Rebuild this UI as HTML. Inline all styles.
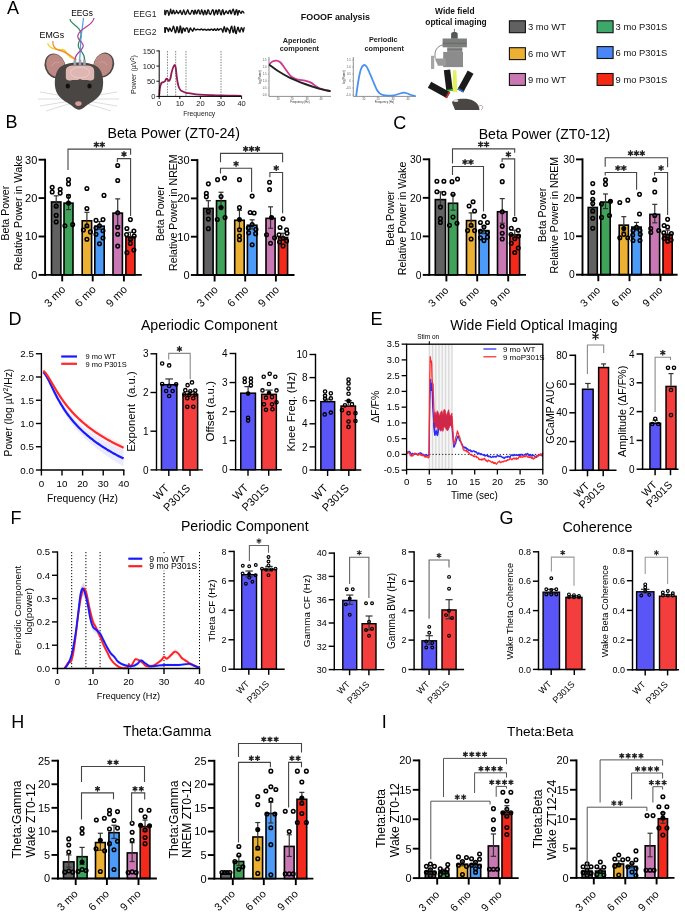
<!DOCTYPE html>
<html><head><meta charset="utf-8"><style>html,body{margin:0;padding:0;background:#fff;}svg{display:block;font-family:"Liberation Sans",sans-serif;will-change:transform;}</style></head><body>
<svg width="685" height="912" viewBox="0 0 685 912" font-family="Liberation Sans, sans-serif">
<rect x="0" y="0" width="685" height="912" fill="#fff"/>
<text x="7" y="13.9" font-size="18">A</text>
<text x="5.6" y="127.8" font-size="18">B</text>
<text x="393.3" y="129" font-size="18">C</text>
<text x="8.6" y="325" font-size="18">D</text>
<text x="370.5" y="325" font-size="18">E</text>
<text x="10.5" y="524" font-size="18">F</text>
<text x="499.5" y="524" font-size="18">G</text>
<text x="11.2" y="727.6" font-size="18">H</text>
<text x="381.7" y="727.6" font-size="18">I</text>
<text x="107.5" y="137.7" font-size="14.2">Beta Power (ZT0-24)</text>
<text x="610.3" y="138.6" font-size="14.1" text-anchor="end">Beta Power (ZT0-12)</text>
<text x="140.9" y="329.5" font-size="14.2">Aperiodic Component</text>
<text x="617.6" y="329.5" font-size="14" text-anchor="end">Wide Field Optical Imaging</text>
<text x="308.6" y="531" font-size="14.1" text-anchor="end">Periodic Component</text>
<text x="562.5" y="532" font-size="14.3">Coherence</text>
<text x="123" y="736.3" font-size="13.8">Theta:Gamma</text>
<text x="507.1" y="736.3" font-size="13.6">Theta:Beta</text>
<rect x="51.5" y="201.97" width="9.4" height="72.93" fill="#616161" stroke="#000" stroke-width="1.6"/>
<rect x="64" y="203.12" width="9" height="71.78" fill="#3fa45a" stroke="#000" stroke-width="1.6"/>
<rect x="82.2" y="220.79" width="9.4" height="54.11" fill="#ecb032" stroke="#000" stroke-width="1.6"/>
<rect x="94.8" y="226.16" width="9.4" height="48.74" fill="#4c9bf8" stroke="#000" stroke-width="1.6"/>
<rect x="113" y="213.11" width="9.4" height="61.79" fill="#c978b4" stroke="#000" stroke-width="1.6"/>
<rect x="125.9" y="236.92" width="9" height="37.98" fill="#f4281b" stroke="#000" stroke-width="1.6"/>
<line x1="56.2" y1="195.8" x2="56.2" y2="206.55" stroke="#333" stroke-width="1.2"/>
<line x1="53.7" y1="206.55" x2="58.7" y2="206.55" stroke="#333" stroke-width="1.2"/>
<line x1="53.7" y1="195.8" x2="58.7" y2="195.8" stroke="#333" stroke-width="1.2"/>
<line x1="68.5" y1="195.03" x2="68.5" y2="209.62" stroke="#333" stroke-width="1.2"/>
<line x1="66" y1="209.62" x2="71" y2="209.62" stroke="#333" stroke-width="1.2"/>
<line x1="66" y1="195.03" x2="71" y2="195.03" stroke="#333" stroke-width="1.2"/>
<line x1="86.9" y1="212.31" x2="86.9" y2="227.67" stroke="#333" stroke-width="1.2"/>
<line x1="84.4" y1="227.67" x2="89.4" y2="227.67" stroke="#333" stroke-width="1.2"/>
<line x1="84.4" y1="212.31" x2="89.4" y2="212.31" stroke="#333" stroke-width="1.2"/>
<line x1="99.5" y1="221.52" x2="99.5" y2="229.2" stroke="#333" stroke-width="1.2"/>
<line x1="97" y1="229.2" x2="102" y2="229.2" stroke="#333" stroke-width="1.2"/>
<line x1="97" y1="221.52" x2="102" y2="221.52" stroke="#333" stroke-width="1.2"/>
<line x1="117.7" y1="198.87" x2="117.7" y2="225.75" stroke="#333" stroke-width="1.2"/>
<line x1="115.2" y1="225.75" x2="120.2" y2="225.75" stroke="#333" stroke-width="1.2"/>
<line x1="115.2" y1="198.87" x2="120.2" y2="198.87" stroke="#333" stroke-width="1.2"/>
<line x1="130.4" y1="232.28" x2="130.4" y2="239.96" stroke="#333" stroke-width="1.2"/>
<line x1="127.9" y1="239.96" x2="132.9" y2="239.96" stroke="#333" stroke-width="1.2"/>
<line x1="127.9" y1="232.28" x2="132.9" y2="232.28" stroke="#333" stroke-width="1.2"/>
<circle cx="52.2" cy="187.35" r="1.8" fill="none" stroke="#000" stroke-width="1.5"/>
<circle cx="52.2" cy="191.96" r="1.8" fill="none" stroke="#000" stroke-width="1.5"/>
<circle cx="60.2" cy="189.27" r="1.8" fill="none" stroke="#000" stroke-width="1.5"/>
<circle cx="60.2" cy="193.11" r="1.8" fill="none" stroke="#000" stroke-width="1.5"/>
<circle cx="56.2" cy="206.16" r="1.8" fill="none" stroke="#000" stroke-width="1.5"/>
<circle cx="56.2" cy="215.38" r="1.8" fill="none" stroke="#000" stroke-width="1.5"/>
<circle cx="56.2" cy="221.91" r="1.8" fill="none" stroke="#000" stroke-width="1.5"/>
<circle cx="68.5" cy="179.67" r="1.8" fill="none" stroke="#000" stroke-width="1.5"/>
<circle cx="68.5" cy="183.89" r="1.8" fill="none" stroke="#000" stroke-width="1.5"/>
<circle cx="68.5" cy="196.18" r="1.8" fill="none" stroke="#000" stroke-width="1.5"/>
<circle cx="68.5" cy="203.09" r="1.8" fill="#000" stroke="#000" stroke-width="1.5"/>
<circle cx="64.9" cy="225.75" r="1.8" fill="none" stroke="#000" stroke-width="1.5"/>
<circle cx="72.7" cy="224.6" r="1.8" fill="none" stroke="#000" stroke-width="1.5"/>
<circle cx="86.9" cy="188.5" r="1.8" fill="none" stroke="#000" stroke-width="1.5"/>
<circle cx="86.9" cy="208.47" r="1.8" fill="none" stroke="#000" stroke-width="1.5"/>
<circle cx="86.9" cy="225.75" r="1.8" fill="none" stroke="#000" stroke-width="1.5"/>
<circle cx="83.4" cy="229.97" r="1.8" fill="none" stroke="#000" stroke-width="1.5"/>
<circle cx="90.4" cy="231.89" r="1.8" fill="none" stroke="#000" stroke-width="1.5"/>
<circle cx="86.9" cy="239.19" r="1.8" fill="none" stroke="#000" stroke-width="1.5"/>
<circle cx="96" cy="220.37" r="1.8" fill="none" stroke="#000" stroke-width="1.5"/>
<circle cx="103" cy="219.6" r="1.8" fill="none" stroke="#000" stroke-width="1.5"/>
<circle cx="99.5" cy="225.75" r="1.8" fill="none" stroke="#000" stroke-width="1.5"/>
<circle cx="96" cy="228.05" r="1.8" fill="none" stroke="#000" stroke-width="1.5"/>
<circle cx="103" cy="230.74" r="1.8" fill="none" stroke="#000" stroke-width="1.5"/>
<circle cx="96" cy="234.2" r="1.8" fill="none" stroke="#000" stroke-width="1.5"/>
<circle cx="103" cy="238.04" r="1.8" fill="none" stroke="#000" stroke-width="1.5"/>
<circle cx="99.5" cy="243.8" r="1.8" fill="none" stroke="#000" stroke-width="1.5"/>
<circle cx="104" cy="195.41" r="1.8" fill="none" stroke="#000" stroke-width="1.5"/>
<circle cx="117.7" cy="165.46" r="1.8" fill="none" stroke="#000" stroke-width="1.5"/>
<circle cx="117.7" cy="180.44" r="1.8" fill="none" stroke="#000" stroke-width="1.5"/>
<circle cx="117.7" cy="212.69" r="1.8" fill="none" stroke="#000" stroke-width="1.5"/>
<circle cx="117.7" cy="227.28" r="1.8" fill="none" stroke="#000" stroke-width="1.5"/>
<circle cx="117.7" cy="234.2" r="1.8" fill="none" stroke="#000" stroke-width="1.5"/>
<circle cx="117.7" cy="246.1" r="1.8" fill="none" stroke="#000" stroke-width="1.5"/>
<circle cx="130.4" cy="219.6" r="1.8" fill="none" stroke="#000" stroke-width="1.5"/>
<circle cx="126.9" cy="228.44" r="1.8" fill="none" stroke="#000" stroke-width="1.5"/>
<circle cx="133.9" cy="231.12" r="1.8" fill="none" stroke="#000" stroke-width="1.5"/>
<circle cx="126.6" cy="234.58" r="1.8" fill="none" stroke="#000" stroke-width="1.5"/>
<circle cx="134.2" cy="236.12" r="1.8" fill="none" stroke="#000" stroke-width="1.5"/>
<circle cx="130.4" cy="243.41" r="1.8" fill="none" stroke="#000" stroke-width="1.5"/>
<circle cx="126.9" cy="252.63" r="1.8" fill="none" stroke="#000" stroke-width="1.5"/>
<circle cx="133.9" cy="249.94" r="1.8" fill="none" stroke="#000" stroke-width="1.5"/>
<circle cx="130.4" cy="239.19" r="1.8" fill="none" stroke="#000" stroke-width="1.5"/>
<line x1="45.1" y1="158.75" x2="45.1" y2="275.85" stroke="#000" stroke-width="1.9"/>
<line x1="44.15" y1="274.9" x2="141.8" y2="274.9" stroke="#000" stroke-width="1.9"/>
<line x1="38.6" y1="274.9" x2="45.1" y2="274.9" stroke="#000" stroke-width="1.9"/>
<text x="37.3" y="278.86" font-size="11" text-anchor="end">0</text>
<line x1="38.6" y1="236.5" x2="45.1" y2="236.5" stroke="#000" stroke-width="1.9"/>
<text x="37.3" y="240.46" font-size="11" text-anchor="end">10</text>
<line x1="38.6" y1="198.1" x2="45.1" y2="198.1" stroke="#000" stroke-width="1.9"/>
<text x="37.3" y="202.06" font-size="11" text-anchor="end">20</text>
<line x1="38.6" y1="159.7" x2="45.1" y2="159.7" stroke="#000" stroke-width="1.9"/>
<text x="37.3" y="163.66" font-size="11" text-anchor="end">30</text>
<line x1="62.2" y1="274.9" x2="62.2" y2="281.4" stroke="#000" stroke-width="1.9"/>
<line x1="92.7" y1="274.9" x2="92.7" y2="281.4" stroke="#000" stroke-width="1.9"/>
<line x1="123.9" y1="274.9" x2="123.9" y2="281.4" stroke="#000" stroke-width="1.9"/>
<text x="66.2" y="290.2" font-size="11.1" text-anchor="end" transform="rotate(-45 66.2 290.2)">3 mo</text>
<text x="96.7" y="290.2" font-size="11.1" text-anchor="end" transform="rotate(-45 96.7 290.2)">6 mo</text>
<text x="127.9" y="290.2" font-size="11.1" text-anchor="end" transform="rotate(-45 127.9 290.2)">9 mo</text>
<text x="9.1" y="213.2" font-size="10.6" text-anchor="middle" transform="rotate(-90 9.1 213.2)">Beta Power</text>
<text x="22.1" y="212.9" font-size="10.9" text-anchor="middle" transform="rotate(-90 22.1 212.9)">Relative Power in Wake</text>
<path d="M68 170 L68 149.1 L130.6 149.1 L130.6 154.7" stroke="#444" stroke-width="1.1" fill="none"/>
<path d="M96.35 142.2 L96.35 147 M94.27 143.4 L98.43 145.8 M98.43 143.4 L94.27 145.8" stroke="#222" stroke-width="1.4" fill="none" stroke-linecap="round"/>
<path d="M102.25 142.2 L102.25 147 M100.17 143.4 L104.33 145.8 M104.33 143.4 L100.17 145.8" stroke="#222" stroke-width="1.4" fill="none" stroke-linecap="round"/>
<path d="M117.4 162 L117.4 158.6 L130.6 158.6 L130.6 216" stroke="#444" stroke-width="1.1" fill="none"/>
<path d="M124 151.7 L124 156.5 M121.92 152.9 L126.08 155.3 M126.08 152.9 L121.92 155.3" stroke="#222" stroke-width="1.4" fill="none" stroke-linecap="round"/>
<rect x="203.6" y="208.39" width="9.5" height="66.61" fill="#616161" stroke="#000" stroke-width="1.6"/>
<rect x="216.5" y="200.73" width="9.1" height="74.27" fill="#3fa45a" stroke="#000" stroke-width="1.6"/>
<rect x="234.7" y="220.27" width="9.5" height="54.73" fill="#ecb032" stroke="#000" stroke-width="1.6"/>
<rect x="247.4" y="225.24" width="9.5" height="49.76" fill="#4c9bf8" stroke="#000" stroke-width="1.6"/>
<rect x="266" y="218.35" width="9.1" height="56.65" fill="#c978b4" stroke="#000" stroke-width="1.6"/>
<rect x="278.5" y="237.5" width="9.1" height="37.5" fill="#f4281b" stroke="#000" stroke-width="1.6"/>
<line x1="208.35" y1="200.7" x2="208.35" y2="214.49" stroke="#333" stroke-width="1.2"/>
<line x1="205.85" y1="214.49" x2="210.85" y2="214.49" stroke="#333" stroke-width="1.2"/>
<line x1="205.85" y1="200.7" x2="210.85" y2="200.7" stroke="#333" stroke-width="1.2"/>
<line x1="221.05" y1="192.27" x2="221.05" y2="207.59" stroke="#333" stroke-width="1.2"/>
<line x1="218.55" y1="207.59" x2="223.55" y2="207.59" stroke="#333" stroke-width="1.2"/>
<line x1="218.55" y1="192.27" x2="223.55" y2="192.27" stroke="#333" stroke-width="1.2"/>
<line x1="239.45" y1="210.27" x2="239.45" y2="228.66" stroke="#333" stroke-width="1.2"/>
<line x1="236.95" y1="228.66" x2="241.95" y2="228.66" stroke="#333" stroke-width="1.2"/>
<line x1="236.95" y1="210.27" x2="241.95" y2="210.27" stroke="#333" stroke-width="1.2"/>
<line x1="252.15" y1="219.85" x2="252.15" y2="229.04" stroke="#333" stroke-width="1.2"/>
<line x1="249.65" y1="229.04" x2="254.65" y2="229.04" stroke="#333" stroke-width="1.2"/>
<line x1="249.65" y1="219.85" x2="254.65" y2="219.85" stroke="#333" stroke-width="1.2"/>
<line x1="270.55" y1="206.83" x2="270.55" y2="228.27" stroke="#333" stroke-width="1.2"/>
<line x1="268.05" y1="228.27" x2="273.05" y2="228.27" stroke="#333" stroke-width="1.2"/>
<line x1="268.05" y1="206.83" x2="273.05" y2="206.83" stroke="#333" stroke-width="1.2"/>
<line x1="283.05" y1="233.25" x2="283.05" y2="240.15" stroke="#333" stroke-width="1.2"/>
<line x1="280.55" y1="240.15" x2="285.55" y2="240.15" stroke="#333" stroke-width="1.2"/>
<line x1="280.55" y1="233.25" x2="285.55" y2="233.25" stroke="#333" stroke-width="1.2"/>
<circle cx="208.35" cy="183.85" r="1.8" fill="none" stroke="#000" stroke-width="1.5"/>
<circle cx="206.35" cy="193.42" r="1.8" fill="none" stroke="#000" stroke-width="1.5"/>
<circle cx="206.35" cy="196.87" r="1.8" fill="none" stroke="#000" stroke-width="1.5"/>
<circle cx="208.35" cy="211.42" r="1.8" fill="none" stroke="#000" stroke-width="1.5"/>
<circle cx="208.35" cy="219.08" r="1.8" fill="none" stroke="#000" stroke-width="1.5"/>
<circle cx="208.35" cy="228.66" r="1.8" fill="none" stroke="#000" stroke-width="1.5"/>
<circle cx="217.55" cy="179.63" r="1.8" fill="none" stroke="#000" stroke-width="1.5"/>
<circle cx="224.55" cy="178.1" r="1.8" fill="none" stroke="#000" stroke-width="1.5"/>
<circle cx="221.05" cy="196.49" r="1.8" fill="none" stroke="#000" stroke-width="1.5"/>
<circle cx="217.25" cy="219.47" r="1.8" fill="none" stroke="#000" stroke-width="1.5"/>
<circle cx="225.05" cy="217.55" r="1.8" fill="none" stroke="#000" stroke-width="1.5"/>
<circle cx="221.05" cy="207.59" r="1.8" fill="#000" stroke="#000" stroke-width="1.5"/>
<circle cx="239.45" cy="179.63" r="1.8" fill="none" stroke="#000" stroke-width="1.5"/>
<circle cx="239.45" cy="207.59" r="1.8" fill="none" stroke="#000" stroke-width="1.5"/>
<circle cx="239.45" cy="219.47" r="1.8" fill="#000" stroke="#000" stroke-width="1.5"/>
<circle cx="239.45" cy="229.81" r="1.8" fill="none" stroke="#000" stroke-width="1.5"/>
<circle cx="239.45" cy="235.93" r="1.8" fill="none" stroke="#000" stroke-width="1.5"/>
<circle cx="239.45" cy="239.76" r="1.8" fill="none" stroke="#000" stroke-width="1.5"/>
<circle cx="252.15" cy="196.1" r="1.8" fill="none" stroke="#000" stroke-width="1.5"/>
<circle cx="250.15" cy="212.57" r="1.8" fill="none" stroke="#000" stroke-width="1.5"/>
<circle cx="254.15" cy="212.95" r="1.8" fill="none" stroke="#000" stroke-width="1.5"/>
<circle cx="252.15" cy="224.44" r="1.8" fill="none" stroke="#000" stroke-width="1.5"/>
<circle cx="248.35" cy="227.89" r="1.8" fill="none" stroke="#000" stroke-width="1.5"/>
<circle cx="255.95" cy="229.42" r="1.8" fill="none" stroke="#000" stroke-width="1.5"/>
<circle cx="248.65" cy="232.87" r="1.8" fill="none" stroke="#000" stroke-width="1.5"/>
<circle cx="255.65" cy="233.64" r="1.8" fill="none" stroke="#000" stroke-width="1.5"/>
<circle cx="252.15" cy="244.74" r="1.8" fill="none" stroke="#000" stroke-width="1.5"/>
<circle cx="269.55" cy="182.31" r="1.8" fill="none" stroke="#000" stroke-width="1.5"/>
<circle cx="269.55" cy="189.59" r="1.8" fill="none" stroke="#000" stroke-width="1.5"/>
<circle cx="266.55" cy="234.78" r="1.8" fill="none" stroke="#000" stroke-width="1.5"/>
<circle cx="274.55" cy="237.85" r="1.8" fill="none" stroke="#000" stroke-width="1.5"/>
<circle cx="270.55" cy="243.21" r="1.8" fill="none" stroke="#000" stroke-width="1.5"/>
<circle cx="271.55" cy="217.55" r="1.8" fill="#000" stroke="#000" stroke-width="1.5"/>
<circle cx="283.05" cy="218.7" r="1.8" fill="none" stroke="#000" stroke-width="1.5"/>
<circle cx="280.05" cy="227.51" r="1.8" fill="none" stroke="#000" stroke-width="1.5"/>
<circle cx="286.55" cy="229.81" r="1.8" fill="none" stroke="#000" stroke-width="1.5"/>
<circle cx="279.05" cy="234.78" r="1.8" fill="none" stroke="#000" stroke-width="1.5"/>
<circle cx="287.05" cy="233.25" r="1.8" fill="none" stroke="#000" stroke-width="1.5"/>
<circle cx="283.05" cy="238.23" r="1.8" fill="none" stroke="#000" stroke-width="1.5"/>
<circle cx="279.55" cy="242.06" r="1.8" fill="none" stroke="#000" stroke-width="1.5"/>
<circle cx="286.55" cy="240.91" r="1.8" fill="none" stroke="#000" stroke-width="1.5"/>
<circle cx="283.05" cy="245.89" r="1.8" fill="none" stroke="#000" stroke-width="1.5"/>
<line x1="197.4" y1="159.15" x2="197.4" y2="275.95" stroke="#000" stroke-width="1.9"/>
<line x1="196.45" y1="275" x2="294.5" y2="275" stroke="#000" stroke-width="1.9"/>
<line x1="190.9" y1="275" x2="197.4" y2="275" stroke="#000" stroke-width="1.9"/>
<text x="189.6" y="278.96" font-size="11" text-anchor="end">0</text>
<line x1="190.9" y1="236.7" x2="197.4" y2="236.7" stroke="#000" stroke-width="1.9"/>
<text x="189.6" y="240.66" font-size="11" text-anchor="end">10</text>
<line x1="190.9" y1="198.4" x2="197.4" y2="198.4" stroke="#000" stroke-width="1.9"/>
<text x="189.6" y="202.36" font-size="11" text-anchor="end">20</text>
<line x1="190.9" y1="160.1" x2="197.4" y2="160.1" stroke="#000" stroke-width="1.9"/>
<text x="189.6" y="164.06" font-size="11" text-anchor="end">30</text>
<line x1="214.6" y1="275" x2="214.6" y2="281.5" stroke="#000" stroke-width="1.9"/>
<line x1="245.2" y1="275" x2="245.2" y2="281.5" stroke="#000" stroke-width="1.9"/>
<line x1="275.9" y1="275" x2="275.9" y2="281.5" stroke="#000" stroke-width="1.9"/>
<text x="218.6" y="290.3" font-size="11.1" text-anchor="end" transform="rotate(-45 218.6 290.3)">3 mo</text>
<text x="249.2" y="290.3" font-size="11.1" text-anchor="end" transform="rotate(-45 249.2 290.3)">6 mo</text>
<text x="279.9" y="290.3" font-size="11.1" text-anchor="end" transform="rotate(-45 279.9 290.3)">9 mo</text>
<text x="164.2" y="213.7" font-size="10.6" text-anchor="middle" transform="rotate(-90 164.2 213.7)">Beta Power</text>
<text x="176.8" y="212.6" font-size="10.6" text-anchor="middle" transform="rotate(-90 176.8 212.6)">Relative Power in NREM</text>
<path d="M220.5 162.3 L220.5 153.4 L282.6 153.4 L282.6 162.3" stroke="#444" stroke-width="1.1" fill="none"/>
<path d="M245.65 146.5 L245.65 151.3 M243.57 147.7 L247.73 150.1 M247.73 147.7 L243.57 150.1" stroke="#222" stroke-width="1.4" fill="none" stroke-linecap="round"/>
<path d="M251.55 146.5 L251.55 151.3 M249.47 147.7 L253.63 150.1 M253.63 147.7 L249.47 150.1" stroke="#222" stroke-width="1.4" fill="none" stroke-linecap="round"/>
<path d="M257.45 146.5 L257.45 151.3 M255.37 147.7 L259.53 150.1 M259.53 147.7 L255.37 150.1" stroke="#222" stroke-width="1.4" fill="none" stroke-linecap="round"/>
<path d="M220.5 173.5 L220.5 168.3 L251.6 168.3 L251.6 192.1" stroke="#444" stroke-width="1.1" fill="none"/>
<path d="M236.05 161.4 L236.05 166.2 M233.97 162.6 L238.13 165 M238.13 162.6 L233.97 165" stroke="#222" stroke-width="1.4" fill="none" stroke-linecap="round"/>
<path d="M269.9 177.2 L269.9 172.5 L282.6 172.5 L282.6 213.2" stroke="#444" stroke-width="1.1" fill="none"/>
<path d="M276.25 165.6 L276.25 170.4 M274.17 166.8 L278.33 169.2 M278.33 166.8 L274.17 169.2" stroke="#222" stroke-width="1.4" fill="none" stroke-linecap="round"/>
<rect x="435.3" y="199.6" width="10.2" height="75.3" fill="#616161" stroke="#000" stroke-width="1.6"/>
<rect x="448.4" y="203.26" width="9.2" height="71.64" fill="#3fa45a" stroke="#000" stroke-width="1.6"/>
<rect x="466.5" y="220.6" width="9.2" height="54.3" fill="#ecb032" stroke="#000" stroke-width="1.6"/>
<rect x="479.1" y="230.62" width="9.7" height="44.28" fill="#4c9bf8" stroke="#000" stroke-width="1.6"/>
<rect x="497.5" y="211.74" width="9.5" height="63.16" fill="#c978b4" stroke="#000" stroke-width="1.6"/>
<rect x="509.9" y="234.86" width="9.7" height="40.04" fill="#f4281b" stroke="#000" stroke-width="1.6"/>
<line x1="440.4" y1="191.87" x2="440.4" y2="205.74" stroke="#333" stroke-width="1.2"/>
<line x1="437.76" y1="205.74" x2="443.04" y2="205.74" stroke="#333" stroke-width="1.2"/>
<line x1="437.76" y1="191.87" x2="443.04" y2="191.87" stroke="#333" stroke-width="1.2"/>
<line x1="453" y1="194.76" x2="453" y2="210.17" stroke="#333" stroke-width="1.2"/>
<line x1="450.5" y1="210.17" x2="455.5" y2="210.17" stroke="#333" stroke-width="1.2"/>
<line x1="450.5" y1="194.76" x2="455.5" y2="194.76" stroke="#333" stroke-width="1.2"/>
<line x1="471.1" y1="212.87" x2="471.1" y2="226.74" stroke="#333" stroke-width="1.2"/>
<line x1="468.6" y1="226.74" x2="473.6" y2="226.74" stroke="#333" stroke-width="1.2"/>
<line x1="468.6" y1="212.87" x2="473.6" y2="212.87" stroke="#333" stroke-width="1.2"/>
<line x1="483.95" y1="225.97" x2="483.95" y2="233.67" stroke="#333" stroke-width="1.2"/>
<line x1="481.43" y1="233.67" x2="486.47" y2="233.67" stroke="#333" stroke-width="1.2"/>
<line x1="481.43" y1="225.97" x2="486.47" y2="225.97" stroke="#333" stroke-width="1.2"/>
<line x1="502.25" y1="198.61" x2="502.25" y2="223.27" stroke="#333" stroke-width="1.2"/>
<line x1="499.75" y1="223.27" x2="504.75" y2="223.27" stroke="#333" stroke-width="1.2"/>
<line x1="499.75" y1="198.61" x2="504.75" y2="198.61" stroke="#333" stroke-width="1.2"/>
<line x1="514.75" y1="230.21" x2="514.75" y2="237.91" stroke="#333" stroke-width="1.2"/>
<line x1="512.23" y1="237.91" x2="517.27" y2="237.91" stroke="#333" stroke-width="1.2"/>
<line x1="512.23" y1="230.21" x2="517.27" y2="230.21" stroke="#333" stroke-width="1.2"/>
<circle cx="436.9" cy="181.27" r="1.8" fill="none" stroke="#000" stroke-width="1.5"/>
<circle cx="443.9" cy="181.27" r="1.8" fill="none" stroke="#000" stroke-width="1.5"/>
<circle cx="436.9" cy="191.68" r="1.8" fill="none" stroke="#000" stroke-width="1.5"/>
<circle cx="443.9" cy="193.22" r="1.8" fill="none" stroke="#000" stroke-width="1.5"/>
<circle cx="440.4" cy="207.09" r="1.8" fill="none" stroke="#000" stroke-width="1.5"/>
<circle cx="440.4" cy="218.65" r="1.8" fill="none" stroke="#000" stroke-width="1.5"/>
<circle cx="440.4" cy="222.5" r="1.8" fill="none" stroke="#000" stroke-width="1.5"/>
<circle cx="457.5" cy="178.96" r="1.8" fill="none" stroke="#000" stroke-width="1.5"/>
<circle cx="452" cy="181.66" r="1.8" fill="none" stroke="#000" stroke-width="1.5"/>
<circle cx="453" cy="194.37" r="1.8" fill="none" stroke="#000" stroke-width="1.5"/>
<circle cx="453" cy="217.1" r="1.8" fill="none" stroke="#000" stroke-width="1.5"/>
<circle cx="449.5" cy="225.2" r="1.8" fill="none" stroke="#000" stroke-width="1.5"/>
<circle cx="457" cy="223.27" r="1.8" fill="none" stroke="#000" stroke-width="1.5"/>
<circle cx="469.1" cy="205.93" r="1.8" fill="none" stroke="#000" stroke-width="1.5"/>
<circle cx="473.1" cy="201.69" r="1.8" fill="none" stroke="#000" stroke-width="1.5"/>
<circle cx="474.6" cy="210.94" r="1.8" fill="none" stroke="#000" stroke-width="1.5"/>
<circle cx="471.1" cy="225.2" r="1.8" fill="none" stroke="#000" stroke-width="1.5"/>
<circle cx="467.6" cy="230.59" r="1.8" fill="none" stroke="#000" stroke-width="1.5"/>
<circle cx="474.6" cy="230.59" r="1.8" fill="none" stroke="#000" stroke-width="1.5"/>
<circle cx="471.1" cy="239.07" r="1.8" fill="none" stroke="#000" stroke-width="1.5"/>
<circle cx="483.95" cy="216.33" r="1.8" fill="none" stroke="#000" stroke-width="1.5"/>
<circle cx="480.45" cy="222.5" r="1.8" fill="none" stroke="#000" stroke-width="1.5"/>
<circle cx="487.45" cy="222.5" r="1.8" fill="none" stroke="#000" stroke-width="1.5"/>
<circle cx="483.95" cy="227.12" r="1.8" fill="none" stroke="#000" stroke-width="1.5"/>
<circle cx="480.45" cy="231.36" r="1.8" fill="none" stroke="#000" stroke-width="1.5"/>
<circle cx="487.45" cy="232.52" r="1.8" fill="none" stroke="#000" stroke-width="1.5"/>
<circle cx="480.45" cy="237.91" r="1.8" fill="none" stroke="#000" stroke-width="1.5"/>
<circle cx="487.45" cy="237.14" r="1.8" fill="none" stroke="#000" stroke-width="1.5"/>
<circle cx="483.95" cy="240.61" r="1.8" fill="none" stroke="#000" stroke-width="1.5"/>
<circle cx="502.25" cy="165.86" r="1.8" fill="none" stroke="#000" stroke-width="1.5"/>
<circle cx="502.25" cy="181.66" r="1.8" fill="none" stroke="#000" stroke-width="1.5"/>
<circle cx="502.25" cy="211.71" r="1.8" fill="none" stroke="#000" stroke-width="1.5"/>
<circle cx="502.25" cy="226.35" r="1.8" fill="none" stroke="#000" stroke-width="1.5"/>
<circle cx="502.25" cy="233.29" r="1.8" fill="none" stroke="#000" stroke-width="1.5"/>
<circle cx="502.25" cy="239.07" r="1.8" fill="none" stroke="#000" stroke-width="1.5"/>
<circle cx="514.75" cy="219.42" r="1.8" fill="none" stroke="#000" stroke-width="1.5"/>
<circle cx="511.25" cy="228.28" r="1.8" fill="none" stroke="#000" stroke-width="1.5"/>
<circle cx="518.25" cy="230.21" r="1.8" fill="none" stroke="#000" stroke-width="1.5"/>
<circle cx="510.95" cy="234.44" r="1.8" fill="none" stroke="#000" stroke-width="1.5"/>
<circle cx="518.55" cy="235.98" r="1.8" fill="none" stroke="#000" stroke-width="1.5"/>
<circle cx="514.75" cy="238.68" r="1.8" fill="none" stroke="#000" stroke-width="1.5"/>
<circle cx="511.25" cy="243.31" r="1.8" fill="none" stroke="#000" stroke-width="1.5"/>
<circle cx="518.25" cy="247.93" r="1.8" fill="none" stroke="#000" stroke-width="1.5"/>
<circle cx="514.75" cy="252.55" r="1.8" fill="none" stroke="#000" stroke-width="1.5"/>
<line x1="429.3" y1="158.36" x2="429.3" y2="275.85" stroke="#000" stroke-width="1.9"/>
<line x1="428.35" y1="274.9" x2="526" y2="274.9" stroke="#000" stroke-width="1.9"/>
<line x1="422.8" y1="274.9" x2="429.3" y2="274.9" stroke="#000" stroke-width="1.9"/>
<text x="421.5" y="278.61" font-size="10.3" text-anchor="end">0</text>
<line x1="422.8" y1="236.37" x2="429.3" y2="236.37" stroke="#000" stroke-width="1.9"/>
<text x="421.5" y="240.08" font-size="10.3" text-anchor="end">10</text>
<line x1="422.8" y1="197.84" x2="429.3" y2="197.84" stroke="#000" stroke-width="1.9"/>
<text x="421.5" y="201.55" font-size="10.3" text-anchor="end">20</text>
<line x1="422.8" y1="159.31" x2="429.3" y2="159.31" stroke="#000" stroke-width="1.9"/>
<text x="421.5" y="163.02" font-size="10.3" text-anchor="end">30</text>
<line x1="446.4" y1="274.9" x2="446.4" y2="281.4" stroke="#000" stroke-width="1.9"/>
<line x1="477.2" y1="274.9" x2="477.2" y2="281.4" stroke="#000" stroke-width="1.9"/>
<line x1="508.2" y1="274.9" x2="508.2" y2="281.4" stroke="#000" stroke-width="1.9"/>
<text x="449.1" y="291.1" font-size="10.5" text-anchor="end" transform="rotate(-45 449.1 291.1)">3 mo</text>
<text x="479.9" y="291.1" font-size="10.5" text-anchor="end" transform="rotate(-45 479.9 291.1)">6 mo</text>
<text x="510.9" y="291.1" font-size="10.5" text-anchor="end" transform="rotate(-45 510.9 291.1)">9 mo</text>
<text x="393.7" y="218.3" font-size="10.6" text-anchor="middle" transform="rotate(-90 393.7 218.3)">Beta Power</text>
<text x="406.2" y="218.4" font-size="10.75" text-anchor="middle" transform="rotate(-90 406.2 218.4)">Relative Power in Wake</text>
<path d="M452.5 163.4 L452.5 148.9 L514.7 148.9 L514.7 152.8" stroke="#444" stroke-width="1.1" fill="none"/>
<path d="M480.65 142 L480.65 146.8 M478.57 143.2 L482.73 145.6 M482.73 143.2 L478.57 145.6" stroke="#222" stroke-width="1.4" fill="none" stroke-linecap="round"/>
<path d="M486.55 142 L486.55 146.8 M484.47 143.2 L488.63 145.6 M488.63 143.2 L484.47 145.6" stroke="#222" stroke-width="1.4" fill="none" stroke-linecap="round"/>
<path d="M452.5 175 L452.5 166.5 L483.5 166.5 L483.5 211.5" stroke="#444" stroke-width="1.1" fill="none"/>
<path d="M465.05 159.6 L465.05 164.4 M462.97 160.8 L467.13 163.2 M467.13 160.8 L462.97 163.2" stroke="#222" stroke-width="1.4" fill="none" stroke-linecap="round"/>
<path d="M470.95 159.6 L470.95 164.4 M468.87 160.8 L473.03 163.2 M473.03 160.8 L468.87 163.2" stroke="#222" stroke-width="1.4" fill="none" stroke-linecap="round"/>
<path d="M502.1 161.9 L502.1 158.9 L514.7 158.9 L514.7 215.9" stroke="#444" stroke-width="1.1" fill="none"/>
<path d="M508.4 152 L508.4 156.8 M506.32 153.2 L510.48 155.6 M510.48 153.2 L506.32 155.6" stroke="#222" stroke-width="1.4" fill="none" stroke-linecap="round"/>
<rect x="588.2" y="207.46" width="9.1" height="67.24" fill="#616161" stroke="#000" stroke-width="1.6"/>
<rect x="600.8" y="202.08" width="9.4" height="72.62" fill="#3fa45a" stroke="#000" stroke-width="1.6"/>
<rect x="619.2" y="225.14" width="9.2" height="49.56" fill="#ecb032" stroke="#000" stroke-width="1.6"/>
<rect x="631.8" y="227.07" width="9.4" height="47.63" fill="#4c9bf8" stroke="#000" stroke-width="1.6"/>
<rect x="649.9" y="214.38" width="9.7" height="60.32" fill="#c978b4" stroke="#000" stroke-width="1.6"/>
<rect x="663" y="234.37" width="9.2" height="40.33" fill="#f4281b" stroke="#000" stroke-width="1.6"/>
<line x1="592.75" y1="200.13" x2="592.75" y2="213.2" stroke="#333" stroke-width="1.2"/>
<line x1="590.25" y1="213.2" x2="595.25" y2="213.2" stroke="#333" stroke-width="1.2"/>
<line x1="590.25" y1="200.13" x2="595.25" y2="200.13" stroke="#333" stroke-width="1.2"/>
<line x1="605.5" y1="193.98" x2="605.5" y2="208.58" stroke="#333" stroke-width="1.2"/>
<line x1="603" y1="208.58" x2="608" y2="208.58" stroke="#333" stroke-width="1.2"/>
<line x1="603" y1="193.98" x2="608" y2="193.98" stroke="#333" stroke-width="1.2"/>
<line x1="623.8" y1="216.66" x2="623.8" y2="232.03" stroke="#333" stroke-width="1.2"/>
<line x1="621.3" y1="232.03" x2="626.3" y2="232.03" stroke="#333" stroke-width="1.2"/>
<line x1="621.3" y1="216.66" x2="626.3" y2="216.66" stroke="#333" stroke-width="1.2"/>
<line x1="636.5" y1="222.42" x2="636.5" y2="230.11" stroke="#333" stroke-width="1.2"/>
<line x1="634" y1="230.11" x2="639" y2="230.11" stroke="#333" stroke-width="1.2"/>
<line x1="634" y1="222.42" x2="639" y2="222.42" stroke="#333" stroke-width="1.2"/>
<line x1="654.75" y1="204.35" x2="654.75" y2="222.81" stroke="#333" stroke-width="1.2"/>
<line x1="652.23" y1="222.81" x2="657.27" y2="222.81" stroke="#333" stroke-width="1.2"/>
<line x1="652.23" y1="204.35" x2="657.27" y2="204.35" stroke="#333" stroke-width="1.2"/>
<line x1="667.6" y1="230.11" x2="667.6" y2="237.03" stroke="#333" stroke-width="1.2"/>
<line x1="665.1" y1="237.03" x2="670.1" y2="237.03" stroke="#333" stroke-width="1.2"/>
<line x1="665.1" y1="230.11" x2="670.1" y2="230.11" stroke="#333" stroke-width="1.2"/>
<circle cx="592.75" cy="183.6" r="1.8" fill="none" stroke="#000" stroke-width="1.5"/>
<circle cx="592.75" cy="192.44" r="1.8" fill="none" stroke="#000" stroke-width="1.5"/>
<circle cx="592.75" cy="199.36" r="1.8" fill="none" stroke="#000" stroke-width="1.5"/>
<circle cx="592.75" cy="210.89" r="1.8" fill="none" stroke="#000" stroke-width="1.5"/>
<circle cx="592.75" cy="218.19" r="1.8" fill="none" stroke="#000" stroke-width="1.5"/>
<circle cx="592.75" cy="228.19" r="1.8" fill="none" stroke="#000" stroke-width="1.5"/>
<circle cx="592.75" cy="203.59" r="1.8" fill="none" stroke="#000" stroke-width="1.5"/>
<circle cx="605.5" cy="179.75" r="1.8" fill="none" stroke="#000" stroke-width="1.5"/>
<circle cx="605.5" cy="184.37" r="1.8" fill="none" stroke="#000" stroke-width="1.5"/>
<circle cx="610.5" cy="201.28" r="1.8" fill="#000" stroke="#000" stroke-width="1.5"/>
<circle cx="601.5" cy="203.97" r="1.8" fill="none" stroke="#000" stroke-width="1.5"/>
<circle cx="601.5" cy="217.42" r="1.8" fill="none" stroke="#000" stroke-width="1.5"/>
<circle cx="609.5" cy="215.5" r="1.8" fill="none" stroke="#000" stroke-width="1.5"/>
<circle cx="619.8" cy="202.43" r="1.8" fill="none" stroke="#000" stroke-width="1.5"/>
<circle cx="627.8" cy="200.13" r="1.8" fill="none" stroke="#000" stroke-width="1.5"/>
<circle cx="623.8" cy="228.57" r="1.8" fill="#000" stroke="#000" stroke-width="1.5"/>
<circle cx="623.8" cy="234.34" r="1.8" fill="none" stroke="#000" stroke-width="1.5"/>
<circle cx="619.8" cy="237.8" r="1.8" fill="none" stroke="#000" stroke-width="1.5"/>
<circle cx="627.8" cy="237.8" r="1.8" fill="none" stroke="#000" stroke-width="1.5"/>
<circle cx="639.5" cy="194.36" r="1.8" fill="none" stroke="#000" stroke-width="1.5"/>
<circle cx="639.5" cy="213.96" r="1.8" fill="none" stroke="#000" stroke-width="1.5"/>
<circle cx="633" cy="230.49" r="1.8" fill="none" stroke="#000" stroke-width="1.5"/>
<circle cx="640" cy="230.49" r="1.8" fill="none" stroke="#000" stroke-width="1.5"/>
<circle cx="636.5" cy="227.42" r="1.8" fill="none" stroke="#000" stroke-width="1.5"/>
<circle cx="632.7" cy="235.11" r="1.8" fill="none" stroke="#000" stroke-width="1.5"/>
<circle cx="640.3" cy="234.34" r="1.8" fill="none" stroke="#000" stroke-width="1.5"/>
<circle cx="633" cy="240.49" r="1.8" fill="none" stroke="#000" stroke-width="1.5"/>
<circle cx="640" cy="240.49" r="1.8" fill="none" stroke="#000" stroke-width="1.5"/>
<circle cx="654.75" cy="179.75" r="1.8" fill="none" stroke="#000" stroke-width="1.5"/>
<circle cx="654.75" cy="192.05" r="1.8" fill="none" stroke="#000" stroke-width="1.5"/>
<circle cx="654.75" cy="215.5" r="1.8" fill="none" stroke="#000" stroke-width="1.5"/>
<circle cx="650.75" cy="228.57" r="1.8" fill="none" stroke="#000" stroke-width="1.5"/>
<circle cx="650.75" cy="232.42" r="1.8" fill="none" stroke="#000" stroke-width="1.5"/>
<circle cx="658.75" cy="230.49" r="1.8" fill="none" stroke="#000" stroke-width="1.5"/>
<circle cx="667.6" cy="219.35" r="1.8" fill="none" stroke="#000" stroke-width="1.5"/>
<circle cx="664.1" cy="225.5" r="1.8" fill="none" stroke="#000" stroke-width="1.5"/>
<circle cx="667.6" cy="227.03" r="1.8" fill="none" stroke="#000" stroke-width="1.5"/>
<circle cx="663.8" cy="232.8" r="1.8" fill="none" stroke="#000" stroke-width="1.5"/>
<circle cx="671.4" cy="233.57" r="1.8" fill="none" stroke="#000" stroke-width="1.5"/>
<circle cx="667.6" cy="236.26" r="1.8" fill="none" stroke="#000" stroke-width="1.5"/>
<circle cx="664.1" cy="238.57" r="1.8" fill="none" stroke="#000" stroke-width="1.5"/>
<circle cx="671.1" cy="240.1" r="1.8" fill="none" stroke="#000" stroke-width="1.5"/>
<circle cx="667.6" cy="241.26" r="1.8" fill="none" stroke="#000" stroke-width="1.5"/>
<line x1="582.5" y1="158.43" x2="582.5" y2="275.65" stroke="#000" stroke-width="1.9"/>
<line x1="581.55" y1="274.7" x2="677.6" y2="274.7" stroke="#000" stroke-width="1.9"/>
<line x1="576" y1="274.7" x2="582.5" y2="274.7" stroke="#000" stroke-width="1.9"/>
<text x="574.7" y="278.41" font-size="10.3" text-anchor="end">0</text>
<line x1="576" y1="236.26" x2="582.5" y2="236.26" stroke="#000" stroke-width="1.9"/>
<text x="574.7" y="239.97" font-size="10.3" text-anchor="end">10</text>
<line x1="576" y1="197.82" x2="582.5" y2="197.82" stroke="#000" stroke-width="1.9"/>
<text x="574.7" y="201.53" font-size="10.3" text-anchor="end">20</text>
<line x1="576" y1="159.38" x2="582.5" y2="159.38" stroke="#000" stroke-width="1.9"/>
<text x="574.7" y="163.09" font-size="10.3" text-anchor="end">30</text>
<line x1="598.3" y1="274.7" x2="598.3" y2="281.2" stroke="#000" stroke-width="1.9"/>
<line x1="629.5" y1="274.7" x2="629.5" y2="281.2" stroke="#000" stroke-width="1.9"/>
<line x1="660.5" y1="274.7" x2="660.5" y2="281.2" stroke="#000" stroke-width="1.9"/>
<text x="601" y="290.9" font-size="10.5" text-anchor="end" transform="rotate(-45 601 290.9)">3 mo</text>
<text x="632.2" y="290.9" font-size="10.5" text-anchor="end" transform="rotate(-45 632.2 290.9)">6 mo</text>
<text x="663.2" y="290.9" font-size="10.5" text-anchor="end" transform="rotate(-45 663.2 290.9)">9 mo</text>
<text x="546.1" y="214.8" font-size="10.5" text-anchor="middle" transform="rotate(-90 546.1 214.8)">Beta Power</text>
<text x="558.5" y="215.1" font-size="10.6" text-anchor="middle" transform="rotate(-90 558.5 215.1)">Relative Power in NREM</text>
<path d="M605.2 166.7 L605.2 157.7 L667.6 157.7 L667.6 167.3" stroke="#444" stroke-width="1.1" fill="none"/>
<path d="M630.5 150.8 L630.5 155.6 M628.42 152 L632.58 154.4 M632.58 152 L628.42 154.4" stroke="#222" stroke-width="1.4" fill="none" stroke-linecap="round"/>
<path d="M636.4 150.8 L636.4 155.6 M634.32 152 L638.48 154.4 M638.48 152 L634.32 154.4" stroke="#222" stroke-width="1.4" fill="none" stroke-linecap="round"/>
<path d="M642.3 150.8 L642.3 155.6 M640.22 152 L644.38 154.4 M644.38 152 L640.22 154.4" stroke="#222" stroke-width="1.4" fill="none" stroke-linecap="round"/>
<path d="M605.2 175.4 L605.2 172.5 L636.6 172.5 L636.6 189.7" stroke="#444" stroke-width="1.1" fill="none"/>
<path d="M617.95 165.6 L617.95 170.4 M615.87 166.8 L620.03 169.2 M620.03 166.8 L615.87 169.2" stroke="#222" stroke-width="1.4" fill="none" stroke-linecap="round"/>
<path d="M623.85 165.6 L623.85 170.4 M621.77 166.8 L625.93 169.2 M625.93 166.8 L621.77 169.2" stroke="#222" stroke-width="1.4" fill="none" stroke-linecap="round"/>
<path d="M654.6 175.4 L654.6 172.5 L667.6 172.5 L667.6 215.1" stroke="#444" stroke-width="1.1" fill="none"/>
<path d="M661.1 165.6 L661.1 170.4 M659.02 166.8 L663.18 169.2 M663.18 166.8 L659.02 169.2" stroke="#222" stroke-width="1.4" fill="none" stroke-linecap="round"/>
<rect x="63.5" y="861.87" width="10.5" height="16.63" fill="#616161" stroke="#000" stroke-width="1.6"/>
<rect x="77.1" y="856.68" width="10" height="21.82" fill="#3fa45a" stroke="#000" stroke-width="1.6"/>
<rect x="95.5" y="842.55" width="9.7" height="35.95" fill="#ecb032" stroke="#000" stroke-width="1.6"/>
<rect x="108.9" y="832.65" width="10.2" height="45.85" fill="#4c9bf8" stroke="#000" stroke-width="1.6"/>
<rect x="127.3" y="852.91" width="9.7" height="25.59" fill="#c978b4" stroke="#000" stroke-width="1.6"/>
<rect x="140.2" y="826.53" width="9.7" height="51.97" fill="#f4281b" stroke="#000" stroke-width="1.6"/>
<line x1="68.75" y1="854.94" x2="68.75" y2="867.19" stroke="#333" stroke-width="1.2"/>
<line x1="66.04" y1="867.19" x2="71.46" y2="867.19" stroke="#333" stroke-width="1.2"/>
<line x1="66.04" y1="854.94" x2="71.46" y2="854.94" stroke="#333" stroke-width="1.2"/>
<line x1="82.1" y1="847.4" x2="82.1" y2="864.36" stroke="#333" stroke-width="1.2"/>
<line x1="79.51" y1="864.36" x2="84.69" y2="864.36" stroke="#333" stroke-width="1.2"/>
<line x1="79.51" y1="847.4" x2="84.69" y2="847.4" stroke="#333" stroke-width="1.2"/>
<line x1="100.35" y1="833.26" x2="100.35" y2="850.23" stroke="#333" stroke-width="1.2"/>
<line x1="97.83" y1="850.23" x2="102.87" y2="850.23" stroke="#333" stroke-width="1.2"/>
<line x1="97.83" y1="833.26" x2="102.87" y2="833.26" stroke="#333" stroke-width="1.2"/>
<line x1="114" y1="825.25" x2="114" y2="838.45" stroke="#333" stroke-width="1.2"/>
<line x1="111.36" y1="838.45" x2="116.64" y2="838.45" stroke="#333" stroke-width="1.2"/>
<line x1="111.36" y1="825.25" x2="116.64" y2="825.25" stroke="#333" stroke-width="1.2"/>
<line x1="132.15" y1="842.69" x2="132.15" y2="861.54" stroke="#333" stroke-width="1.2"/>
<line x1="129.63" y1="861.54" x2="134.67" y2="861.54" stroke="#333" stroke-width="1.2"/>
<line x1="129.63" y1="842.69" x2="134.67" y2="842.69" stroke="#333" stroke-width="1.2"/>
<line x1="145.05" y1="820.07" x2="145.05" y2="831.38" stroke="#333" stroke-width="1.2"/>
<line x1="142.53" y1="831.38" x2="147.57" y2="831.38" stroke="#333" stroke-width="1.2"/>
<line x1="142.53" y1="820.07" x2="147.57" y2="820.07" stroke="#333" stroke-width="1.2"/>
<circle cx="68.75" cy="838.92" r="1.8" fill="none" stroke="#000" stroke-width="1.5"/>
<circle cx="68.75" cy="845.04" r="1.8" fill="none" stroke="#000" stroke-width="1.5"/>
<circle cx="68.75" cy="852.11" r="1.8" fill="none" stroke="#000" stroke-width="1.5"/>
<circle cx="64.75" cy="872.14" r="1.8" fill="none" stroke="#000" stroke-width="1.5"/>
<circle cx="68.75" cy="870.96" r="1.8" fill="none" stroke="#000" stroke-width="1.5"/>
<circle cx="72.75" cy="872.14" r="1.8" fill="none" stroke="#000" stroke-width="1.5"/>
<circle cx="82.1" cy="828.55" r="1.8" fill="none" stroke="#000" stroke-width="1.5"/>
<circle cx="82.1" cy="833.26" r="1.8" fill="none" stroke="#000" stroke-width="1.5"/>
<circle cx="82.1" cy="862.01" r="1.8" fill="#000" stroke="#000" stroke-width="1.5"/>
<circle cx="78.1" cy="871.43" r="1.8" fill="none" stroke="#000" stroke-width="1.5"/>
<circle cx="82.1" cy="869.55" r="1.8" fill="none" stroke="#000" stroke-width="1.5"/>
<circle cx="86.1" cy="870.49" r="1.8" fill="none" stroke="#000" stroke-width="1.5"/>
<circle cx="96.35" cy="820.07" r="1.8" fill="none" stroke="#000" stroke-width="1.5"/>
<circle cx="104.35" cy="818.19" r="1.8" fill="none" stroke="#000" stroke-width="1.5"/>
<circle cx="100.35" cy="840.33" r="1.8" fill="#000" stroke="#000" stroke-width="1.5"/>
<circle cx="96.05" cy="848.81" r="1.8" fill="none" stroke="#000" stroke-width="1.5"/>
<circle cx="104.65" cy="850.7" r="1.8" fill="none" stroke="#000" stroke-width="1.5"/>
<circle cx="100.35" cy="871.43" r="1.8" fill="none" stroke="#000" stroke-width="1.5"/>
<circle cx="109.5" cy="810.18" r="1.8" fill="none" stroke="#000" stroke-width="1.5"/>
<circle cx="109.5" cy="813.95" r="1.8" fill="none" stroke="#000" stroke-width="1.5"/>
<circle cx="117.5" cy="811.59" r="1.8" fill="none" stroke="#000" stroke-width="1.5"/>
<circle cx="114" cy="820.54" r="1.8" fill="none" stroke="#000" stroke-width="1.5"/>
<circle cx="109.5" cy="829.02" r="1.8" fill="none" stroke="#000" stroke-width="1.5"/>
<circle cx="117.5" cy="828.08" r="1.8" fill="none" stroke="#000" stroke-width="1.5"/>
<circle cx="117.5" cy="841.28" r="1.8" fill="none" stroke="#000" stroke-width="1.5"/>
<circle cx="109.5" cy="843.63" r="1.8" fill="none" stroke="#000" stroke-width="1.5"/>
<circle cx="114" cy="849.76" r="1.8" fill="none" stroke="#000" stroke-width="1.5"/>
<circle cx="114" cy="869.55" r="1.8" fill="none" stroke="#000" stroke-width="1.5"/>
<circle cx="132.15" cy="823.37" r="1.8" fill="none" stroke="#000" stroke-width="1.5"/>
<circle cx="132.15" cy="832.32" r="1.8" fill="none" stroke="#000" stroke-width="1.5"/>
<circle cx="132.15" cy="840.33" r="1.8" fill="none" stroke="#000" stroke-width="1.5"/>
<circle cx="128.15" cy="872.61" r="1.8" fill="none" stroke="#000" stroke-width="1.5"/>
<circle cx="132.15" cy="871.9" r="1.8" fill="none" stroke="#000" stroke-width="1.5"/>
<circle cx="136.15" cy="872.61" r="1.8" fill="none" stroke="#000" stroke-width="1.5"/>
<circle cx="141.05" cy="810.18" r="1.8" fill="none" stroke="#000" stroke-width="1.5"/>
<circle cx="149.05" cy="810.18" r="1.8" fill="none" stroke="#000" stroke-width="1.5"/>
<circle cx="145.05" cy="816.77" r="1.8" fill="none" stroke="#000" stroke-width="1.5"/>
<circle cx="140.55" cy="825.25" r="1.8" fill="#000" stroke="#000" stroke-width="1.5"/>
<circle cx="149.55" cy="825.73" r="1.8" fill="#000" stroke="#000" stroke-width="1.5"/>
<circle cx="145.05" cy="829.97" r="1.8" fill="none" stroke="#000" stroke-width="1.5"/>
<circle cx="145.05" cy="837.51" r="1.8" fill="none" stroke="#000" stroke-width="1.5"/>
<circle cx="145.05" cy="843.63" r="1.8" fill="none" stroke="#000" stroke-width="1.5"/>
<line x1="58" y1="759.75" x2="58" y2="879.45" stroke="#000" stroke-width="1.9"/>
<line x1="57.05" y1="878.5" x2="156.9" y2="878.5" stroke="#000" stroke-width="1.9"/>
<line x1="51.5" y1="878.5" x2="58" y2="878.5" stroke="#000" stroke-width="1.9"/>
<text x="50.2" y="882.46" font-size="11" text-anchor="end">0</text>
<line x1="51.5" y1="854.94" x2="58" y2="854.94" stroke="#000" stroke-width="1.9"/>
<text x="50.2" y="858.9" font-size="11" text-anchor="end">5</text>
<line x1="51.5" y1="831.38" x2="58" y2="831.38" stroke="#000" stroke-width="1.9"/>
<text x="50.2" y="835.34" font-size="11" text-anchor="end">10</text>
<line x1="51.5" y1="807.82" x2="58" y2="807.82" stroke="#000" stroke-width="1.9"/>
<text x="50.2" y="811.78" font-size="11" text-anchor="end">15</text>
<line x1="51.5" y1="784.26" x2="58" y2="784.26" stroke="#000" stroke-width="1.9"/>
<text x="50.2" y="788.22" font-size="11" text-anchor="end">20</text>
<line x1="51.5" y1="760.7" x2="58" y2="760.7" stroke="#000" stroke-width="1.9"/>
<text x="50.2" y="764.66" font-size="11" text-anchor="end">25</text>
<line x1="75.7" y1="878.5" x2="75.7" y2="885" stroke="#000" stroke-width="1.9"/>
<line x1="106.9" y1="878.5" x2="106.9" y2="885" stroke="#000" stroke-width="1.9"/>
<line x1="138.5" y1="878.5" x2="138.5" y2="885" stroke="#000" stroke-width="1.9"/>
<text x="78.6" y="894.5" font-size="10.8" text-anchor="end" transform="rotate(-45 78.6 894.5)">3 mo</text>
<text x="109.8" y="894.5" font-size="10.8" text-anchor="end" transform="rotate(-45 109.8 894.5)">6 mo</text>
<text x="141.4" y="894.5" font-size="10.8" text-anchor="end" transform="rotate(-45 141.4 894.5)">9 mo</text>
<text x="21.3" y="819.5" font-size="12.2" text-anchor="middle" transform="rotate(-90 21.3 819.5)">Theta:Gamma</text>
<text x="35.4" y="820.4" font-size="12.3" text-anchor="middle" transform="rotate(-90 35.4 820.4)">Wake ZT0-12</text>
<path d="M81.5 782 L81.5 766.5 L144.5 766.5 L144.5 782" stroke="#444" stroke-width="1.1" fill="none"/>
<path d="M109.85 760.2 L109.85 764.6 M107.94 761.3 L111.76 763.5 M111.76 761.3 L107.94 763.5" stroke="#222" stroke-width="1.35" fill="none" stroke-linecap="round"/>
<path d="M116.15 760.2 L116.15 764.6 M114.24 761.3 L118.06 763.5 M118.06 761.3 L114.24 763.5" stroke="#222" stroke-width="1.35" fill="none" stroke-linecap="round"/>
<path d="M81.5 819.5 L81.5 792.9 L113.5 792.9 L113.5 799.3" stroke="#444" stroke-width="1.1" fill="none"/>
<path d="M97.5 786.6 L97.5 791 M95.59 787.7 L99.41 789.9 M99.41 787.7 L95.59 789.9" stroke="#222" stroke-width="1.35" fill="none" stroke-linecap="round"/>
<path d="M131.6 822 L131.6 792.9 L144.7 792.9 L144.7 799.4" stroke="#444" stroke-width="1.1" fill="none"/>
<path d="M135 786.6 L135 791 M133.09 787.7 L136.91 789.9 M136.91 787.7 L133.09 789.9" stroke="#222" stroke-width="1.35" fill="none" stroke-linecap="round"/>
<path d="M141.3 786.6 L141.3 791 M139.39 787.7 L143.21 789.9 M143.21 787.7 L139.39 789.9" stroke="#222" stroke-width="1.35" fill="none" stroke-linecap="round"/>
<rect x="220.8" y="873.27" width="10.3" height="5.33" fill="#616161" stroke="#000" stroke-width="1.6"/>
<rect x="234" y="861.49" width="9.7" height="17.11" fill="#3fa45a" stroke="#000" stroke-width="1.6"/>
<rect x="252.9" y="836.99" width="9.7" height="41.61" fill="#ecb032" stroke="#000" stroke-width="1.6"/>
<rect x="266" y="813.43" width="9.7" height="65.17" fill="#4c9bf8" stroke="#000" stroke-width="1.6"/>
<rect x="284.4" y="846.42" width="9.7" height="32.18" fill="#c978b4" stroke="#000" stroke-width="1.6"/>
<rect x="297" y="799.3" width="9.7" height="79.3" fill="#f4281b" stroke="#000" stroke-width="1.6"/>
<line x1="225.95" y1="871.53" x2="225.95" y2="873.42" stroke="#333" stroke-width="1.2"/>
<line x1="223.29" y1="873.42" x2="228.61" y2="873.42" stroke="#333" stroke-width="1.2"/>
<line x1="223.29" y1="871.53" x2="228.61" y2="871.53" stroke="#333" stroke-width="1.2"/>
<line x1="238.85" y1="855.98" x2="238.85" y2="865.41" stroke="#333" stroke-width="1.2"/>
<line x1="236.33" y1="865.41" x2="241.37" y2="865.41" stroke="#333" stroke-width="1.2"/>
<line x1="236.33" y1="855.98" x2="241.37" y2="855.98" stroke="#333" stroke-width="1.2"/>
<line x1="257.75" y1="822.53" x2="257.75" y2="849.86" stroke="#333" stroke-width="1.2"/>
<line x1="255.23" y1="849.86" x2="260.27" y2="849.86" stroke="#333" stroke-width="1.2"/>
<line x1="255.23" y1="822.53" x2="260.27" y2="822.53" stroke="#333" stroke-width="1.2"/>
<line x1="270.85" y1="802.27" x2="270.85" y2="823" stroke="#333" stroke-width="1.2"/>
<line x1="268.33" y1="823" x2="273.37" y2="823" stroke="#333" stroke-width="1.2"/>
<line x1="268.33" y1="802.27" x2="273.37" y2="802.27" stroke="#333" stroke-width="1.2"/>
<line x1="289.25" y1="834.78" x2="289.25" y2="856.45" stroke="#333" stroke-width="1.2"/>
<line x1="286.73" y1="856.45" x2="291.77" y2="856.45" stroke="#333" stroke-width="1.2"/>
<line x1="286.73" y1="834.78" x2="291.77" y2="834.78" stroke="#333" stroke-width="1.2"/>
<line x1="301.85" y1="792.37" x2="301.85" y2="804.62" stroke="#333" stroke-width="1.2"/>
<line x1="299.33" y1="804.62" x2="304.37" y2="804.62" stroke="#333" stroke-width="1.2"/>
<line x1="299.33" y1="792.37" x2="304.37" y2="792.37" stroke="#333" stroke-width="1.2"/>
<circle cx="221.95" cy="872.47" r="1.8" fill="none" stroke="#000" stroke-width="1.5"/>
<circle cx="224.65" cy="872.47" r="1.8" fill="none" stroke="#000" stroke-width="1.5"/>
<circle cx="227.25" cy="872.47" r="1.8" fill="none" stroke="#000" stroke-width="1.5"/>
<circle cx="229.95" cy="872.47" r="1.8" fill="none" stroke="#000" stroke-width="1.5"/>
<circle cx="238.85" cy="846.56" r="1.8" fill="none" stroke="#000" stroke-width="1.5"/>
<circle cx="238.85" cy="855.04" r="1.8" fill="none" stroke="#000" stroke-width="1.5"/>
<circle cx="234.85" cy="861.64" r="1.8" fill="none" stroke="#000" stroke-width="1.5"/>
<circle cx="242.85" cy="866.82" r="1.8" fill="none" stroke="#000" stroke-width="1.5"/>
<circle cx="238.85" cy="869.18" r="1.8" fill="none" stroke="#000" stroke-width="1.5"/>
<circle cx="257.75" cy="796.61" r="1.8" fill="none" stroke="#000" stroke-width="1.5"/>
<circle cx="257.75" cy="804.62" r="1.8" fill="none" stroke="#000" stroke-width="1.5"/>
<circle cx="257.75" cy="829.6" r="1.8" fill="#000" stroke="#000" stroke-width="1.5"/>
<circle cx="257.75" cy="847.97" r="1.8" fill="none" stroke="#000" stroke-width="1.5"/>
<circle cx="257.75" cy="858.81" r="1.8" fill="none" stroke="#000" stroke-width="1.5"/>
<circle cx="257.75" cy="873.42" r="1.8" fill="none" stroke="#000" stroke-width="1.5"/>
<circle cx="270.85" cy="771.17" r="1.8" fill="none" stroke="#000" stroke-width="1.5"/>
<circle cx="265.85" cy="790.96" r="1.8" fill="none" stroke="#000" stroke-width="1.5"/>
<circle cx="270.85" cy="786.72" r="1.8" fill="none" stroke="#000" stroke-width="1.5"/>
<circle cx="275.85" cy="789.54" r="1.8" fill="none" stroke="#000" stroke-width="1.5"/>
<circle cx="270.85" cy="799.91" r="1.8" fill="none" stroke="#000" stroke-width="1.5"/>
<circle cx="266.85" cy="814.05" r="1.8" fill="none" stroke="#000" stroke-width="1.5"/>
<circle cx="274.85" cy="814.05" r="1.8" fill="none" stroke="#000" stroke-width="1.5"/>
<circle cx="270.85" cy="827.71" r="1.8" fill="none" stroke="#000" stroke-width="1.5"/>
<circle cx="270.85" cy="844.67" r="1.8" fill="none" stroke="#000" stroke-width="1.5"/>
<circle cx="270.85" cy="874.83" r="1.8" fill="none" stroke="#000" stroke-width="1.5"/>
<circle cx="285.25" cy="811.22" r="1.8" fill="none" stroke="#000" stroke-width="1.5"/>
<circle cx="293.25" cy="811.22" r="1.8" fill="none" stroke="#000" stroke-width="1.5"/>
<circle cx="289.25" cy="831.48" r="1.8" fill="none" stroke="#000" stroke-width="1.5"/>
<circle cx="285.25" cy="873.89" r="1.8" fill="none" stroke="#000" stroke-width="1.5"/>
<circle cx="289.25" cy="873.89" r="1.8" fill="none" stroke="#000" stroke-width="1.5"/>
<circle cx="293.25" cy="873.89" r="1.8" fill="none" stroke="#000" stroke-width="1.5"/>
<circle cx="297.35" cy="771.17" r="1.8" fill="none" stroke="#000" stroke-width="1.5"/>
<circle cx="306.35" cy="771.17" r="1.8" fill="none" stroke="#000" stroke-width="1.5"/>
<circle cx="301.85" cy="782" r="1.8" fill="none" stroke="#000" stroke-width="1.5"/>
<circle cx="301.85" cy="798.02" r="1.8" fill="#000" stroke="#000" stroke-width="1.5"/>
<circle cx="297.35" cy="822.53" r="1.8" fill="none" stroke="#000" stroke-width="1.5"/>
<circle cx="306.35" cy="822.53" r="1.8" fill="none" stroke="#000" stroke-width="1.5"/>
<circle cx="301.85" cy="813.57" r="1.8" fill="none" stroke="#000" stroke-width="1.5"/>
<circle cx="301.85" cy="803.21" r="1.8" fill="none" stroke="#000" stroke-width="1.5"/>
<line x1="214.4" y1="759.85" x2="214.4" y2="879.55" stroke="#000" stroke-width="1.9"/>
<line x1="213.45" y1="878.6" x2="313.4" y2="878.6" stroke="#000" stroke-width="1.9"/>
<line x1="207.9" y1="878.6" x2="214.4" y2="878.6" stroke="#000" stroke-width="1.9"/>
<text x="206.6" y="882.56" font-size="11" text-anchor="end">0</text>
<line x1="207.9" y1="855.04" x2="214.4" y2="855.04" stroke="#000" stroke-width="1.9"/>
<text x="206.6" y="859" font-size="11" text-anchor="end">5</text>
<line x1="207.9" y1="831.48" x2="214.4" y2="831.48" stroke="#000" stroke-width="1.9"/>
<text x="206.6" y="835.44" font-size="11" text-anchor="end">10</text>
<line x1="207.9" y1="807.92" x2="214.4" y2="807.92" stroke="#000" stroke-width="1.9"/>
<text x="206.6" y="811.88" font-size="11" text-anchor="end">15</text>
<line x1="207.9" y1="784.36" x2="214.4" y2="784.36" stroke="#000" stroke-width="1.9"/>
<text x="206.6" y="788.32" font-size="11" text-anchor="end">20</text>
<line x1="207.9" y1="760.8" x2="214.4" y2="760.8" stroke="#000" stroke-width="1.9"/>
<text x="206.6" y="764.76" font-size="11" text-anchor="end">25</text>
<line x1="232.8" y1="878.6" x2="232.8" y2="885.1" stroke="#000" stroke-width="1.9"/>
<line x1="263.8" y1="878.6" x2="263.8" y2="885.1" stroke="#000" stroke-width="1.9"/>
<line x1="295.8" y1="878.6" x2="295.8" y2="885.1" stroke="#000" stroke-width="1.9"/>
<text x="235.7" y="894.6" font-size="10.8" text-anchor="end" transform="rotate(-45 235.7 894.6)">3 mo</text>
<text x="266.7" y="894.6" font-size="10.8" text-anchor="end" transform="rotate(-45 266.7 894.6)">6 mo</text>
<text x="298.7" y="894.6" font-size="10.8" text-anchor="end" transform="rotate(-45 298.7 894.6)">9 mo</text>
<text x="177.8" y="819.5" font-size="12.2" text-anchor="middle" transform="rotate(-90 177.8 819.5)">Theta:Gamma</text>
<text x="190.7" y="819.3" font-size="12" text-anchor="middle" transform="rotate(-90 190.7 819.3)">NREM ZT0-12</text>
<path d="M238.5 756.9 L238.5 743.5 L301.5 743.5 L301.5 752.5" stroke="#444" stroke-width="1.1" fill="none"/>
<path d="M263.8 737.1 L263.8 741.5 M261.89 738.2 L265.71 740.4 M265.71 738.2 L261.89 740.4" stroke="#222" stroke-width="1.35" fill="none" stroke-linecap="round"/>
<path d="M270 737.1 L270 741.5 M268.09 738.2 L271.91 740.4 M271.91 738.2 L268.09 740.4" stroke="#222" stroke-width="1.35" fill="none" stroke-linecap="round"/>
<path d="M276.2 737.1 L276.2 741.5 M274.29 738.2 L278.11 740.4 M278.11 738.2 L274.29 740.4" stroke="#222" stroke-width="1.35" fill="none" stroke-linecap="round"/>
<path d="M238.5 842.5 L238.5 762.4 L270.4 762.4 L270.4 767.2" stroke="#444" stroke-width="1.1" fill="none"/>
<path d="M251.35 756 L251.35 760.4 M249.44 757.1 L253.26 759.3 M253.26 757.1 L249.44 759.3" stroke="#222" stroke-width="1.35" fill="none" stroke-linecap="round"/>
<path d="M257.55 756 L257.55 760.4 M255.64 757.1 L259.46 759.3 M259.46 757.1 L255.64 759.3" stroke="#222" stroke-width="1.35" fill="none" stroke-linecap="round"/>
<path d="M288.6 807.6 L288.6 762.4 L301.5 762.4 L301.5 767.2" stroke="#444" stroke-width="1.1" fill="none"/>
<path d="M291.95 756 L291.95 760.4 M290.04 757.1 L293.86 759.3 M293.86 757.1 L290.04 759.3" stroke="#222" stroke-width="1.35" fill="none" stroke-linecap="round"/>
<path d="M298.15 756 L298.15 760.4 M296.24 757.1 L300.06 759.3 M300.06 757.1 L296.24 759.3" stroke="#222" stroke-width="1.35" fill="none" stroke-linecap="round"/>
<rect x="425.3" y="871.6" width="10.2" height="6.5" fill="#616161" stroke="#000" stroke-width="1.6"/>
<rect x="438.9" y="871.84" width="9.7" height="6.26" fill="#3fa45a" stroke="#000" stroke-width="1.6"/>
<rect x="457.3" y="864.19" width="10.3" height="13.91" fill="#ecb032" stroke="#000" stroke-width="1.6"/>
<rect x="470.4" y="864.48" width="10.3" height="13.62" fill="#4c9bf8" stroke="#000" stroke-width="1.6"/>
<rect x="488.3" y="845.94" width="10.3" height="32.16" fill="#c978b4" stroke="#000" stroke-width="1.6"/>
<rect x="502" y="812.4" width="9.7" height="65.7" fill="#f4281b" stroke="#000" stroke-width="1.6"/>
<line x1="430.4" y1="869.04" x2="430.4" y2="872.57" stroke="#333" stroke-width="1.2"/>
<line x1="427.76" y1="872.57" x2="433.04" y2="872.57" stroke="#333" stroke-width="1.2"/>
<line x1="427.76" y1="869.04" x2="433.04" y2="869.04" stroke="#333" stroke-width="1.2"/>
<line x1="443.75" y1="869.27" x2="443.75" y2="872.8" stroke="#333" stroke-width="1.2"/>
<line x1="441.23" y1="872.8" x2="446.27" y2="872.8" stroke="#333" stroke-width="1.2"/>
<line x1="441.23" y1="869.27" x2="446.27" y2="869.27" stroke="#333" stroke-width="1.2"/>
<line x1="462.45" y1="861.03" x2="462.45" y2="865.74" stroke="#333" stroke-width="1.2"/>
<line x1="459.79" y1="865.74" x2="465.11" y2="865.74" stroke="#333" stroke-width="1.2"/>
<line x1="459.79" y1="861.03" x2="465.11" y2="861.03" stroke="#333" stroke-width="1.2"/>
<line x1="475.55" y1="861.92" x2="475.55" y2="865.45" stroke="#333" stroke-width="1.2"/>
<line x1="472.89" y1="865.45" x2="478.21" y2="865.45" stroke="#333" stroke-width="1.2"/>
<line x1="472.89" y1="861.92" x2="478.21" y2="861.92" stroke="#333" stroke-width="1.2"/>
<line x1="493.45" y1="833.96" x2="493.45" y2="856.33" stroke="#333" stroke-width="1.2"/>
<line x1="490.79" y1="856.33" x2="496.11" y2="856.33" stroke="#333" stroke-width="1.2"/>
<line x1="490.79" y1="833.96" x2="496.11" y2="833.96" stroke="#333" stroke-width="1.2"/>
<line x1="506.85" y1="805.71" x2="506.85" y2="817.48" stroke="#333" stroke-width="1.2"/>
<line x1="504.33" y1="817.48" x2="509.37" y2="817.48" stroke="#333" stroke-width="1.2"/>
<line x1="504.33" y1="805.71" x2="509.37" y2="805.71" stroke="#333" stroke-width="1.2"/>
<circle cx="430.4" cy="863.98" r="1.8" fill="none" stroke="#000" stroke-width="1.5"/>
<circle cx="426.4" cy="866.33" r="1.8" fill="none" stroke="#000" stroke-width="1.5"/>
<circle cx="434.4" cy="866.33" r="1.8" fill="none" stroke="#000" stroke-width="1.5"/>
<circle cx="430.4" cy="869.86" r="1.8" fill="none" stroke="#000" stroke-width="1.5"/>
<circle cx="426.4" cy="872.22" r="1.8" fill="none" stroke="#000" stroke-width="1.5"/>
<circle cx="434.4" cy="872.8" r="1.8" fill="none" stroke="#000" stroke-width="1.5"/>
<circle cx="430.4" cy="875.75" r="1.8" fill="none" stroke="#000" stroke-width="1.5"/>
<circle cx="447.75" cy="864.56" r="1.8" fill="none" stroke="#000" stroke-width="1.5"/>
<circle cx="440.25" cy="868.68" r="1.8" fill="none" stroke="#000" stroke-width="1.5"/>
<circle cx="447.25" cy="869.27" r="1.8" fill="none" stroke="#000" stroke-width="1.5"/>
<circle cx="443.75" cy="872.22" r="1.8" fill="none" stroke="#000" stroke-width="1.5"/>
<circle cx="440.25" cy="874.57" r="1.8" fill="none" stroke="#000" stroke-width="1.5"/>
<circle cx="447.25" cy="875.16" r="1.8" fill="none" stroke="#000" stroke-width="1.5"/>
<circle cx="458.45" cy="856.91" r="1.8" fill="none" stroke="#000" stroke-width="1.5"/>
<circle cx="466.45" cy="857.5" r="1.8" fill="none" stroke="#000" stroke-width="1.5"/>
<circle cx="462.45" cy="861.62" r="1.8" fill="none" stroke="#000" stroke-width="1.5"/>
<circle cx="458.45" cy="865.15" r="1.8" fill="none" stroke="#000" stroke-width="1.5"/>
<circle cx="466.45" cy="866.33" r="1.8" fill="none" stroke="#000" stroke-width="1.5"/>
<circle cx="462.45" cy="874.57" r="1.8" fill="none" stroke="#000" stroke-width="1.5"/>
<circle cx="479.55" cy="853.97" r="1.8" fill="none" stroke="#000" stroke-width="1.5"/>
<circle cx="471.55" cy="858.68" r="1.8" fill="none" stroke="#000" stroke-width="1.5"/>
<circle cx="479.55" cy="859.27" r="1.8" fill="none" stroke="#000" stroke-width="1.5"/>
<circle cx="475.55" cy="862.21" r="1.8" fill="none" stroke="#000" stroke-width="1.5"/>
<circle cx="471.55" cy="865.15" r="1.8" fill="none" stroke="#000" stroke-width="1.5"/>
<circle cx="479.55" cy="866.33" r="1.8" fill="none" stroke="#000" stroke-width="1.5"/>
<circle cx="475.55" cy="868.68" r="1.8" fill="none" stroke="#000" stroke-width="1.5"/>
<circle cx="475.55" cy="872.22" r="1.8" fill="none" stroke="#000" stroke-width="1.5"/>
<circle cx="493.45" cy="808.66" r="1.8" fill="none" stroke="#000" stroke-width="1.5"/>
<circle cx="493.45" cy="819.84" r="1.8" fill="none" stroke="#000" stroke-width="1.5"/>
<circle cx="493.45" cy="829.25" r="1.8" fill="none" stroke="#000" stroke-width="1.5"/>
<circle cx="489.45" cy="869.27" r="1.8" fill="none" stroke="#000" stroke-width="1.5"/>
<circle cx="493.45" cy="869.27" r="1.8" fill="none" stroke="#000" stroke-width="1.5"/>
<circle cx="497.45" cy="869.27" r="1.8" fill="none" stroke="#000" stroke-width="1.5"/>
<circle cx="502.85" cy="792.18" r="1.8" fill="none" stroke="#000" stroke-width="1.5"/>
<circle cx="510.85" cy="792.18" r="1.8" fill="none" stroke="#000" stroke-width="1.5"/>
<circle cx="506.85" cy="801.01" r="1.8" fill="none" stroke="#000" stroke-width="1.5"/>
<circle cx="506.85" cy="809.25" r="1.8" fill="none" stroke="#000" stroke-width="1.5"/>
<circle cx="502.85" cy="812.78" r="1.8" fill="#000" stroke="#000" stroke-width="1.5"/>
<circle cx="510.85" cy="812.78" r="1.8" fill="none" stroke="#000" stroke-width="1.5"/>
<circle cx="506.85" cy="816.31" r="1.8" fill="none" stroke="#000" stroke-width="1.5"/>
<circle cx="506.85" cy="827.49" r="1.8" fill="none" stroke="#000" stroke-width="1.5"/>
<circle cx="506.85" cy="834.55" r="1.8" fill="none" stroke="#000" stroke-width="1.5"/>
<line x1="419.3" y1="759.45" x2="419.3" y2="879.05" stroke="#000" stroke-width="1.9"/>
<line x1="418.35" y1="878.1" x2="518.7" y2="878.1" stroke="#000" stroke-width="1.9"/>
<line x1="412.8" y1="878.1" x2="419.3" y2="878.1" stroke="#000" stroke-width="1.9"/>
<text x="411.5" y="882.06" font-size="11" text-anchor="end">0</text>
<line x1="412.8" y1="848.68" x2="419.3" y2="848.68" stroke="#000" stroke-width="1.9"/>
<text x="411.5" y="852.64" font-size="11" text-anchor="end">5</text>
<line x1="412.8" y1="819.25" x2="419.3" y2="819.25" stroke="#000" stroke-width="1.9"/>
<text x="411.5" y="823.21" font-size="11" text-anchor="end">10</text>
<line x1="412.8" y1="789.83" x2="419.3" y2="789.83" stroke="#000" stroke-width="1.9"/>
<text x="411.5" y="793.79" font-size="11" text-anchor="end">15</text>
<line x1="412.8" y1="760.4" x2="419.3" y2="760.4" stroke="#000" stroke-width="1.9"/>
<text x="411.5" y="764.36" font-size="11" text-anchor="end">20</text>
<line x1="437.2" y1="878.1" x2="437.2" y2="884.6" stroke="#000" stroke-width="1.9"/>
<line x1="468.7" y1="878.1" x2="468.7" y2="884.6" stroke="#000" stroke-width="1.9"/>
<line x1="499.7" y1="878.1" x2="499.7" y2="884.6" stroke="#000" stroke-width="1.9"/>
<text x="440.1" y="895.2" font-size="10.8" text-anchor="end" transform="rotate(-45 440.1 895.2)">3 mo</text>
<text x="471.6" y="895.2" font-size="10.8" text-anchor="end" transform="rotate(-45 471.6 895.2)">6 mo</text>
<text x="502.6" y="895.2" font-size="10.8" text-anchor="end" transform="rotate(-45 502.6 895.2)">9 mo</text>
<text x="385.1" y="818.4" font-size="12" text-anchor="middle" transform="rotate(-90 385.1 818.4)">Theta:Beta</text>
<text x="398.6" y="820.2" font-size="12.3" text-anchor="middle" transform="rotate(-90 398.6 820.2)">Wake ZT0-12</text>
<path d="M443.5 797.1 L443.5 758.4 L506.5 758.4 L506.5 764.2" stroke="#555" stroke-width="1" fill="none"/>
<path d="M465.4 752.1 L465.4 756.5 M463.49 753.2 L467.31 755.4 M467.31 753.2 L463.49 755.4" stroke="#222" stroke-width="1.35" fill="none" stroke-linecap="round"/>
<path d="M471.8 752.1 L471.8 756.5 M469.89 753.2 L473.71 755.4 M473.71 753.2 L469.89 755.4" stroke="#222" stroke-width="1.35" fill="none" stroke-linecap="round"/>
<path d="M478.2 752.1 L478.2 756.5 M476.29 753.2 L480.11 755.4 M480.11 753.2 L476.29 755.4" stroke="#222" stroke-width="1.35" fill="none" stroke-linecap="round"/>
<path d="M484.6 752.1 L484.6 756.5 M482.69 753.2 L486.51 755.4 M486.51 753.2 L482.69 755.4" stroke="#222" stroke-width="1.35" fill="none" stroke-linecap="round"/>
<path d="M474.6 793 L474.6 772.8 L506.5 772.8 L506.5 777.6" stroke="#555" stroke-width="1" fill="none"/>
<path d="M480.95 766.5 L480.95 770.9 M479.04 767.6 L482.86 769.8 M482.86 767.6 L479.04 769.8" stroke="#222" stroke-width="1.35" fill="none" stroke-linecap="round"/>
<path d="M487.35 766.5 L487.35 770.9 M485.44 767.6 L489.26 769.8 M489.26 767.6 L485.44 769.8" stroke="#222" stroke-width="1.35" fill="none" stroke-linecap="round"/>
<path d="M493.75 766.5 L493.75 770.9 M491.84 767.6 L495.66 769.8 M495.66 767.6 L491.84 769.8" stroke="#222" stroke-width="1.35" fill="none" stroke-linecap="round"/>
<path d="M500.15 766.5 L500.15 770.9 M498.24 767.6 L502.06 769.8 M502.06 767.6 L498.24 769.8" stroke="#222" stroke-width="1.35" fill="none" stroke-linecap="round"/>
<path d="M496.2 796.8 L496.2 786.4 L506.5 786.4 L506.5 788.6" stroke="#555" stroke-width="1" fill="none"/>
<path d="M491.75 780.1 L491.75 784.5 M489.84 781.2 L493.66 783.4 M493.66 781.2 L489.84 783.4" stroke="#222" stroke-width="1.35" fill="none" stroke-linecap="round"/>
<path d="M498.15 780.1 L498.15 784.5 M496.24 781.2 L500.06 783.4 M500.06 781.2 L496.24 783.4" stroke="#222" stroke-width="1.35" fill="none" stroke-linecap="round"/>
<path d="M504.55 780.1 L504.55 784.5 M502.64 781.2 L506.46 783.4 M506.46 781.2 L502.64 783.4" stroke="#222" stroke-width="1.35" fill="none" stroke-linecap="round"/>
<path d="M510.95 780.1 L510.95 784.5 M509.04 781.2 L512.86 783.4 M512.86 781.2 L509.04 783.4" stroke="#222" stroke-width="1.35" fill="none" stroke-linecap="round"/>
<path d="M430.8 859.4 L430.8 801.2 L490.1 801.2 L490.1 804.6" stroke="#555" stroke-width="1" fill="none"/>
<path d="M457.25 794.9 L457.25 799.3 M455.34 796 L459.16 798.2 M459.16 796 L455.34 798.2" stroke="#222" stroke-width="1.35" fill="none" stroke-linecap="round"/>
<path d="M463.65 794.9 L463.65 799.3 M461.74 796 L465.56 798.2 M465.56 796 L461.74 798.2" stroke="#222" stroke-width="1.35" fill="none" stroke-linecap="round"/>
<rect x="582.1" y="871.06" width="10" height="6.84" fill="#616161" stroke="#000" stroke-width="1.6"/>
<rect x="595.5" y="871.06" width="9.7" height="6.84" fill="#3fa45a" stroke="#000" stroke-width="1.6"/>
<rect x="613.9" y="864.01" width="9.7" height="13.89" fill="#ecb032" stroke="#000" stroke-width="1.6"/>
<rect x="627.1" y="866.36" width="9.7" height="11.54" fill="#4c9bf8" stroke="#000" stroke-width="1.6"/>
<rect x="645.2" y="845.8" width="9.7" height="32.1" fill="#c978b4" stroke="#000" stroke-width="1.6"/>
<rect x="658.3" y="818.77" width="9.2" height="59.12" fill="#f4281b" stroke="#000" stroke-width="1.6"/>
<line x1="587.1" y1="868.5" x2="587.1" y2="872.02" stroke="#333" stroke-width="1.2"/>
<line x1="584.51" y1="872.02" x2="589.69" y2="872.02" stroke="#333" stroke-width="1.2"/>
<line x1="584.51" y1="868.5" x2="589.69" y2="868.5" stroke="#333" stroke-width="1.2"/>
<line x1="600.35" y1="868.5" x2="600.35" y2="872.02" stroke="#333" stroke-width="1.2"/>
<line x1="597.83" y1="872.02" x2="602.87" y2="872.02" stroke="#333" stroke-width="1.2"/>
<line x1="597.83" y1="868.5" x2="602.87" y2="868.5" stroke="#333" stroke-width="1.2"/>
<line x1="618.75" y1="860.86" x2="618.75" y2="865.56" stroke="#333" stroke-width="1.2"/>
<line x1="616.23" y1="865.56" x2="621.27" y2="865.56" stroke="#333" stroke-width="1.2"/>
<line x1="616.23" y1="860.86" x2="621.27" y2="860.86" stroke="#333" stroke-width="1.2"/>
<line x1="631.95" y1="863.21" x2="631.95" y2="867.91" stroke="#333" stroke-width="1.2"/>
<line x1="629.43" y1="867.91" x2="634.47" y2="867.91" stroke="#333" stroke-width="1.2"/>
<line x1="629.43" y1="863.21" x2="634.47" y2="863.21" stroke="#333" stroke-width="1.2"/>
<line x1="650.05" y1="833.25" x2="650.05" y2="856.75" stroke="#333" stroke-width="1.2"/>
<line x1="647.53" y1="856.75" x2="652.57" y2="856.75" stroke="#333" stroke-width="1.2"/>
<line x1="647.53" y1="833.25" x2="652.57" y2="833.25" stroke="#333" stroke-width="1.2"/>
<line x1="662.9" y1="812.69" x2="662.9" y2="823.26" stroke="#333" stroke-width="1.2"/>
<line x1="660.4" y1="823.26" x2="665.4" y2="823.26" stroke="#333" stroke-width="1.2"/>
<line x1="660.4" y1="812.69" x2="665.4" y2="812.69" stroke="#333" stroke-width="1.2"/>
<circle cx="587.1" cy="863.8" r="1.8" fill="none" stroke="#000" stroke-width="1.5"/>
<circle cx="583.1" cy="866.74" r="1.8" fill="none" stroke="#000" stroke-width="1.5"/>
<circle cx="591.1" cy="866.74" r="1.8" fill="none" stroke="#000" stroke-width="1.5"/>
<circle cx="587.1" cy="870.26" r="1.8" fill="none" stroke="#000" stroke-width="1.5"/>
<circle cx="583.1" cy="872.61" r="1.8" fill="none" stroke="#000" stroke-width="1.5"/>
<circle cx="591.1" cy="873.2" r="1.8" fill="none" stroke="#000" stroke-width="1.5"/>
<circle cx="587.1" cy="875.55" r="1.8" fill="none" stroke="#000" stroke-width="1.5"/>
<circle cx="600.35" cy="862.04" r="1.8" fill="none" stroke="#000" stroke-width="1.5"/>
<circle cx="596.85" cy="866.74" r="1.8" fill="none" stroke="#000" stroke-width="1.5"/>
<circle cx="603.85" cy="867.32" r="1.8" fill="none" stroke="#000" stroke-width="1.5"/>
<circle cx="600.35" cy="871.44" r="1.8" fill="none" stroke="#000" stroke-width="1.5"/>
<circle cx="596.85" cy="874.38" r="1.8" fill="none" stroke="#000" stroke-width="1.5"/>
<circle cx="603.85" cy="874.96" r="1.8" fill="none" stroke="#000" stroke-width="1.5"/>
<circle cx="618.75" cy="854.99" r="1.8" fill="none" stroke="#000" stroke-width="1.5"/>
<circle cx="614.75" cy="859.1" r="1.8" fill="none" stroke="#000" stroke-width="1.5"/>
<circle cx="622.75" cy="859.69" r="1.8" fill="none" stroke="#000" stroke-width="1.5"/>
<circle cx="618.75" cy="864.98" r="1.8" fill="none" stroke="#000" stroke-width="1.5"/>
<circle cx="614.75" cy="866.15" r="1.8" fill="none" stroke="#000" stroke-width="1.5"/>
<circle cx="618.75" cy="874.96" r="1.8" fill="none" stroke="#000" stroke-width="1.5"/>
<circle cx="635.95" cy="850.88" r="1.8" fill="none" stroke="#000" stroke-width="1.5"/>
<circle cx="627.95" cy="859.1" r="1.8" fill="none" stroke="#000" stroke-width="1.5"/>
<circle cx="635.95" cy="859.69" r="1.8" fill="none" stroke="#000" stroke-width="1.5"/>
<circle cx="631.95" cy="863.21" r="1.8" fill="none" stroke="#000" stroke-width="1.5"/>
<circle cx="627.95" cy="866.74" r="1.8" fill="none" stroke="#000" stroke-width="1.5"/>
<circle cx="635.95" cy="868.5" r="1.8" fill="none" stroke="#000" stroke-width="1.5"/>
<circle cx="631.95" cy="872.02" r="1.8" fill="none" stroke="#000" stroke-width="1.5"/>
<circle cx="635.95" cy="875.55" r="1.8" fill="none" stroke="#000" stroke-width="1.5"/>
<circle cx="647.05" cy="815.62" r="1.8" fill="none" stroke="#000" stroke-width="1.5"/>
<circle cx="653.05" cy="815.62" r="1.8" fill="none" stroke="#000" stroke-width="1.5"/>
<circle cx="646.05" cy="870.26" r="1.8" fill="none" stroke="#000" stroke-width="1.5"/>
<circle cx="650.05" cy="870.26" r="1.8" fill="none" stroke="#000" stroke-width="1.5"/>
<circle cx="654.05" cy="870.26" r="1.8" fill="none" stroke="#000" stroke-width="1.5"/>
<circle cx="662.9" cy="796.82" r="1.8" fill="none" stroke="#000" stroke-width="1.5"/>
<circle cx="658.9" cy="806.81" r="1.8" fill="none" stroke="#000" stroke-width="1.5"/>
<circle cx="666.9" cy="806.81" r="1.8" fill="none" stroke="#000" stroke-width="1.5"/>
<circle cx="662.9" cy="813.27" r="1.8" fill="none" stroke="#000" stroke-width="1.5"/>
<circle cx="662.9" cy="817.98" r="1.8" fill="#000" stroke="#000" stroke-width="1.5"/>
<circle cx="658.9" cy="827.96" r="1.8" fill="none" stroke="#000" stroke-width="1.5"/>
<circle cx="666.9" cy="827.96" r="1.8" fill="none" stroke="#000" stroke-width="1.5"/>
<circle cx="662.9" cy="835.01" r="1.8" fill="none" stroke="#000" stroke-width="1.5"/>
<line x1="576.5" y1="759.45" x2="576.5" y2="878.85" stroke="#000" stroke-width="1.9"/>
<line x1="575.55" y1="877.9" x2="674.5" y2="877.9" stroke="#000" stroke-width="1.9"/>
<line x1="570" y1="877.9" x2="576.5" y2="877.9" stroke="#000" stroke-width="1.9"/>
<text x="568.7" y="881.86" font-size="11" text-anchor="end">0</text>
<line x1="570" y1="848.52" x2="576.5" y2="848.52" stroke="#000" stroke-width="1.9"/>
<text x="568.7" y="852.49" font-size="11" text-anchor="end">5</text>
<line x1="570" y1="819.15" x2="576.5" y2="819.15" stroke="#000" stroke-width="1.9"/>
<text x="568.7" y="823.11" font-size="11" text-anchor="end">10</text>
<line x1="570" y1="789.77" x2="576.5" y2="789.77" stroke="#000" stroke-width="1.9"/>
<text x="568.7" y="793.74" font-size="11" text-anchor="end">15</text>
<line x1="570" y1="760.4" x2="576.5" y2="760.4" stroke="#000" stroke-width="1.9"/>
<text x="568.7" y="764.36" font-size="11" text-anchor="end">20</text>
<line x1="593.8" y1="877.9" x2="593.8" y2="884.4" stroke="#000" stroke-width="1.9"/>
<line x1="625.3" y1="877.9" x2="625.3" y2="884.4" stroke="#000" stroke-width="1.9"/>
<line x1="656.6" y1="877.9" x2="656.6" y2="884.4" stroke="#000" stroke-width="1.9"/>
<text x="596.7" y="895" font-size="10.8" text-anchor="end" transform="rotate(-45 596.7 895)">3 mo</text>
<text x="628.2" y="895" font-size="10.8" text-anchor="end" transform="rotate(-45 628.2 895)">6 mo</text>
<text x="659.5" y="895" font-size="10.8" text-anchor="end" transform="rotate(-45 659.5 895)">9 mo</text>
<text x="542.2" y="818.9" font-size="12" text-anchor="middle" transform="rotate(-90 542.2 818.9)">Theta:Beta</text>
<text x="555.6" y="819.9" font-size="12.2" text-anchor="middle" transform="rotate(-90 555.6 819.9)">Wake ZT12-24</text>
<path d="M600.1 802.5 L600.1 759.9 L662.6 759.9 L662.6 765.5" stroke="#555" stroke-width="1" fill="none"/>
<path d="M621.75 753.6 L621.75 758 M619.84 754.7 L623.66 756.9 M623.66 754.7 L619.84 756.9" stroke="#222" stroke-width="1.35" fill="none" stroke-linecap="round"/>
<path d="M628.15 753.6 L628.15 758 M626.24 754.7 L630.06 756.9 M630.06 754.7 L626.24 756.9" stroke="#222" stroke-width="1.35" fill="none" stroke-linecap="round"/>
<path d="M634.55 753.6 L634.55 758 M632.64 754.7 L636.46 756.9 M636.46 754.7 L632.64 756.9" stroke="#222" stroke-width="1.35" fill="none" stroke-linecap="round"/>
<path d="M640.95 753.6 L640.95 758 M639.04 754.7 L642.86 756.9 M642.86 754.7 L639.04 756.9" stroke="#222" stroke-width="1.35" fill="none" stroke-linecap="round"/>
<path d="M631.6 799.3 L631.6 773 L662.6 773 L662.6 778.5" stroke="#555" stroke-width="1" fill="none"/>
<path d="M637.5 766.7 L637.5 771.1 M635.59 767.8 L639.41 770 M639.41 767.8 L635.59 770" stroke="#222" stroke-width="1.35" fill="none" stroke-linecap="round"/>
<path d="M643.9 766.7 L643.9 771.1 M641.99 767.8 L645.81 770 M645.81 767.8 L641.99 770" stroke="#222" stroke-width="1.35" fill="none" stroke-linecap="round"/>
<path d="M650.3 766.7 L650.3 771.1 M648.39 767.8 L652.21 770 M652.21 767.8 L648.39 770" stroke="#222" stroke-width="1.35" fill="none" stroke-linecap="round"/>
<path d="M656.7 766.7 L656.7 771.1 M654.79 767.8 L658.61 770 M658.61 767.8 L654.79 770" stroke="#222" stroke-width="1.35" fill="none" stroke-linecap="round"/>
<path d="M652.9 802.5 L652.9 786.7 L662.6 786.7 L662.6 789.5" stroke="#555" stroke-width="1" fill="none"/>
<path d="M651.35 780.4 L651.35 784.8 M649.44 781.5 L653.26 783.7 M653.26 781.5 L649.44 783.7" stroke="#222" stroke-width="1.35" fill="none" stroke-linecap="round"/>
<path d="M657.75 780.4 L657.75 784.8 M655.84 781.5 L659.66 783.7 M659.66 781.5 L655.84 783.7" stroke="#222" stroke-width="1.35" fill="none" stroke-linecap="round"/>
<path d="M664.15 780.4 L664.15 784.8 M662.24 781.5 L666.06 783.7 M666.06 781.5 L662.24 783.7" stroke="#222" stroke-width="1.35" fill="none" stroke-linecap="round"/>
<path d="M587.2 868.2 L587.2 807.2 L646.9 807.2 L646.9 811" stroke="#555" stroke-width="1" fill="none"/>
<path d="M613.85 800.9 L613.85 805.3 M611.94 802 L615.76 804.2 M615.76 802 L611.94 804.2" stroke="#222" stroke-width="1.35" fill="none" stroke-linecap="round"/>
<path d="M620.25 800.9 L620.25 805.3 M618.34 802 L622.16 804.2 M622.16 802 L618.34 804.2" stroke="#222" stroke-width="1.35" fill="none" stroke-linecap="round"/>
<path d="M43.25 370.25 L44.28 371.12 L45.31 372.34 L46.34 373.85 L47.37 375.57 L48.4 377.45 L49.43 379.43 L50.46 381.47 L51.49 383.53 L52.52 385.59 L53.55 387.63 L54.58 389.63 L55.61 391.59 L56.64 393.49 L57.67 395.34 L58.7 397.14 L59.73 398.88 L60.76 400.56 L61.79 402.19 L62.82 403.77 L63.85 405.29 L64.88 406.77 L65.91 408.2 L66.94 409.58 L67.97 410.92 L69 412.22 L70.03 413.48 L71.06 414.7 L72.09 415.89 L73.12 417.04 L74.15 418.16 L75.18 419.25 L76.21 420.31 L77.24 421.34 L78.27 422.35 L79.3 423.32 L80.33 424.28 L81.36 425.21 L82.39 426.11 L83.42 427 L84.45 427.86 L85.48 428.71 L86.51 429.53 L87.54 430.34 L88.57 431.13 L89.6 431.9 L90.63 432.65 L91.66 433.39 L92.69 434.11 L93.72 434.82 L94.75 435.52 L95.78 436.2 L96.81 436.86 L97.84 437.52 L98.87 438.16 L99.9 438.79 L100.93 439.41 L101.96 440.02 L102.99 440.61 L104.02 441.2 L105.05 441.77 L106.08 442.34 L107.11 442.89 L108.14 443.44 L109.17 443.98 L110.2 444.5 L111.23 445.02 L112.26 445.53 L113.29 446.04 L114.32 446.53 L115.35 447.02 L116.38 447.5 L117.41 447.97 L118.44 448.44 L119.47 448.89 L120.5 449.35 L121.53 449.79 L122.56 450.23 L123.59 450.66 L123.59 466.44 L122.56 465.86 L121.53 465.27 L120.5 464.67 L119.47 464.07 L118.44 463.46 L117.41 462.84 L116.38 462.22 L115.35 461.59 L114.32 460.95 L113.29 460.31 L112.26 459.65 L111.23 458.99 L110.2 458.32 L109.17 457.64 L108.14 456.95 L107.11 456.25 L106.08 455.55 L105.05 454.83 L104.02 454.11 L102.99 453.37 L101.96 452.62 L100.93 451.86 L99.9 451.09 L98.87 450.31 L97.84 449.52 L96.81 448.72 L95.78 447.9 L94.75 447.07 L93.72 446.22 L92.69 445.36 L91.66 444.49 L90.63 443.6 L89.6 442.69 L88.57 441.77 L87.54 440.83 L86.51 439.87 L85.48 438.9 L84.45 437.9 L83.42 436.88 L82.39 435.85 L81.36 434.79 L80.33 433.71 L79.3 432.61 L78.27 431.48 L77.24 430.32 L76.21 429.14 L75.18 427.93 L74.15 426.69 L73.12 425.42 L72.09 424.11 L71.06 422.77 L70.03 421.4 L69 419.99 L67.97 418.54 L66.94 417.05 L65.91 415.51 L64.88 413.93 L63.85 412.31 L62.82 410.63 L61.79 408.9 L60.76 407.12 L59.73 405.29 L58.7 403.4 L57.67 401.45 L56.64 399.45 L55.61 397.39 L54.58 395.28 L53.55 393.13 L52.52 390.94 L51.49 388.73 L50.46 386.52 L49.43 384.33 L48.4 382.2 L47.37 380.17 L46.34 378.29 L45.31 376.64 L44.28 375.27 L43.25 374.24 Z" stroke="none" stroke-width="0" fill="#9a9aff" fill-opacity="0.2"/>
<path d="M43.25 369.45 L44.28 370.21 L45.31 371.25 L46.34 372.5 L47.37 373.92 L48.4 375.47 L49.43 377.11 L50.46 378.8 L51.49 380.53 L52.52 382.27 L53.55 384.01 L54.58 385.72 L55.61 387.42 L56.64 389.08 L57.67 390.71 L58.7 392.3 L59.73 393.85 L60.76 395.36 L61.79 396.83 L62.82 398.25 L63.85 399.64 L64.88 401 L65.91 402.31 L66.94 403.59 L67.97 404.83 L69 406.04 L70.03 407.22 L71.06 408.36 L72.09 409.48 L73.12 410.56 L74.15 411.62 L75.18 412.65 L76.21 413.66 L77.24 414.64 L78.27 415.6 L79.3 416.54 L80.33 417.45 L81.36 418.35 L82.39 419.22 L83.42 420.08 L84.45 420.91 L85.48 421.73 L86.51 422.53 L87.54 423.32 L88.57 424.08 L89.6 424.84 L90.63 425.58 L91.66 426.3 L92.69 427.01 L93.72 427.71 L94.75 428.39 L95.78 429.06 L96.81 429.72 L97.84 430.37 L98.87 431.01 L99.9 431.63 L100.93 432.25 L101.96 432.85 L102.99 433.45 L104.02 434.03 L105.05 434.61 L106.08 435.17 L107.11 435.73 L108.14 436.28 L109.17 436.82 L110.2 437.35 L111.23 437.88 L112.26 438.39 L113.29 438.9 L114.32 439.4 L115.35 439.9 L116.38 440.39 L117.41 440.87 L118.44 441.34 L119.47 441.81 L120.5 442.27 L121.53 442.72 L122.56 443.17 L123.59 443.62 L123.59 451.97 L122.56 451.46 L121.53 450.94 L120.5 450.42 L119.47 449.88 L118.44 449.35 L117.41 448.8 L116.38 448.25 L115.35 447.7 L114.32 447.13 L113.29 446.56 L112.26 445.98 L111.23 445.39 L110.2 444.8 L109.17 444.2 L108.14 443.59 L107.11 442.97 L106.08 442.34 L105.05 441.71 L104.02 441.06 L102.99 440.41 L101.96 439.74 L100.93 439.07 L99.9 438.38 L98.87 437.69 L97.84 436.98 L96.81 436.27 L95.78 435.54 L94.75 434.79 L93.72 434.04 L92.69 433.27 L91.66 432.49 L90.63 431.7 L89.6 430.89 L88.57 430.07 L87.54 429.23 L86.51 428.38 L85.48 427.51 L84.45 426.62 L83.42 425.71 L82.39 424.79 L81.36 423.84 L80.33 422.88 L79.3 421.9 L78.27 420.89 L77.24 419.86 L76.21 418.81 L75.18 417.73 L74.15 416.63 L73.12 415.5 L72.09 414.34 L71.06 413.16 L70.03 411.94 L69 410.7 L67.97 409.42 L66.94 408.11 L65.91 406.76 L64.88 405.38 L63.85 403.95 L62.82 402.5 L61.79 401 L60.76 399.46 L59.73 397.88 L58.7 396.26 L57.67 394.6 L56.64 392.9 L55.61 391.17 L54.58 389.41 L53.55 387.62 L52.52 385.81 L51.49 384 L50.46 382.21 L49.43 380.44 L48.4 378.73 L47.37 377.11 L46.34 375.62 L45.31 374.3 L44.28 373.2 L43.25 372.36 Z" stroke="none" stroke-width="0" fill="#ff9a9a" fill-opacity="0.14"/>
<path d="M43.25 372.25 L44.28 373.19 L45.31 374.49 L46.34 376.07 L47.37 377.87 L48.4 379.82 L49.43 381.88 L50.46 383.99 L51.49 386.13 L52.52 388.27 L53.55 390.38 L54.58 392.46 L55.61 394.49 L56.64 396.47 L57.67 398.4 L58.7 400.27 L59.73 402.08 L60.76 403.84 L61.79 405.55 L62.82 407.2 L63.85 408.8 L64.88 410.35 L65.91 411.85 L66.94 413.31 L67.97 414.73 L69 416.1 L70.03 417.44 L71.06 418.74 L72.09 420 L73.12 421.23 L74.15 422.43 L75.18 423.59 L76.21 424.72 L77.24 425.83 L78.27 426.91 L79.3 427.96 L80.33 428.99 L81.36 430 L82.39 430.98 L83.42 431.94 L84.45 432.88 L85.48 433.8 L86.51 434.7 L87.54 435.58 L88.57 436.45 L89.6 437.29 L90.63 438.12 L91.66 438.94 L92.69 439.74 L93.72 440.52 L94.75 441.29 L95.78 442.05 L96.81 442.79 L97.84 443.52 L98.87 444.24 L99.9 444.94 L100.93 445.64 L101.96 446.32 L102.99 446.99 L104.02 447.65 L105.05 448.3 L106.08 448.94 L107.11 449.57 L108.14 450.2 L109.17 450.81 L110.2 451.41 L111.23 452.01 L112.26 452.59 L113.29 453.17 L114.32 453.74 L115.35 454.3 L116.38 454.86 L117.41 455.41 L118.44 455.95 L119.47 456.48 L120.5 457.01 L121.53 457.53 L122.56 458.04 L123.59 458.55" stroke="#1a1aff" stroke-width="2.2" fill="none" stroke-linejoin="round"/>
<path d="M43.25 370.9 L44.28 371.71 L45.31 372.77 L46.34 374.06 L47.37 375.52 L48.4 377.1 L49.43 378.77 L50.46 380.51 L51.49 382.27 L52.52 384.04 L53.55 385.81 L54.58 387.56 L55.61 389.29 L56.64 390.99 L57.67 392.65 L58.7 394.28 L59.73 395.86 L60.76 397.41 L61.79 398.91 L62.82 400.37 L63.85 401.8 L64.88 403.19 L65.91 404.53 L66.94 405.85 L67.97 407.12 L69 408.37 L70.03 409.58 L71.06 410.76 L72.09 411.91 L73.12 413.03 L74.15 414.13 L75.18 415.19 L76.21 416.23 L77.24 417.25 L78.27 418.25 L79.3 419.22 L80.33 420.17 L81.36 421.1 L82.39 422 L83.42 422.89 L84.45 423.76 L85.48 424.62 L86.51 425.45 L87.54 426.27 L88.57 427.08 L89.6 427.86 L90.63 428.64 L91.66 429.4 L92.69 430.14 L93.72 430.87 L94.75 431.59 L95.78 432.3 L96.81 432.99 L97.84 433.68 L98.87 434.35 L99.9 435.01 L100.93 435.66 L101.96 436.3 L102.99 436.93 L104.02 437.55 L105.05 438.16 L106.08 438.76 L107.11 439.35 L108.14 439.93 L109.17 440.51 L110.2 441.08 L111.23 441.64 L112.26 442.19 L113.29 442.73 L114.32 443.27 L115.35 443.8 L116.38 444.32 L117.41 444.83 L118.44 445.34 L119.47 445.85 L120.5 446.34 L121.53 446.83 L122.56 447.32 L123.59 447.8" stroke="#ff2a2a" stroke-width="2.2" fill="none" stroke-linejoin="round"/>
<line x1="41.4" y1="353" x2="41.4" y2="470.7" stroke="#000" stroke-width="1.4"/>
<line x1="40.7" y1="470" x2="124.4" y2="470" stroke="#000" stroke-width="1.4"/>
<line x1="35.9" y1="470" x2="41.4" y2="470" stroke="#000" stroke-width="1.4"/>
<text x="33.9" y="473.53" font-size="9.8" text-anchor="end">0.0</text>
<line x1="35.9" y1="446.75" x2="41.4" y2="446.75" stroke="#000" stroke-width="1.4"/>
<text x="33.9" y="450.28" font-size="9.8" text-anchor="end">0.5</text>
<line x1="35.9" y1="423.5" x2="41.4" y2="423.5" stroke="#000" stroke-width="1.4"/>
<text x="33.9" y="427.03" font-size="9.8" text-anchor="end">1.0</text>
<line x1="35.9" y1="400.25" x2="41.4" y2="400.25" stroke="#000" stroke-width="1.4"/>
<text x="33.9" y="403.78" font-size="9.8" text-anchor="end">1.5</text>
<line x1="35.9" y1="377" x2="41.4" y2="377" stroke="#000" stroke-width="1.4"/>
<text x="33.9" y="380.53" font-size="9.8" text-anchor="end">2.0</text>
<line x1="35.9" y1="353.75" x2="41.4" y2="353.75" stroke="#000" stroke-width="1.4"/>
<text x="33.9" y="357.28" font-size="9.8" text-anchor="end">2.5</text>
<line x1="41.4" y1="470" x2="41.4" y2="475.5" stroke="#000" stroke-width="1.4"/>
<text x="41.4" y="486.5" font-size="9.8" text-anchor="middle">0</text>
<line x1="62" y1="470" x2="62" y2="475.5" stroke="#000" stroke-width="1.4"/>
<text x="62" y="486.5" font-size="9.8" text-anchor="middle">10</text>
<line x1="82.6" y1="470" x2="82.6" y2="475.5" stroke="#000" stroke-width="1.4"/>
<text x="82.6" y="486.5" font-size="9.8" text-anchor="middle">20</text>
<line x1="103.2" y1="470" x2="103.2" y2="475.5" stroke="#000" stroke-width="1.4"/>
<text x="103.2" y="486.5" font-size="9.8" text-anchor="middle">30</text>
<line x1="123.8" y1="470" x2="123.8" y2="475.5" stroke="#000" stroke-width="1.4"/>
<text x="123.8" y="486.5" font-size="9.8" text-anchor="middle">40</text>
<text x="82.5" y="502" font-size="10.3" text-anchor="middle">Frequency (Hz)</text>
<text x="12" y="412.6" font-size="10.3" text-anchor="middle" transform="rotate(-90 12 412.6)">Power (log µV<tspan dy="-3.5" font-size="7">2</tspan><tspan dy="3.5">/Hz)</tspan></text>
<line x1="61.2" y1="356.5" x2="77" y2="356.5" stroke="#1a1aff" stroke-width="2.2"/>
<line x1="61.2" y1="363.8" x2="77" y2="363.8" stroke="#ff2a2a" stroke-width="2.2"/>
<text x="85.4" y="359.3" font-size="7.5">9 mo WT</text>
<text x="85.4" y="366.6" font-size="7.5">9 mo P301S</text>
<rect x="161.45" y="384.74" width="15.4" height="85.16" fill="#5a55f7" stroke="#000" stroke-width="1.5"/>
<rect x="182.95" y="394.41" width="14.7" height="75.49" fill="#f43d3d" stroke="#000" stroke-width="1.5"/>
<line x1="169.15" y1="378.95" x2="169.15" y2="383.99" stroke="#333" stroke-width="1.2"/>
<line x1="165.29" y1="378.95" x2="173.01" y2="378.95" stroke="#333" stroke-width="1.2"/>
<line x1="190.3" y1="391.73" x2="190.3" y2="393.66" stroke="#333" stroke-width="1.2"/>
<line x1="186.6" y1="391.73" x2="194" y2="391.73" stroke="#333" stroke-width="1.2"/>
<circle cx="162.15" cy="363.47" r="1.65" fill="none" stroke="#000" stroke-width="1.35"/>
<circle cx="169.15" cy="365.41" r="1.65" fill="none" stroke="#000" stroke-width="1.35"/>
<circle cx="162.15" cy="383.99" r="1.65" fill="none" stroke="#000" stroke-width="1.35"/>
<circle cx="169.15" cy="385.92" r="1.65" fill="none" stroke="#000" stroke-width="1.35"/>
<circle cx="176.15" cy="384.37" r="1.65" fill="none" stroke="#000" stroke-width="1.35"/>
<circle cx="166.15" cy="390.95" r="1.65" fill="none" stroke="#000" stroke-width="1.35"/>
<circle cx="172.65" cy="390.95" r="1.65" fill="none" stroke="#000" stroke-width="1.35"/>
<circle cx="169.15" cy="395.98" r="1.65" fill="none" stroke="#000" stroke-width="1.35"/>
<circle cx="192" cy="382.44" r="1.65" fill="none" stroke="#000" stroke-width="1.35"/>
<circle cx="187.6" cy="385.15" r="1.65" fill="none" stroke="#000" stroke-width="1.35"/>
<circle cx="185.3" cy="390.18" r="1.65" fill="none" stroke="#000" stroke-width="1.35"/>
<circle cx="190.3" cy="391.34" r="1.65" fill="none" stroke="#000" stroke-width="1.35"/>
<circle cx="195.3" cy="390.56" r="1.65" fill="none" stroke="#000" stroke-width="1.35"/>
<circle cx="184.3" cy="394.43" r="1.65" fill="none" stroke="#000" stroke-width="1.35"/>
<circle cx="189.3" cy="394.82" r="1.65" fill="none" stroke="#000" stroke-width="1.35"/>
<circle cx="195.3" cy="394.43" r="1.65" fill="none" stroke="#000" stroke-width="1.35"/>
<circle cx="187.3" cy="398.3" r="1.65" fill="none" stroke="#000" stroke-width="1.35"/>
<circle cx="193.3" cy="398.3" r="1.65" fill="none" stroke="#000" stroke-width="1.35"/>
<circle cx="187.3" cy="406.82" r="1.65" fill="none" stroke="#000" stroke-width="1.35"/>
<circle cx="193.3" cy="406.82" r="1.65" fill="none" stroke="#000" stroke-width="1.35"/>
<line x1="156.5" y1="353.1" x2="156.5" y2="470.6" stroke="#000" stroke-width="1.4"/>
<line x1="155.8" y1="469.9" x2="202.9" y2="469.9" stroke="#000" stroke-width="1.4"/>
<line x1="150.5" y1="469.9" x2="156.5" y2="469.9" stroke="#000" stroke-width="1.4"/>
<text x="148.5" y="473.5" font-size="10" text-anchor="end">0</text>
<line x1="150.5" y1="431.2" x2="156.5" y2="431.2" stroke="#000" stroke-width="1.4"/>
<text x="148.5" y="434.8" font-size="10" text-anchor="end">1</text>
<line x1="150.5" y1="392.5" x2="156.5" y2="392.5" stroke="#000" stroke-width="1.4"/>
<text x="148.5" y="396.1" font-size="10" text-anchor="end">2</text>
<line x1="150.5" y1="353.8" x2="156.5" y2="353.8" stroke="#000" stroke-width="1.4"/>
<text x="148.5" y="357.4" font-size="10" text-anchor="end">3</text>
<line x1="168.8" y1="469.9" x2="168.8" y2="475.9" stroke="#000" stroke-width="1.4"/>
<line x1="190" y1="469.9" x2="190" y2="475.9" stroke="#000" stroke-width="1.4"/>
<text x="169.8" y="488.7" font-size="11" text-anchor="end" transform="rotate(-45 169.8 488.7)">WT</text>
<text x="191" y="488.7" font-size="11" text-anchor="end" transform="rotate(-45 191 488.7)">P301S</text>
<text x="135.1" y="411.5" font-size="11.3" text-anchor="middle" transform="rotate(-90 135.1 411.5)">Exponent&#160; (a.u.)</text>
<path d="M168.7 359.4 L168.7 353.4 L190.2 353.4 L190.2 379.3" stroke="#8a8a8a" stroke-width="1.1" fill="none"/>
<path d="M179.45 346.5 L179.45 351.3 M177.37 347.7 L181.53 350.1 M181.53 347.7 L177.37 350.1" stroke="#222" stroke-width="1.3" fill="none" stroke-linecap="round"/>
<rect x="240.75" y="393.18" width="14.7" height="76.52" fill="#5a55f7" stroke="#000" stroke-width="1.5"/>
<rect x="261.65" y="394.34" width="14.7" height="75.36" fill="#f43d3d" stroke="#000" stroke-width="1.5"/>
<line x1="248.1" y1="386.62" x2="248.1" y2="392.43" stroke="#333" stroke-width="1.2"/>
<line x1="244.4" y1="386.62" x2="251.8" y2="386.62" stroke="#333" stroke-width="1.2"/>
<line x1="269" y1="390.1" x2="269" y2="393.59" stroke="#333" stroke-width="1.2"/>
<line x1="265.3" y1="390.1" x2="272.7" y2="390.1" stroke="#333" stroke-width="1.2"/>
<circle cx="244.7" cy="378.48" r="1.65" fill="none" stroke="#000" stroke-width="1.35"/>
<circle cx="244.7" cy="381.97" r="1.65" fill="none" stroke="#000" stroke-width="1.35"/>
<circle cx="250.9" cy="378.48" r="1.65" fill="none" stroke="#000" stroke-width="1.35"/>
<circle cx="250.9" cy="381.97" r="1.65" fill="none" stroke="#000" stroke-width="1.35"/>
<circle cx="250.9" cy="385.45" r="1.65" fill="none" stroke="#000" stroke-width="1.35"/>
<circle cx="248.1" cy="393.59" r="1.65" fill="#000" stroke="#000" stroke-width="1.35"/>
<circle cx="248.1" cy="417.7" r="1.65" fill="none" stroke="#000" stroke-width="1.35"/>
<circle cx="248.1" cy="420.61" r="1.65" fill="none" stroke="#000" stroke-width="1.35"/>
<circle cx="269.7" cy="373.83" r="1.65" fill="none" stroke="#000" stroke-width="1.35"/>
<circle cx="263.7" cy="376.74" r="1.65" fill="none" stroke="#000" stroke-width="1.35"/>
<circle cx="275.3" cy="376.74" r="1.65" fill="none" stroke="#000" stroke-width="1.35"/>
<circle cx="269" cy="384" r="1.65" fill="none" stroke="#000" stroke-width="1.35"/>
<circle cx="262.5" cy="390.39" r="1.65" fill="none" stroke="#000" stroke-width="1.35"/>
<circle cx="276.5" cy="390.39" r="1.65" fill="none" stroke="#000" stroke-width="1.35"/>
<circle cx="269" cy="393.01" r="1.65" fill="#000" stroke="#000" stroke-width="1.35"/>
<circle cx="266" cy="397.66" r="1.65" fill="none" stroke="#000" stroke-width="1.35"/>
<circle cx="272" cy="397.07" r="1.65" fill="none" stroke="#000" stroke-width="1.35"/>
<circle cx="276.5" cy="402.3" r="1.65" fill="none" stroke="#000" stroke-width="1.35"/>
<circle cx="264" cy="404.34" r="1.65" fill="none" stroke="#000" stroke-width="1.35"/>
<circle cx="272" cy="404.34" r="1.65" fill="none" stroke="#000" stroke-width="1.35"/>
<circle cx="266" cy="409.86" r="1.65" fill="none" stroke="#000" stroke-width="1.35"/>
<circle cx="272.5" cy="409.28" r="1.65" fill="none" stroke="#000" stroke-width="1.35"/>
<line x1="235.6" y1="352.8" x2="235.6" y2="470.4" stroke="#000" stroke-width="1.4"/>
<line x1="234.9" y1="469.7" x2="281.8" y2="469.7" stroke="#000" stroke-width="1.4"/>
<line x1="229.6" y1="469.7" x2="235.6" y2="469.7" stroke="#000" stroke-width="1.4"/>
<text x="227.6" y="473.3" font-size="10" text-anchor="end">0</text>
<line x1="229.6" y1="440.65" x2="235.6" y2="440.65" stroke="#000" stroke-width="1.4"/>
<text x="227.6" y="444.25" font-size="10" text-anchor="end">1</text>
<line x1="229.6" y1="411.6" x2="235.6" y2="411.6" stroke="#000" stroke-width="1.4"/>
<text x="227.6" y="415.2" font-size="10" text-anchor="end">2</text>
<line x1="229.6" y1="382.55" x2="235.6" y2="382.55" stroke="#000" stroke-width="1.4"/>
<text x="227.6" y="386.15" font-size="10" text-anchor="end">3</text>
<line x1="229.6" y1="353.5" x2="235.6" y2="353.5" stroke="#000" stroke-width="1.4"/>
<text x="227.6" y="357.1" font-size="10" text-anchor="end">4</text>
<line x1="248" y1="469.7" x2="248" y2="475.7" stroke="#000" stroke-width="1.4"/>
<line x1="268.7" y1="469.7" x2="268.7" y2="475.7" stroke="#000" stroke-width="1.4"/>
<text x="249" y="488.5" font-size="11" text-anchor="end" transform="rotate(-45 249 488.5)">WT</text>
<text x="269.7" y="488.5" font-size="11" text-anchor="end" transform="rotate(-45 269.7 488.5)">P301S</text>
<text x="214.1" y="411.2" font-size="11.5" text-anchor="middle" transform="rotate(-90 214.1 411.2)">Offset (a.u.)</text>
<rect x="320.85" y="401.68" width="13.8" height="68.32" fill="#5a55f7" stroke="#000" stroke-width="1.5"/>
<rect x="341.05" y="406.07" width="14.4" height="63.93" fill="#f43d3d" stroke="#000" stroke-width="1.5"/>
<line x1="327.75" y1="399.2" x2="327.75" y2="400.93" stroke="#333" stroke-width="1.2"/>
<line x1="324.27" y1="399.2" x2="331.23" y2="399.2" stroke="#333" stroke-width="1.2"/>
<line x1="348.25" y1="400.7" x2="348.25" y2="405.32" stroke="#333" stroke-width="1.2"/>
<line x1="344.63" y1="400.7" x2="351.87" y2="400.7" stroke="#333" stroke-width="1.2"/>
<circle cx="325.05" cy="391.46" r="1.65" fill="none" stroke="#000" stroke-width="1.35"/>
<circle cx="325.05" cy="395.85" r="1.65" fill="none" stroke="#000" stroke-width="1.35"/>
<circle cx="325.05" cy="398.85" r="1.65" fill="none" stroke="#000" stroke-width="1.35"/>
<circle cx="330.85" cy="393.31" r="1.65" fill="none" stroke="#000" stroke-width="1.35"/>
<circle cx="330.85" cy="398.39" r="1.65" fill="none" stroke="#000" stroke-width="1.35"/>
<circle cx="324.75" cy="414.44" r="1.65" fill="none" stroke="#000" stroke-width="1.35"/>
<circle cx="330.85" cy="412.6" r="1.65" fill="none" stroke="#000" stroke-width="1.35"/>
<circle cx="348.55" cy="379.45" r="1.65" fill="none" stroke="#000" stroke-width="1.35"/>
<circle cx="348.55" cy="383.38" r="1.65" fill="none" stroke="#000" stroke-width="1.35"/>
<circle cx="348.55" cy="388.57" r="1.65" fill="none" stroke="#000" stroke-width="1.35"/>
<circle cx="348.55" cy="393.77" r="1.65" fill="none" stroke="#000" stroke-width="1.35"/>
<circle cx="348.55" cy="400.93" r="1.65" fill="#000" stroke="#000" stroke-width="1.35"/>
<circle cx="344.95" cy="405.32" r="1.65" fill="none" stroke="#000" stroke-width="1.35"/>
<circle cx="351.95" cy="404.16" r="1.65" fill="none" stroke="#000" stroke-width="1.35"/>
<circle cx="341.95" cy="410.17" r="1.65" fill="none" stroke="#000" stroke-width="1.35"/>
<circle cx="348.55" cy="413.17" r="1.65" fill="none" stroke="#000" stroke-width="1.35"/>
<circle cx="355.45" cy="413.17" r="1.65" fill="none" stroke="#000" stroke-width="1.35"/>
<circle cx="348.55" cy="421.49" r="1.65" fill="none" stroke="#000" stroke-width="1.35"/>
<circle cx="355.45" cy="421.03" r="1.65" fill="none" stroke="#000" stroke-width="1.35"/>
<circle cx="348.55" cy="426.92" r="1.65" fill="none" stroke="#000" stroke-width="1.35"/>
<line x1="315.5" y1="353.8" x2="315.5" y2="470.7" stroke="#000" stroke-width="1.4"/>
<line x1="314.8" y1="470" x2="361.3" y2="470" stroke="#000" stroke-width="1.4"/>
<line x1="309.5" y1="470" x2="315.5" y2="470" stroke="#000" stroke-width="1.4"/>
<text x="307.5" y="473.6" font-size="10" text-anchor="end">0</text>
<line x1="309.5" y1="446.9" x2="315.5" y2="446.9" stroke="#000" stroke-width="1.4"/>
<text x="307.5" y="450.5" font-size="10" text-anchor="end">2</text>
<line x1="309.5" y1="423.8" x2="315.5" y2="423.8" stroke="#000" stroke-width="1.4"/>
<text x="307.5" y="427.4" font-size="10" text-anchor="end">4</text>
<line x1="309.5" y1="400.7" x2="315.5" y2="400.7" stroke="#000" stroke-width="1.4"/>
<text x="307.5" y="404.3" font-size="10" text-anchor="end">6</text>
<line x1="309.5" y1="377.6" x2="315.5" y2="377.6" stroke="#000" stroke-width="1.4"/>
<text x="307.5" y="381.2" font-size="10" text-anchor="end">8</text>
<line x1="309.5" y1="354.5" x2="315.5" y2="354.5" stroke="#000" stroke-width="1.4"/>
<text x="307.5" y="358.1" font-size="10" text-anchor="end">10</text>
<line x1="327.6" y1="470" x2="327.6" y2="476" stroke="#000" stroke-width="1.4"/>
<line x1="348.8" y1="470" x2="348.8" y2="476" stroke="#000" stroke-width="1.4"/>
<text x="328.6" y="488.8" font-size="11" text-anchor="end" transform="rotate(-45 328.6 488.8)">WT</text>
<text x="349.8" y="488.8" font-size="11" text-anchor="end" transform="rotate(-45 349.8 488.8)">P301S</text>
<text x="294.7" y="411.8" font-size="11.2" text-anchor="middle" transform="rotate(-90 294.7 411.8)">Knee Freq. (Hz)</text>
<rect x="429.3" y="344.2" width="22.7" height="125.3" fill="#f6f6f6"/>
<line x1="429.3" y1="344.2" x2="429.3" y2="469.5" stroke="#d9d9d9" stroke-width="1.3"/>
<line x1="432.54" y1="344.2" x2="432.54" y2="469.5" stroke="#d9d9d9" stroke-width="1.3"/>
<line x1="435.79" y1="344.2" x2="435.79" y2="469.5" stroke="#d9d9d9" stroke-width="1.3"/>
<line x1="439.03" y1="344.2" x2="439.03" y2="469.5" stroke="#d9d9d9" stroke-width="1.3"/>
<line x1="442.27" y1="344.2" x2="442.27" y2="469.5" stroke="#d9d9d9" stroke-width="1.3"/>
<line x1="445.51" y1="344.2" x2="445.51" y2="469.5" stroke="#d9d9d9" stroke-width="1.3"/>
<line x1="448.76" y1="344.2" x2="448.76" y2="469.5" stroke="#d9d9d9" stroke-width="1.3"/>
<line x1="452" y1="344.2" x2="452" y2="469.5" stroke="#d9d9d9" stroke-width="1.3"/>
<line x1="429.3" y1="454.4" x2="542.8" y2="454.4" stroke="#000" stroke-width="0.9" stroke-dasharray="1.2 2"/>
<path d="M406.6 453.87 L406.96 453.74 L407.33 452.97 L407.69 452.65 L408.05 452.56 L408.42 452.41 L408.78 451.59 L409.14 451.36 L409.51 451.36 L409.87 452.3 L410.23 452.45 L410.6 453.08 L410.96 453.72 L411.32 454.31 L411.68 454.59 L412.05 453.74 L412.41 453.49 L412.77 453.47 L413.14 453.57 L413.5 454.61 L413.86 454.9 L414.23 454.55 L414.59 454.15 L414.95 453.7 L415.32 453.37 L415.68 454.4 L416.04 454.19 L416.41 453.93 L416.77 454.02 L417.13 454.57 L417.5 454.41 L417.86 454.9 L418.22 453.85 L418.59 453.3 L418.95 453.45 L419.31 453.91 L419.68 453.21 L420.04 453.3 L420.4 452.91 L420.76 452.78 L421.13 453.27 L421.49 453.74 L421.85 453.76 L422.22 454.06 L422.58 454.69 L422.94 454.87 L423.31 454.21 L423.67 455.05 L424.03 455.57 L424.4 455 L424.76 455.23 L425.12 455 L425.49 454.98 L425.85 455.2 L426.21 454.33 L426.58 455.1 L426.94 455.24 L427.3 455.68 L427.67 455.28 L428.03 455.63 L428.39 455.73 L428.76 455.2 L429.12 451.86 L429.48 421.98 L429.84 401.59 L430.21 390.48 L430.57 379.37 L430.93 382.52 L431.3 390.41 L431.66 387.72 L432.02 383.53 L432.39 396.13 L432.75 407.78 L433.11 412.82 L433.48 417.86 L433.84 422.9 L434.2 427.94 L434.57 432.98 L434.93 434.87 L435.29 433.61 L435.66 432.35 L436.02 431.09 L436.38 431.72 L436.75 432.98 L437.11 434.24 L437.47 435.5 L437.84 432.98 L438.2 430.46 L438.56 429.07 L438.92 428.82 L439.29 428.57 L439.65 428.32 L440.01 428.07 L440.38 427.81 L440.74 427.56 L441.1 427.31 L441.47 427.06 L441.83 426.81 L442.19 426.55 L442.56 426.3 L442.92 426.05 L443.28 426.05 L443.65 426.05 L444.01 426.05 L444.37 426.05 L444.74 426.05 L445.1 426.05 L445.46 426.05 L445.83 426.05 L446.19 426.05 L446.55 426.05 L446.92 426.05 L447.28 426.05 L447.64 425.98 L448 425.85 L448.37 425.72 L448.73 425.59 L449.09 425.45 L449.46 425.32 L449.82 425.19 L450.18 425.06 L450.55 424.92 L450.91 424.79 L451.27 424.66 L451.64 424.52 L452 427 L452.36 431.03 L452.73 435.06 L453.09 439.09 L453.45 443.12 L453.82 447.15 L454.18 446.23 L454.54 446.3 L454.91 444.4 L455.27 444.03 L455.63 443.59 L456 441.57 L456.36 440.56 L456.72 438.91 L457.08 438.48 L457.45 437.07 L457.81 436.24 L458.17 436.39 L458.54 437.08 L458.9 438.17 L459.26 439.75 L459.63 440.79 L459.99 440.66 L460.35 440.83 L460.72 441.17 L461.08 442.59 L461.44 443.23 L461.81 443.67 L462.17 444.46 L462.53 444.96 L462.9 445.99 L463.26 446.69 L463.62 446.94 L463.99 447.74 L464.35 447.25 L464.71 446.97 L465.08 448.26 L465.44 447.69 L465.8 447.43 L466.16 447.8 L466.53 449.08 L466.89 448.56 L467.25 449.53 L467.62 448.86 L467.98 449 L468.34 450.1 L468.71 450.67 L469.07 450.33 L469.43 450.31 L469.8 450.08 L470.16 449.72 L470.52 450.64 L470.89 451.57 L471.25 450.73 L471.61 451.7 L471.98 450.96 L472.34 451.77 L472.7 451.2 L473.07 450.95 L473.43 450.69 L473.79 451.1 L474.16 450.87 L474.52 451.85 L474.88 451.73 L475.24 452.25 L475.61 451.72 L475.97 451.63 L476.33 452.1 L476.7 452.34 L477.06 453.32 L477.42 453.94 L477.79 453.47 L478.15 453.4 L478.51 452.82 L478.88 452.93 L479.24 453.78 L479.6 453.99 L479.97 453.53 L480.33 453.69 L480.69 454.65 L481.06 453.97 L481.42 453.62 L481.78 454.64 L482.15 454.58 L482.51 454.84 L482.87 454.42 L483.24 454.96 L483.6 455.46 L483.96 455.39 L484.32 454.63 L484.69 455.58 L485.05 456.15 L485.41 455.74 L485.78 455.11 L486.14 455.36 L486.5 455.67 L486.87 455.23 L487.23 455.13 L487.59 456.23 L487.96 455.64 L488.32 456.4 L488.68 456.73 L489.05 456.13 L489.41 456.45 L489.77 456.09 L490.14 456.91 L490.5 456.32 L490.86 457.11 L491.23 457.6 L491.59 457.29 L491.95 457.34 L492.32 457.03 L492.68 456.27 L493.04 456.09 L493.4 457.09 L493.77 457.19 L494.13 456.87 L494.49 456.75 L494.86 456.31 L495.22 456.39 L495.58 457.07 L495.95 457.19 L496.31 456.31 L496.67 456.53 L497.04 456.01 L497.4 455.33 L497.76 455.59 L498.13 455.69 L498.49 455.89 L498.85 456.5 L499.22 455.95 L499.58 456.36 L499.94 455.93 L500.31 456.65 L500.67 456.23 L501.03 456.13 L501.4 456.38 L501.76 456.82 L502.12 457.59 L502.48 457.09 L502.85 457.46 L503.21 457.24 L503.57 457.97 L503.94 458.44 L504.3 458.55 L504.66 457.54 L505.03 457.89 L505.39 456.93 L505.75 457.16 L506.12 456.95 L506.48 457.14 L506.84 456.8 L507.21 457.39 L507.57 457.23 L507.93 456.26 L508.3 456.84 L508.66 456.41 L509.02 456.63 L509.39 456.78 L509.75 457.27 L510.11 457.54 L510.48 456.21 L510.84 455.56 L511.2 455.22 L511.56 455.02 L511.93 454.66 L512.29 455.69 L512.65 455.63 L513.02 455.73 L513.38 455.66 L513.74 455.03 L514.11 454.93 L514.47 454.54 L514.83 455.64 L515.2 455.45 L515.56 455.29 L515.92 455.08 L516.29 455.14 L516.65 454.84 L517.01 455.48 L517.38 454.88 L517.74 455.33 L518.1 455.27 L518.47 454.73 L518.83 454.7 L519.19 455.28 L519.56 455.73 L519.92 455.83 L520.28 455.39 L520.64 454.53 L521.01 454.15 L521.37 454.68 L521.73 454.98 L522.1 454.49 L522.46 455.01 L522.82 455.1 L523.19 455.76 L523.55 455.87 L523.91 455.36 L524.28 454.79 L524.64 454.55 L525 454.78 L525.37 453.97 L525.73 453.98 L526.09 454.71 L526.46 455.26 L526.82 454.14 L527.18 453.53 L527.55 453.33 L527.91 453.74 L528.27 454.47 L528.64 455.3 L529 455.56 L529.36 455.81 L529.72 454.88 L530.09 454.42 L530.45 454.35 L530.81 455.33 L531.18 455.82 L531.54 456.05 L531.9 455.19 L532.27 455.95 L532.63 455.45 L532.99 455.36 L533.36 455.55 L533.72 455.05 L534.08 455.78 L534.45 455.8 L534.81 456.39 L535.17 456.83 L535.54 457.19 L535.9 456.96 L536.26 457.12 L536.63 457.3 L536.99 455.94 L537.35 456.23 L537.72 455.45 L538.08 455.27 L538.44 455.12 L538.8 455.14 L539.17 454.68 L539.53 454.51 L539.89 454.66 L540.26 454.99 L540.62 454.98 L540.98 454.92 L541.35 455.14 L541.71 455.35 L542.07 456.02 L542.44 455.33 L542.8 455.48" stroke="#2a2aff" stroke-width="1.3" fill="none" stroke-linejoin="round"/>
<path d="M406.6 453.51 L406.96 453.1 L407.33 452.99 L407.69 451.54 L408.05 452.07 L408.42 452.33 L408.78 452.08 L409.14 453.44 L409.51 453.72 L409.87 454 L410.23 455.3 L410.6 455.76 L410.96 455.74 L411.32 455.96 L411.68 455.35 L412.05 455.79 L412.41 455.83 L412.77 455.97 L413.14 455.35 L413.5 454.22 L413.86 453.99 L414.23 453.47 L414.59 453.68 L414.95 453.29 L415.32 454.16 L415.68 454.4 L416.04 453.96 L416.41 453.63 L416.77 453.93 L417.13 454.65 L417.5 454.81 L417.86 455.02 L418.22 455.05 L418.59 454.25 L418.95 454.75 L419.31 453.99 L419.68 453.55 L420.04 454.61 L420.4 454.78 L420.76 454.76 L421.13 455.52 L421.49 455.38 L421.85 454.58 L422.22 455.39 L422.58 455.15 L422.94 455.8 L423.31 455.5 L423.67 454.87 L424.03 455.61 L424.4 456.41 L424.76 456.8 L425.12 456.36 L425.49 456.96 L425.85 457.25 L426.21 456.85 L426.58 456.11 L426.94 456.56 L427.3 456.97 L427.67 456.93 L428.03 457.87 L428.39 457.77 L428.76 457.45 L429.12 456.28 L429.48 399.47 L429.84 375.23 L430.21 356.75 L430.57 359.77 L430.93 362.25 L431.3 360.91 L431.66 363.58 L432.02 378.28 L432.39 382.61 L432.75 383.48 L433.11 384.36 L433.48 397.7 L433.84 408.73 L434.2 412.93 L434.57 416.6 L434.93 416.6 L435.29 416.6 L435.66 416.6 L436.02 416.6 L436.38 416.6 L436.75 416.6 L437.11 416.6 L437.47 416.6 L437.84 416.6 L438.2 416.6 L438.56 416.6 L438.92 416.6 L439.29 416.6 L439.65 416.6 L440.01 416.6 L440.38 416.6 L440.74 416.6 L441.1 416.6 L441.47 416.6 L441.83 416.6 L442.19 416.6 L442.56 416.6 L442.92 416.6 L443.28 416.6 L443.65 416.6 L444.01 416.6 L444.37 416.6 L444.74 416.6 L445.1 416.6 L445.46 416.6 L445.83 416.6 L446.19 416.6 L446.55 416.6 L446.92 416.6 L447.28 416.6 L447.64 416.6 L448 416.6 L448.37 416.6 L448.73 416.6 L449.09 416.6 L449.46 416.6 L449.82 416.6 L450.18 416.6 L450.55 416.6 L450.91 416.6 L451.27 416.6 L451.64 416.6 L452 416.6 L452.36 422.14 L452.73 427.69 L453.09 433.23 L453.45 438.78 L453.82 444.32 L454.18 443.03 L454.54 441.94 L454.91 441.14 L455.27 440.22 L455.63 438.41 L456 436.59 L456.36 435.98 L456.72 434.48 L457.08 432.67 L457.45 430.97 L457.81 432.4 L458.17 432.88 L458.54 434.73 L458.9 435.41 L459.26 436.15 L459.63 436.85 L459.99 438.31 L460.35 440.23 L460.72 441.89 L461.08 442.55 L461.44 443.94 L461.81 444.48 L462.17 446.09 L462.53 446.38 L462.9 447.87 L463.26 449.51 L463.62 450.1 L463.99 450.01 L464.35 449.92 L464.71 450.25 L465.08 450.92 L465.44 450.95 L465.8 450.35 L466.16 450.77 L466.53 450.5 L466.89 451.89 L467.25 451.33 L467.62 451.28 L467.98 451.91 L468.34 452.45 L468.71 452.87 L469.07 452.65 L469.43 453.98 L469.8 453.98 L470.16 454.26 L470.52 454.8 L470.89 454.51 L471.25 454.42 L471.61 455.39 L471.98 455.11 L472.34 455.39 L472.7 455.57 L473.07 455.51 L473.43 456.46 L473.79 456.23 L474.16 456.51 L474.52 455.96 L474.88 456.71 L475.24 456.29 L475.61 456.25 L475.97 456.46 L476.33 456.26 L476.7 457.52 L477.06 457.46 L477.42 457.47 L477.79 457.44 L478.15 457.91 L478.51 458.79 L478.88 459.19 L479.24 458.84 L479.6 459.29 L479.97 459.78 L480.33 459.66 L480.69 459.43 L481.06 459.23 L481.42 459.95 L481.78 459.23 L482.15 459.53 L482.51 459.04 L482.87 460 L483.24 459.13 L483.6 459.21 L483.96 458.68 L484.32 458.39 L484.69 458.49 L485.05 459.73 L485.41 460.13 L485.78 460.59 L486.14 460.03 L486.5 460.66 L486.87 461.03 L487.23 461.46 L487.59 461.73 L487.96 460.65 L488.32 459.97 L488.68 460.58 L489.05 460.41 L489.41 460.78 L489.77 460.96 L490.14 461.36 L490.5 461.22 L490.86 461.81 L491.23 462.18 L491.59 462.04 L491.95 462.5 L492.32 462.44 L492.68 461.66 L493.04 462.69 L493.4 463.22 L493.77 462.49 L494.13 463.26 L494.49 463.47 L494.86 462.69 L495.22 462.66 L495.58 463.29 L495.95 463.97 L496.31 464.08 L496.67 464.16 L497.04 463.46 L497.4 462.81 L497.76 462.51 L498.13 462.09 L498.49 461.74 L498.85 461.56 L499.22 461.33 L499.58 461.06 L499.94 462.22 L500.31 462.5 L500.67 462.73 L501.03 462.25 L501.4 462.09 L501.76 462.16 L502.12 461.37 L502.48 461.54 L502.85 461.88 L503.21 461.92 L503.57 461.6 L503.94 461.12 L504.3 460.84 L504.66 460.82 L505.03 461.15 L505.39 460.96 L505.75 460.91 L506.12 461.06 L506.48 460.51 L506.84 460.75 L507.21 460.04 L507.57 459.67 L507.93 460.23 L508.3 459.77 L508.66 459.92 L509.02 459.81 L509.39 459.46 L509.75 458.97 L510.11 458.46 L510.48 458.36 L510.84 459.09 L511.2 458.98 L511.56 459.2 L511.93 459.81 L512.29 459.3 L512.65 459.1 L513.02 458.32 L513.38 458.68 L513.74 458.06 L514.11 458.16 L514.47 458.85 L514.83 458.25 L515.2 458.55 L515.56 458.3 L515.92 458.84 L516.29 459.22 L516.65 457.98 L517.01 458.59 L517.38 458.75 L517.74 458.79 L518.1 458.88 L518.47 457.75 L518.83 456.77 L519.19 456.7 L519.56 457.01 L519.92 456.39 L520.28 456.59 L520.64 457.25 L521.01 456.74 L521.37 456.92 L521.73 457.13 L522.1 457.15 L522.46 457.02 L522.82 457.22 L523.19 456.64 L523.55 455.84 L523.91 455.8 L524.28 456.63 L524.64 456.02 L525 456.85 L525.37 456.66 L525.73 455.97 L526.09 455.88 L526.46 455.51 L526.82 455.56 L527.18 456.38 L527.55 457.12 L527.91 457.11 L528.27 456.78 L528.64 457.32 L529 457.52 L529.36 457.02 L529.72 457.39 L530.09 457.25 L530.45 457.28 L530.81 456.74 L531.18 457.87 L531.54 458.33 L531.9 457.71 L532.27 457.54 L532.63 458.38 L532.99 458.86 L533.36 459.06 L533.72 458.69 L534.08 457.69 L534.45 458.09 L534.81 458.29 L535.17 457.59 L535.54 457.51 L535.9 456.73 L536.26 455.95 L536.63 455.52 L536.99 455.54 L537.35 455.83 L537.72 456.62 L538.08 455.85 L538.44 455.97 L538.8 455.87 L539.17 455.48 L539.53 454.69 L539.89 454.82 L540.26 454.27 L540.62 453.82 L540.98 454.88 L541.35 455.04 L541.71 454.25 L542.07 453.91 L542.44 453.34 L542.8 454.18" stroke="#ff2a2a" stroke-width="1.3" fill="none" stroke-linejoin="round"/>
<path d="M433.84 415.14 L434.98 411.88 L436.11 414.79 L437.25 410.69 L438.38 412.78 L439.52 416.26 L440.65 412.23 L441.79 410.78 L442.92 414.67 L444.06 409.37 L445.19 410.22 L446.33 416.05 L447.46 412.84 L448.6 409.69 L449.73 415.21 L450.87 415.42 L452 413.14 L452 427.89 L450.87 425.29 L449.73 426.05 L448.6 429.17 L447.46 430.92 L446.33 429.44 L445.19 427.45 L444.06 426.6 L442.92 431.43 L441.79 430.11 L440.65 431.24 L439.52 429.15 L438.38 430.08 L437.25 428.17 L436.11 426.23 L434.98 428.4 L433.84 426.94 Z" stroke="#e0284a" stroke-width="0.8" fill="#cf2749"/>
<path d="M433.84 422.9 L434.75 435.5 L436.11 430.77 L437.47 435.5 L438.38 429.2" stroke="#2a2aff" stroke-width="1.3" fill="none"/>
<rect x="406.6" y="344.2" width="136.2" height="125.3" fill="none" stroke="#000" stroke-width="1.3"/>
<line x1="401.6" y1="470.15" x2="406.6" y2="470.15" stroke="#000" stroke-width="1.3"/>
<text x="399.7" y="473.15" font-size="9.3" text-anchor="end">-0.5</text>
<line x1="401.6" y1="454.4" x2="406.6" y2="454.4" stroke="#000" stroke-width="1.3"/>
<text x="399.7" y="457.4" font-size="9.3" text-anchor="end">0.0</text>
<line x1="401.6" y1="438.65" x2="406.6" y2="438.65" stroke="#000" stroke-width="1.3"/>
<text x="399.7" y="441.65" font-size="9.3" text-anchor="end">0.5</text>
<line x1="401.6" y1="422.9" x2="406.6" y2="422.9" stroke="#000" stroke-width="1.3"/>
<text x="399.7" y="425.9" font-size="9.3" text-anchor="end">1.0</text>
<line x1="401.6" y1="407.15" x2="406.6" y2="407.15" stroke="#000" stroke-width="1.3"/>
<text x="399.7" y="410.15" font-size="9.3" text-anchor="end">1.5</text>
<line x1="401.6" y1="391.4" x2="406.6" y2="391.4" stroke="#000" stroke-width="1.3"/>
<text x="399.7" y="394.4" font-size="9.3" text-anchor="end">2.0</text>
<line x1="401.6" y1="375.65" x2="406.6" y2="375.65" stroke="#000" stroke-width="1.3"/>
<text x="399.7" y="378.65" font-size="9.3" text-anchor="end">2.5</text>
<line x1="401.6" y1="359.9" x2="406.6" y2="359.9" stroke="#000" stroke-width="1.3"/>
<text x="399.7" y="362.9" font-size="9.3" text-anchor="end">3.0</text>
<line x1="401.6" y1="344.15" x2="406.6" y2="344.15" stroke="#000" stroke-width="1.3"/>
<text x="399.7" y="347.15" font-size="9.3" text-anchor="end">3.5</text>
<line x1="406.6" y1="469.5" x2="406.6" y2="474.5" stroke="#000" stroke-width="1.3"/>
<text x="406.6" y="484.8" font-size="9.7" text-anchor="middle">0</text>
<line x1="429.3" y1="469.5" x2="429.3" y2="474.5" stroke="#000" stroke-width="1.3"/>
<text x="429.3" y="484.8" font-size="9.7" text-anchor="middle">5</text>
<line x1="452" y1="469.5" x2="452" y2="474.5" stroke="#000" stroke-width="1.3"/>
<text x="452" y="484.8" font-size="9.7" text-anchor="middle">10</text>
<line x1="474.7" y1="469.5" x2="474.7" y2="474.5" stroke="#000" stroke-width="1.3"/>
<text x="474.7" y="484.8" font-size="9.7" text-anchor="middle">15</text>
<line x1="497.4" y1="469.5" x2="497.4" y2="474.5" stroke="#000" stroke-width="1.3"/>
<text x="497.4" y="484.8" font-size="9.7" text-anchor="middle">20</text>
<line x1="520.1" y1="469.5" x2="520.1" y2="474.5" stroke="#000" stroke-width="1.3"/>
<text x="520.1" y="484.8" font-size="9.7" text-anchor="middle">25</text>
<line x1="542.8" y1="469.5" x2="542.8" y2="474.5" stroke="#000" stroke-width="1.3"/>
<text x="542.8" y="484.8" font-size="9.7" text-anchor="middle">30</text>
<line x1="429.3" y1="341.2" x2="429.3" y2="344.2" stroke="#000" stroke-width="1"/>
<text x="428.2" y="338.9" font-size="6.5" text-anchor="middle">Stim on</text>
<text x="474.5" y="498.6" font-size="10" text-anchor="middle">Time (sec)</text>
<text x="379.4" y="406.7" font-size="10.5" text-anchor="middle" transform="rotate(-90 379.4 406.7)">&#916;F/F%</text>
<line x1="483.4" y1="349" x2="496.3" y2="349" stroke="#2222ff" stroke-width="1.2"/>
<line x1="483.4" y1="356.8" x2="496.3" y2="356.8" stroke="#ff2020" stroke-width="1.2"/>
<text x="502.9" y="351.8" font-size="8">9 mo WT</text>
<text x="502.9" y="359.6" font-size="8">9 moP301S</text>
<rect x="582.55" y="389.26" width="10.6" height="81.04" fill="#5a55f7" stroke="#000" stroke-width="1.5"/>
<rect x="598.65" y="367.55" width="9.9" height="102.75" fill="#f43d3d" stroke="#000" stroke-width="1.5"/>
<line x1="587.85" y1="383.48" x2="587.85" y2="388.51" stroke="#333" stroke-width="1.2"/>
<line x1="585.14" y1="383.48" x2="590.56" y2="383.48" stroke="#333" stroke-width="1.2"/>
<line x1="603.6" y1="363.93" x2="603.6" y2="366.8" stroke="#333" stroke-width="1.2"/>
<line x1="601.06" y1="363.93" x2="606.14" y2="363.93" stroke="#333" stroke-width="1.2"/>
<line x1="575.4" y1="354.55" x2="575.4" y2="471.05" stroke="#000" stroke-width="1.5"/>
<line x1="574.65" y1="470.3" x2="616.5" y2="470.3" stroke="#000" stroke-width="1.5"/>
<line x1="569.4" y1="470.3" x2="575.4" y2="470.3" stroke="#000" stroke-width="1.5"/>
<text x="567.4" y="473.9" font-size="10" text-anchor="end">0</text>
<line x1="569.4" y1="441.55" x2="575.4" y2="441.55" stroke="#000" stroke-width="1.5"/>
<text x="567.4" y="445.15" font-size="10" text-anchor="end">20</text>
<line x1="569.4" y1="412.8" x2="575.4" y2="412.8" stroke="#000" stroke-width="1.5"/>
<text x="567.4" y="416.4" font-size="10" text-anchor="end">40</text>
<line x1="569.4" y1="384.05" x2="575.4" y2="384.05" stroke="#000" stroke-width="1.5"/>
<text x="567.4" y="387.65" font-size="10" text-anchor="end">60</text>
<line x1="569.4" y1="355.3" x2="575.4" y2="355.3" stroke="#000" stroke-width="1.5"/>
<text x="567.4" y="358.9" font-size="10" text-anchor="end">80</text>
<line x1="587.5" y1="470.3" x2="587.5" y2="476.3" stroke="#000" stroke-width="1.5"/>
<line x1="603.2" y1="470.3" x2="603.2" y2="476.3" stroke="#000" stroke-width="1.5"/>
<text x="590" y="486.6" font-size="10.6" text-anchor="end" transform="rotate(-45 590 486.6)">WT</text>
<text x="605.7" y="486.6" font-size="10.6" text-anchor="end" transform="rotate(-45 605.7 486.6)">P301S</text>
<text x="553.8" y="412.7" font-size="10.6" text-anchor="middle" transform="rotate(-90 553.8 412.7)">GCaMP AUC</text>
<path d="M587.4 373.9 L587.4 345 L603.7 345 L603.7 353" stroke="#8a8a8a" stroke-width="1.1" fill="none"/>
<path d="M595.55 333.3 L595.55 339.5 M592.87 334.85 L598.23 337.95 M598.23 334.85 L592.87 337.95" stroke="#222" stroke-width="1.3" fill="none" stroke-linecap="round"/>
<rect x="649.95" y="423.29" width="10.6" height="45.91" fill="#5a55f7" stroke="#000" stroke-width="1.5"/>
<rect x="666.05" y="386.43" width="9.9" height="82.77" fill="#f43d3d" stroke="#000" stroke-width="1.5"/>
<line x1="655.25" y1="420.24" x2="655.25" y2="422.54" stroke="#333" stroke-width="1.2"/>
<line x1="652.54" y1="420.24" x2="657.96" y2="420.24" stroke="#333" stroke-width="1.2"/>
<line x1="671" y1="373.58" x2="671" y2="385.68" stroke="#333" stroke-width="1.2"/>
<line x1="668.46" y1="373.58" x2="673.54" y2="373.58" stroke="#333" stroke-width="1.2"/>
<circle cx="655.25" cy="418.8" r="1.65" fill="none" stroke="#000" stroke-width="1.35"/>
<circle cx="652.25" cy="423.98" r="1.65" fill="none" stroke="#000" stroke-width="1.35"/>
<circle cx="658.25" cy="423.98" r="1.65" fill="none" stroke="#000" stroke-width="1.35"/>
<circle cx="668" cy="367.82" r="1.65" fill="none" stroke="#000" stroke-width="1.35"/>
<circle cx="674" cy="367.82" r="1.65" fill="none" stroke="#000" stroke-width="1.35"/>
<circle cx="671" cy="390" r="1.65" fill="none" stroke="#000" stroke-width="1.35"/>
<circle cx="671" cy="415.06" r="1.65" fill="none" stroke="#000" stroke-width="1.35"/>
<line x1="642.6" y1="353.25" x2="642.6" y2="469.95" stroke="#000" stroke-width="1.5"/>
<line x1="641.85" y1="469.2" x2="678.5" y2="469.2" stroke="#000" stroke-width="1.5"/>
<line x1="636.6" y1="469.2" x2="642.6" y2="469.2" stroke="#000" stroke-width="1.5"/>
<text x="634.6" y="472.8" font-size="10" text-anchor="end">0</text>
<line x1="636.6" y1="440.4" x2="642.6" y2="440.4" stroke="#000" stroke-width="1.5"/>
<text x="634.6" y="444" font-size="10" text-anchor="end">1</text>
<line x1="636.6" y1="411.6" x2="642.6" y2="411.6" stroke="#000" stroke-width="1.5"/>
<text x="634.6" y="415.2" font-size="10" text-anchor="end">2</text>
<line x1="636.6" y1="382.8" x2="642.6" y2="382.8" stroke="#000" stroke-width="1.5"/>
<text x="634.6" y="386.4" font-size="10" text-anchor="end">3</text>
<line x1="636.6" y1="354" x2="642.6" y2="354" stroke="#000" stroke-width="1.5"/>
<text x="634.6" y="357.6" font-size="10" text-anchor="end">4</text>
<line x1="655.1" y1="469.2" x2="655.1" y2="475.2" stroke="#000" stroke-width="1.5"/>
<line x1="670.5" y1="469.2" x2="670.5" y2="475.2" stroke="#000" stroke-width="1.5"/>
<text x="657.6" y="485.5" font-size="10.6" text-anchor="end" transform="rotate(-45 657.6 485.5)">WT</text>
<text x="673" y="485.5" font-size="10.6" text-anchor="end" transform="rotate(-45 673 485.5)">P301S</text>
<text x="625.8" y="411.3" font-size="10.8" text-anchor="middle" transform="rotate(-90 625.8 411.3)">Amplitude (&#916;F/F%)</text>
<path d="M655.1 412 L655.1 357.2 L670.5 357.2 L670.5 360" stroke="#8a8a8a" stroke-width="1.1" fill="none"/>
<path d="M662.8 350.3 L662.8 355.1 M660.72 351.5 L664.88 353.9 M664.88 351.5 L660.72 353.9" stroke="#222" stroke-width="1.3" fill="none" stroke-linecap="round"/>
<line x1="71.7" y1="552" x2="71.7" y2="668.5" stroke="#000" stroke-width="1" stroke-dasharray="1.2 1.8"/>
<line x1="85.9" y1="552" x2="85.9" y2="668.5" stroke="#000" stroke-width="1" stroke-dasharray="1.2 1.8"/>
<line x1="100.1" y1="552" x2="100.1" y2="668.5" stroke="#000" stroke-width="1" stroke-dasharray="1.2 1.8"/>
<line x1="164" y1="552" x2="164" y2="668.5" stroke="#000" stroke-width="1" stroke-dasharray="1.2 1.8"/>
<line x1="199.5" y1="552" x2="199.5" y2="668.5" stroke="#000" stroke-width="1" stroke-dasharray="1.2 1.8"/>
<path d="M64.6 667.1 L68.15 662.16 L71.7 652.28 L75.25 632.52 L77.73 612.77 L80.58 588.07 L83.06 582.39 L85.9 590.54 L88.38 602.89 L90.52 615.24 L93 623.14 L96.55 626.35 L100.1 630.06 L103.65 637.46 L107.2 644.87 L110.75 651.05 L114.3 654.75 L117.85 659.69 L121.4 662.16 L126.72 664.14 L132.05 664.63 L137.38 662.16 L140.93 658.46 L144.47 660.93 L149.8 664.63 L156.9 664.14 L164 663.4 L178.2 663.4 L188.85 662.16 L194.17 664.14 L199.5 666.36 L199.5 668.5 L194.17 667.27 L188.85 665.52 L178.2 666.61 L164 666.61 L156.9 667.27 L149.8 667.71 L144.47 664.42 L140.93 662.23 L137.38 665.52 L132.05 667.71 L126.72 667.27 L121.4 665.52 L117.85 663.33 L114.3 658.95 L110.75 655.66 L107.2 650.19 L103.65 643.62 L100.1 637.04 L96.55 633.76 L93 630.91 L90.52 623.9 L88.38 612.95 L85.9 602 L83.06 594.77 L80.58 599.81 L77.73 621.71 L75.25 639.24 L71.7 656.76 L68.15 665.52 L64.6 668.5 Z" stroke="none" stroke-width="0" fill="#8080ff" fill-opacity="0.25"/>
<path d="M64.6 667.1 L68.15 660.93 L70.99 659.69 L73.47 649.81 L75.96 630.06 L78.8 605.36 L81.64 588.07 L84.12 582.63 L86.61 588.07 L89.45 602.89 L93 617.71 L95.48 622.65 L100.81 634.99 L103.65 642.4 L107.2 649.81 L110.75 657.22 L116.07 663.4 L121.4 666.36 L127.43 666.36 L128.86 662.16 L130.63 665.13 L133.12 660.93 L135.6 657.22 L139.15 658.46 L142.7 660.93 L146.25 664.63 L153.35 664.14 L161.16 658.46 L164 654.75 L166.84 656.73 L171.1 652.78 L174.65 649.32 L178.2 651.05 L181.75 655.99 L185.3 658.46 L190.62 662.16 L199.5 666.61 L199.5 668.5 L190.62 665.52 L185.3 662.23 L181.75 660.04 L178.2 655.66 L174.65 654.13 L171.1 657.19 L166.84 660.7 L164 658.95 L161.16 662.23 L153.35 667.27 L146.25 667.71 L142.7 664.42 L139.15 662.23 L135.6 661.14 L133.12 664.42 L130.63 668.15 L128.86 665.52 L127.43 668.5 L121.4 668.5 L116.07 666.61 L110.75 661.14 L107.2 654.57 L103.65 648 L100.81 641.43 L95.48 630.47 L93 626.09 L89.45 612.95 L86.61 599.81 L84.12 594.99 L81.64 599.81 L78.8 615.14 L75.96 637.04 L73.47 654.57 L70.99 663.33 L68.15 664.42 L64.6 668.5 Z" stroke="none" stroke-width="0" fill="#ff8080" fill-opacity="0.25"/>
<path d="M64.6 668.5 C65.19 667.53 67.09 663.84 68.15 662.67 C69.22 661.51 70.1 663.26 70.99 661.51 C71.88 659.76 72.65 656.85 73.47 652.19 C74.3 647.53 75.07 640.54 75.96 633.55 C76.85 626.56 77.85 616.85 78.8 610.25 C79.75 603.65 80.75 597.51 81.64 593.94 C82.53 590.37 83.3 588.81 84.12 588.81 C84.95 588.81 85.72 590.76 86.61 593.94 C87.5 597.12 88.39 603.26 89.45 607.92 C90.52 612.58 91.99 618.79 93 621.9 C94.01 625.01 94.18 623.84 95.48 626.56 C96.79 629.28 99.45 635.1 100.81 638.21 C102.17 641.32 102.59 642.87 103.65 645.2 C104.72 647.53 106.02 649.86 107.2 652.19 C108.38 654.52 109.27 657.04 110.75 659.18 C112.23 661.32 114.3 663.57 116.07 665 C117.85 666.44 119.51 667.34 121.4 667.8 C123.29 668.27 126.19 668.46 127.43 667.8 C128.68 667.14 128.32 664.03 128.86 663.84 C129.39 663.65 129.92 666.83 130.63 666.64 C131.34 666.44 132.29 663.92 133.12 662.67 C133.94 661.43 134.59 659.57 135.6 659.18 C136.61 658.79 137.97 659.76 139.15 660.35 C140.33 660.93 141.52 661.7 142.7 662.67 C143.88 663.65 144.47 665.67 146.25 666.17 C148.03 666.67 150.87 666.67 153.35 665.7 C155.83 664.73 159.38 661.82 161.16 660.35 C162.94 658.87 163.05 657.12 164 656.85 C164.95 656.58 165.66 659.02 166.84 658.71 C168.02 658.4 169.8 656.15 171.1 654.99 C172.4 653.82 173.47 652 174.65 651.72 C175.83 651.45 177.02 652.31 178.2 653.36 C179.38 654.4 180.57 656.85 181.75 658.01 C182.93 659.18 183.82 659.37 185.3 660.35 C186.78 661.32 188.26 662.56 190.62 663.84 C192.99 665.12 198.02 667.34 199.5 668.03" stroke="#ff2020" stroke-width="1.9" fill="none"/>
<path d="M64.6 668.5 C65.19 667.72 66.97 666.17 68.15 663.84 C69.33 661.51 70.52 659.18 71.7 654.52 C72.88 649.86 74.24 642.09 75.25 635.88 C76.26 629.67 76.85 624.23 77.73 617.24 C78.62 610.25 79.69 598.72 80.58 593.94 C81.46 589.16 82.17 588.19 83.06 588.58 C83.95 588.97 85.01 593.05 85.9 596.27 C86.79 599.49 87.62 604.04 88.38 607.92 C89.15 611.8 89.75 616.39 90.52 619.57 C91.28 622.75 91.99 625.28 93 627.03 C94.01 628.77 95.37 628.97 96.55 630.05 C97.73 631.14 98.92 631.8 100.1 633.55 C101.28 635.3 102.47 638.21 103.65 640.54 C104.83 642.87 106.02 645.39 107.2 647.53 C108.38 649.67 109.57 651.8 110.75 653.36 C111.93 654.91 113.12 655.49 114.3 656.85 C115.48 658.21 116.67 660.35 117.85 661.51 C119.03 662.67 119.92 663.14 121.4 663.84 C122.88 664.54 124.95 665.32 126.72 665.7 C128.5 666.09 130.28 666.48 132.05 666.17 C133.83 665.86 135.9 664.81 137.38 663.84 C138.85 662.87 139.74 660.54 140.93 660.35 C142.11 660.15 143 661.7 144.47 662.67 C145.95 663.65 147.73 665.67 149.8 666.17 C151.87 666.67 154.53 665.9 156.9 665.7 C159.27 665.51 160.45 665.12 164 665 C167.55 664.89 174.06 665.2 178.2 665 C182.34 664.81 186.19 663.72 188.85 663.84 C191.51 663.96 192.4 665.04 194.17 665.7 C195.95 666.36 198.61 667.45 199.5 667.8" stroke="#1a1aff" stroke-width="1.9" fill="none"/>
<line x1="57.5" y1="551.4" x2="57.5" y2="669.2" stroke="#000" stroke-width="1.4"/>
<line x1="56.8" y1="668.5" x2="200.2" y2="668.5" stroke="#000" stroke-width="1.4"/>
<line x1="52" y1="668.5" x2="57.5" y2="668.5" stroke="#000" stroke-width="1.4"/>
<text x="50" y="671.92" font-size="9.5" text-anchor="end">0.0</text>
<line x1="52" y1="645.2" x2="57.5" y2="645.2" stroke="#000" stroke-width="1.4"/>
<text x="50" y="648.62" font-size="9.5" text-anchor="end">0.1</text>
<line x1="52" y1="621.9" x2="57.5" y2="621.9" stroke="#000" stroke-width="1.4"/>
<text x="50" y="625.32" font-size="9.5" text-anchor="end">0.2</text>
<line x1="52" y1="598.6" x2="57.5" y2="598.6" stroke="#000" stroke-width="1.4"/>
<text x="50" y="602.02" font-size="9.5" text-anchor="end">0.3</text>
<line x1="52" y1="575.3" x2="57.5" y2="575.3" stroke="#000" stroke-width="1.4"/>
<text x="50" y="578.72" font-size="9.5" text-anchor="end">0.4</text>
<line x1="52" y1="552" x2="57.5" y2="552" stroke="#000" stroke-width="1.4"/>
<text x="50" y="555.42" font-size="9.5" text-anchor="end">0.5</text>
<line x1="57.5" y1="668.5" x2="57.5" y2="674" stroke="#000" stroke-width="1.4"/>
<text x="57.5" y="684.5" font-size="9.5" text-anchor="middle">0</text>
<line x1="93" y1="668.5" x2="93" y2="674" stroke="#000" stroke-width="1.4"/>
<text x="93" y="684.5" font-size="9.5" text-anchor="middle">10</text>
<line x1="128.5" y1="668.5" x2="128.5" y2="674" stroke="#000" stroke-width="1.4"/>
<text x="128.5" y="684.5" font-size="9.5" text-anchor="middle">20</text>
<line x1="164" y1="668.5" x2="164" y2="674" stroke="#000" stroke-width="1.4"/>
<text x="164" y="684.5" font-size="9.5" text-anchor="middle">30</text>
<line x1="199.5" y1="668.5" x2="199.5" y2="674" stroke="#000" stroke-width="1.4"/>
<text x="199.5" y="684.5" font-size="9.5" text-anchor="middle">40</text>
<text x="128.5" y="699" font-size="9.2" text-anchor="middle">Frequency (Hz)</text>
<text x="20.6" y="610.5" font-size="9.9" text-anchor="middle" transform="rotate(-90 20.6 610.5)">Periodic Component</text>
<text x="32" y="611.3" font-size="9.85" text-anchor="middle" transform="rotate(-90 32 611.3)">log(power)</text>
<rect x="146.5" y="554.2" width="50" height="16.5" fill="#fff"/>
<line x1="128.3" y1="558.7" x2="142.3" y2="558.7" stroke="#1a1aff" stroke-width="2.2"/>
<line x1="128.3" y1="566.2" x2="142.3" y2="566.2" stroke="#ff2020" stroke-width="2.2"/>
<text x="149.3" y="561.9" font-size="8.7">9 mo WT</text>
<text x="149.3" y="569.4" font-size="8.7">9 mo P301S</text>
<rect x="241.7" y="574.66" width="14.8" height="94.54" fill="#5a55f7" stroke="#000" stroke-width="1.4"/>
<rect x="261.6" y="569.36" width="14.8" height="99.84" fill="#f43d3d" stroke="#000" stroke-width="1.4"/>
<line x1="249.1" y1="571.02" x2="249.1" y2="576.91" stroke="#333" stroke-width="1.2"/>
<line x1="245.4" y1="576.91" x2="252.8" y2="576.91" stroke="#333" stroke-width="1.2"/>
<line x1="245.4" y1="571.02" x2="252.8" y2="571.02" stroke="#333" stroke-width="1.2"/>
<line x1="269" y1="566.45" x2="269" y2="570.87" stroke="#333" stroke-width="1.2"/>
<line x1="265.3" y1="570.87" x2="272.7" y2="570.87" stroke="#333" stroke-width="1.2"/>
<line x1="265.3" y1="566.45" x2="272.7" y2="566.45" stroke="#333" stroke-width="1.2"/>
<circle cx="242.8" cy="565.72" r="1.4" fill="none" stroke="#000" stroke-width="1.15"/>
<circle cx="249.2" cy="566.31" r="1.4" fill="none" stroke="#000" stroke-width="1.15"/>
<circle cx="255.8" cy="564.98" r="1.4" fill="none" stroke="#000" stroke-width="1.15"/>
<circle cx="242.6" cy="573.52" r="1.4" fill="none" stroke="#000" stroke-width="1.15"/>
<circle cx="255.6" cy="575.14" r="1.4" fill="none" stroke="#000" stroke-width="1.15"/>
<circle cx="249.3" cy="577.64" r="1.4" fill="none" stroke="#000" stroke-width="1.15"/>
<circle cx="252.4" cy="581.76" r="1.4" fill="none" stroke="#000" stroke-width="1.15"/>
<circle cx="245.9" cy="583.68" r="1.4" fill="none" stroke="#000" stroke-width="1.15"/>
<circle cx="249.1" cy="573.96" r="1.4" fill="#000" stroke="#000" stroke-width="1.15"/>
<circle cx="268.5" cy="557.03" r="1.4" fill="none" stroke="#000" stroke-width="1.15"/>
<circle cx="268.5" cy="561.45" r="1.4" fill="none" stroke="#000" stroke-width="1.15"/>
<circle cx="268.5" cy="565.42" r="1.4" fill="none" stroke="#000" stroke-width="1.15"/>
<circle cx="262" cy="568.66" r="1.4" fill="none" stroke="#000" stroke-width="1.15"/>
<circle cx="275.5" cy="568.66" r="1.4" fill="none" stroke="#000" stroke-width="1.15"/>
<circle cx="266" cy="569.4" r="1.4" fill="none" stroke="#000" stroke-width="1.15"/>
<circle cx="271.5" cy="569.4" r="1.4" fill="none" stroke="#000" stroke-width="1.15"/>
<circle cx="268.5" cy="575.14" r="1.4" fill="none" stroke="#000" stroke-width="1.15"/>
<line x1="234.1" y1="550.72" x2="234.1" y2="669.93" stroke="#000" stroke-width="1.45"/>
<line x1="233.38" y1="669.2" x2="284.7" y2="669.2" stroke="#000" stroke-width="1.45"/>
<line x1="228.5" y1="669.2" x2="234.1" y2="669.2" stroke="#000" stroke-width="1.45"/>
<text x="226.5" y="672.44" font-size="9" text-anchor="end">0</text>
<line x1="228.5" y1="639.76" x2="234.1" y2="639.76" stroke="#000" stroke-width="1.45"/>
<text x="226.5" y="643" font-size="9" text-anchor="end">2</text>
<line x1="228.5" y1="610.32" x2="234.1" y2="610.32" stroke="#000" stroke-width="1.45"/>
<text x="226.5" y="613.56" font-size="9" text-anchor="end">4</text>
<line x1="228.5" y1="580.88" x2="234.1" y2="580.88" stroke="#000" stroke-width="1.45"/>
<text x="226.5" y="584.12" font-size="9" text-anchor="end">6</text>
<line x1="228.5" y1="551.44" x2="234.1" y2="551.44" stroke="#000" stroke-width="1.45"/>
<text x="226.5" y="554.68" font-size="9" text-anchor="end">8</text>
<line x1="248.8" y1="669.2" x2="248.8" y2="674.8" stroke="#000" stroke-width="1.45"/>
<line x1="268.7" y1="669.2" x2="268.7" y2="674.8" stroke="#000" stroke-width="1.45"/>
<text x="249.8" y="684.5" font-size="9" text-anchor="end" transform="rotate(-45 249.8 684.5)">WT</text>
<text x="269.7" y="684.5" font-size="9" text-anchor="end" transform="rotate(-45 269.7 684.5)">P301S</text>
<text x="215.4" y="610.6" font-size="9.8" text-anchor="middle" transform="rotate(-90 215.4 610.6)">Theta CF (Hz)</text>
<path d="M249.4 560.9 L249.4 545.5 L268.5 545.5 L268.5 552.8" stroke="#666" stroke-width="1.1" fill="none"/>
<path d="M258.95 538.85 L258.95 543.15 M257.09 539.92 L260.81 542.08 M260.81 539.92 L257.09 542.08" stroke="#222" stroke-width="1.1" fill="none" stroke-linecap="round"/>
<rect x="342.8" y="600.4" width="13.9" height="69.2" fill="#5a55f7" stroke="#000" stroke-width="1.4"/>
<rect x="362.1" y="623.7" width="13.9" height="45.9" fill="#f43d3d" stroke="#000" stroke-width="1.4"/>
<line x1="349.75" y1="595.04" x2="349.75" y2="604.36" stroke="#333" stroke-width="1.2"/>
<line x1="346.27" y1="604.36" x2="353.23" y2="604.36" stroke="#333" stroke-width="1.2"/>
<line x1="346.27" y1="595.04" x2="353.23" y2="595.04" stroke="#333" stroke-width="1.2"/>
<line x1="369.05" y1="616.01" x2="369.05" y2="629.99" stroke="#333" stroke-width="1.2"/>
<line x1="365.57" y1="629.99" x2="372.53" y2="629.99" stroke="#333" stroke-width="1.2"/>
<line x1="365.57" y1="616.01" x2="372.53" y2="616.01" stroke="#333" stroke-width="1.2"/>
<circle cx="346.75" cy="589.22" r="1.4" fill="none" stroke="#000" stroke-width="1.15"/>
<circle cx="352.75" cy="589.22" r="1.4" fill="none" stroke="#000" stroke-width="1.15"/>
<circle cx="349.75" cy="598.54" r="1.4" fill="#000" stroke="#000" stroke-width="1.15"/>
<circle cx="345.75" cy="604.36" r="1.4" fill="none" stroke="#000" stroke-width="1.15"/>
<circle cx="349.75" cy="614.85" r="1.4" fill="none" stroke="#000" stroke-width="1.15"/>
<circle cx="366.05" cy="603.2" r="1.4" fill="none" stroke="#000" stroke-width="1.15"/>
<circle cx="372.05" cy="603.2" r="1.4" fill="none" stroke="#000" stroke-width="1.15"/>
<circle cx="369.05" cy="621.84" r="1.4" fill="none" stroke="#000" stroke-width="1.15"/>
<circle cx="366.05" cy="629.99" r="1.4" fill="none" stroke="#000" stroke-width="1.15"/>
<circle cx="372.05" cy="628.83" r="1.4" fill="none" stroke="#000" stroke-width="1.15"/>
<circle cx="369.05" cy="635.82" r="1.4" fill="none" stroke="#000" stroke-width="1.15"/>
<line x1="334.3" y1="552.38" x2="334.3" y2="670.33" stroke="#000" stroke-width="1.45"/>
<line x1="333.57" y1="669.6" x2="384.3" y2="669.6" stroke="#000" stroke-width="1.45"/>
<line x1="328.7" y1="669.6" x2="334.3" y2="669.6" stroke="#000" stroke-width="1.45"/>
<text x="326.7" y="672.84" font-size="9" text-anchor="end">30</text>
<line x1="328.7" y1="646.3" x2="334.3" y2="646.3" stroke="#000" stroke-width="1.45"/>
<text x="326.7" y="649.54" font-size="9" text-anchor="end">32</text>
<line x1="328.7" y1="623" x2="334.3" y2="623" stroke="#000" stroke-width="1.45"/>
<text x="326.7" y="626.24" font-size="9" text-anchor="end">34</text>
<line x1="328.7" y1="599.7" x2="334.3" y2="599.7" stroke="#000" stroke-width="1.45"/>
<text x="326.7" y="602.94" font-size="9" text-anchor="end">36</text>
<line x1="328.7" y1="576.4" x2="334.3" y2="576.4" stroke="#000" stroke-width="1.45"/>
<text x="326.7" y="579.64" font-size="9" text-anchor="end">38</text>
<line x1="328.7" y1="553.1" x2="334.3" y2="553.1" stroke="#000" stroke-width="1.45"/>
<text x="326.7" y="556.34" font-size="9" text-anchor="end">40</text>
<line x1="349.6" y1="669.6" x2="349.6" y2="675.2" stroke="#000" stroke-width="1.45"/>
<line x1="368.9" y1="669.6" x2="368.9" y2="675.2" stroke="#000" stroke-width="1.45"/>
<text x="350.6" y="684.9" font-size="9" text-anchor="end" transform="rotate(-45 350.6 684.9)">WT</text>
<text x="369.9" y="684.9" font-size="9" text-anchor="end" transform="rotate(-45 369.9 684.9)">P301S</text>
<text x="310.4" y="611" font-size="9.9" text-anchor="middle" transform="rotate(-90 310.4 611)">Gamma CF (Hz)</text>
<path d="M349.6 584 L349.6 557.2 L368.9 557.2 L368.9 598" stroke="#666" stroke-width="1.1" fill="none"/>
<path d="M359.25 550.55 L359.25 554.85 M357.39 551.62 L361.11 553.78 M361.11 551.62 L357.39 553.78" stroke="#222" stroke-width="1.1" fill="none" stroke-linecap="round"/>
<rect x="422" y="640.8" width="14.5" height="28.7" fill="#5a55f7" stroke="#000" stroke-width="1.4"/>
<rect x="442" y="609.93" width="14.1" height="59.57" fill="#f43d3d" stroke="#000" stroke-width="1.4"/>
<line x1="429.25" y1="635.69" x2="429.25" y2="644.51" stroke="#333" stroke-width="1.2"/>
<line x1="425.63" y1="644.51" x2="432.87" y2="644.51" stroke="#333" stroke-width="1.2"/>
<line x1="425.63" y1="635.69" x2="432.87" y2="635.69" stroke="#333" stroke-width="1.2"/>
<line x1="449.05" y1="599.68" x2="449.05" y2="618.78" stroke="#333" stroke-width="1.2"/>
<line x1="445.52" y1="618.78" x2="452.58" y2="618.78" stroke="#333" stroke-width="1.2"/>
<line x1="445.52" y1="599.68" x2="452.58" y2="599.68" stroke="#333" stroke-width="1.2"/>
<circle cx="429.25" cy="626.87" r="1.4" fill="none" stroke="#000" stroke-width="1.15"/>
<circle cx="429.25" cy="632.75" r="1.4" fill="none" stroke="#000" stroke-width="1.15"/>
<circle cx="426.25" cy="641.57" r="1.4" fill="none" stroke="#000" stroke-width="1.15"/>
<circle cx="432.25" cy="643.04" r="1.4" fill="none" stroke="#000" stroke-width="1.15"/>
<circle cx="426.25" cy="647.45" r="1.4" fill="none" stroke="#000" stroke-width="1.15"/>
<circle cx="432.25" cy="647.45" r="1.4" fill="none" stroke="#000" stroke-width="1.15"/>
<circle cx="449.05" cy="576.89" r="1.4" fill="none" stroke="#000" stroke-width="1.15"/>
<circle cx="449.05" cy="588.65" r="1.4" fill="none" stroke="#000" stroke-width="1.15"/>
<circle cx="449.05" cy="610.7" r="1.4" fill="none" stroke="#000" stroke-width="1.15"/>
<circle cx="446.05" cy="615.11" r="1.4" fill="none" stroke="#000" stroke-width="1.15"/>
<circle cx="452.05" cy="618.05" r="1.4" fill="none" stroke="#000" stroke-width="1.15"/>
<circle cx="449.05" cy="635.69" r="1.4" fill="none" stroke="#000" stroke-width="1.15"/>
<line x1="414.1" y1="551.17" x2="414.1" y2="670.23" stroke="#000" stroke-width="1.45"/>
<line x1="413.38" y1="669.5" x2="464.1" y2="669.5" stroke="#000" stroke-width="1.45"/>
<line x1="408.5" y1="669.5" x2="414.1" y2="669.5" stroke="#000" stroke-width="1.45"/>
<text x="406.5" y="672.74" font-size="9" text-anchor="end">0</text>
<line x1="408.5" y1="640.1" x2="414.1" y2="640.1" stroke="#000" stroke-width="1.45"/>
<text x="406.5" y="643.34" font-size="9" text-anchor="end">2</text>
<line x1="408.5" y1="610.7" x2="414.1" y2="610.7" stroke="#000" stroke-width="1.45"/>
<text x="406.5" y="613.94" font-size="9" text-anchor="end">4</text>
<line x1="408.5" y1="581.3" x2="414.1" y2="581.3" stroke="#000" stroke-width="1.45"/>
<text x="406.5" y="584.54" font-size="9" text-anchor="end">6</text>
<line x1="408.5" y1="551.9" x2="414.1" y2="551.9" stroke="#000" stroke-width="1.45"/>
<text x="406.5" y="555.14" font-size="9" text-anchor="end">8</text>
<line x1="429.1" y1="669.5" x2="429.1" y2="675.1" stroke="#000" stroke-width="1.45"/>
<line x1="449" y1="669.5" x2="449" y2="675.1" stroke="#000" stroke-width="1.45"/>
<text x="430.1" y="684.8" font-size="9" text-anchor="end" transform="rotate(-45 430.1 684.8)">WT</text>
<text x="450" y="684.8" font-size="9" text-anchor="end" transform="rotate(-45 450 684.8)">P301S</text>
<text x="395.4" y="611" font-size="10" text-anchor="middle" transform="rotate(-90 395.4 611)">Gamma BW (Hz)</text>
<path d="M429.1 618.8 L429.1 560 L449 560 L449 567.4" stroke="#666" stroke-width="1.1" fill="none"/>
<path d="M439.05 553.35 L439.05 557.65 M437.19 554.42 L440.91 556.58 M440.91 554.42 L437.19 556.58" stroke="#222" stroke-width="1.1" fill="none" stroke-linecap="round"/>
<rect x="543.1" y="592.19" width="16.4" height="77.21" fill="#5a55f7" stroke="#000" stroke-width="1.4"/>
<rect x="565.9" y="597.34" width="16.1" height="72.06" fill="#f43d3d" stroke="#000" stroke-width="1.4"/>
<line x1="551.3" y1="589.28" x2="551.3" y2="593.7" stroke="#333" stroke-width="1.2"/>
<line x1="547.22" y1="593.7" x2="555.38" y2="593.7" stroke="#333" stroke-width="1.2"/>
<line x1="547.22" y1="589.28" x2="555.38" y2="589.28" stroke="#333" stroke-width="1.2"/>
<line x1="573.95" y1="595.75" x2="573.95" y2="597.52" stroke="#333" stroke-width="1.2"/>
<line x1="569.94" y1="597.52" x2="577.96" y2="597.52" stroke="#333" stroke-width="1.2"/>
<line x1="569.94" y1="595.75" x2="577.96" y2="595.75" stroke="#333" stroke-width="1.2"/>
<circle cx="551.3" cy="578.26" r="1.4" fill="none" stroke="#000" stroke-width="1.15"/>
<circle cx="546.3" cy="589.28" r="1.4" fill="none" stroke="#000" stroke-width="1.15"/>
<circle cx="551.3" cy="590.02" r="1.4" fill="none" stroke="#000" stroke-width="1.15"/>
<circle cx="556.3" cy="589.28" r="1.4" fill="none" stroke="#000" stroke-width="1.15"/>
<circle cx="546.3" cy="594.43" r="1.4" fill="none" stroke="#000" stroke-width="1.15"/>
<circle cx="551.3" cy="594.43" r="1.4" fill="none" stroke="#000" stroke-width="1.15"/>
<circle cx="556.3" cy="594.43" r="1.4" fill="none" stroke="#000" stroke-width="1.15"/>
<circle cx="568.95" cy="594.43" r="1.4" fill="none" stroke="#000" stroke-width="1.15"/>
<circle cx="573.95" cy="595.16" r="1.4" fill="none" stroke="#000" stroke-width="1.15"/>
<circle cx="578.95" cy="595.9" r="1.4" fill="none" stroke="#000" stroke-width="1.15"/>
<circle cx="568.95" cy="597.37" r="1.4" fill="none" stroke="#000" stroke-width="1.15"/>
<circle cx="573.95" cy="597.37" r="1.4" fill="none" stroke="#000" stroke-width="1.15"/>
<circle cx="578.95" cy="597.37" r="1.4" fill="none" stroke="#000" stroke-width="1.15"/>
<line x1="538.5" y1="551.07" x2="538.5" y2="670.12" stroke="#000" stroke-width="1.45"/>
<line x1="537.77" y1="669.4" x2="585.5" y2="669.4" stroke="#000" stroke-width="1.45"/>
<line x1="532.9" y1="669.4" x2="538.5" y2="669.4" stroke="#000" stroke-width="1.45"/>
<text x="530.9" y="672.64" font-size="9" text-anchor="end">0.0</text>
<line x1="532.9" y1="640" x2="538.5" y2="640" stroke="#000" stroke-width="1.45"/>
<text x="530.9" y="643.24" font-size="9" text-anchor="end">0.2</text>
<line x1="532.9" y1="610.6" x2="538.5" y2="610.6" stroke="#000" stroke-width="1.45"/>
<text x="530.9" y="613.84" font-size="9" text-anchor="end">0.4</text>
<line x1="532.9" y1="581.2" x2="538.5" y2="581.2" stroke="#000" stroke-width="1.45"/>
<text x="530.9" y="584.44" font-size="9" text-anchor="end">0.6</text>
<line x1="532.9" y1="551.8" x2="538.5" y2="551.8" stroke="#000" stroke-width="1.45"/>
<text x="530.9" y="555.04" font-size="9" text-anchor="end">0.8</text>
<line x1="551.2" y1="669.4" x2="551.2" y2="675" stroke="#000" stroke-width="1.45"/>
<line x1="574.3" y1="669.4" x2="574.3" y2="675" stroke="#000" stroke-width="1.45"/>
<text x="552.2" y="684.7" font-size="9" text-anchor="end" transform="rotate(-45 552.2 684.7)">WT</text>
<text x="575.3" y="684.7" font-size="9" text-anchor="end" transform="rotate(-45 575.3 684.7)">P301S</text>
<text x="512.8" y="611.2" font-size="9.2" text-anchor="middle" transform="rotate(-90 512.8 611.2)">Wake Theta Coherence</text>
<path d="M551.4 571.5 L551.4 557.1 L574 557.1 L574 585.7" stroke="#999" stroke-width="1.1" fill="none"/>
<path d="M562.7 550.45 L562.7 554.75 M560.84 551.52 L564.56 553.68 M564.56 551.52 L560.84 553.68" stroke="#222" stroke-width="1.1" fill="none" stroke-linecap="round"/>
<rect x="636.6" y="591.79" width="17.3" height="78.01" fill="#5a55f7" stroke="#000" stroke-width="1.4"/>
<rect x="659.5" y="596.25" width="16.7" height="73.55" fill="#f43d3d" stroke="#000" stroke-width="1.4"/>
<line x1="645.25" y1="589.31" x2="645.25" y2="592.88" stroke="#333" stroke-width="1.2"/>
<line x1="640.95" y1="592.88" x2="649.55" y2="592.88" stroke="#333" stroke-width="1.2"/>
<line x1="640.95" y1="589.31" x2="649.55" y2="589.31" stroke="#333" stroke-width="1.2"/>
<line x1="667.85" y1="594.66" x2="667.85" y2="596.44" stroke="#333" stroke-width="1.2"/>
<line x1="663.7" y1="596.44" x2="672" y2="596.44" stroke="#333" stroke-width="1.2"/>
<line x1="663.7" y1="594.66" x2="672" y2="594.66" stroke="#333" stroke-width="1.2"/>
<circle cx="645.25" cy="584.41" r="1.4" fill="none" stroke="#000" stroke-width="1.15"/>
<circle cx="645.25" cy="587.38" r="1.4" fill="none" stroke="#000" stroke-width="1.15"/>
<circle cx="641.25" cy="595.55" r="1.4" fill="none" stroke="#000" stroke-width="1.15"/>
<circle cx="649.25" cy="594.81" r="1.4" fill="none" stroke="#000" stroke-width="1.15"/>
<circle cx="645.25" cy="591.09" r="1.4" fill="none" stroke="#000" stroke-width="1.15"/>
<circle cx="662.85" cy="592.58" r="1.4" fill="none" stroke="#000" stroke-width="1.15"/>
<circle cx="667.85" cy="591.09" r="1.4" fill="none" stroke="#000" stroke-width="1.15"/>
<circle cx="672.85" cy="593.32" r="1.4" fill="none" stroke="#000" stroke-width="1.15"/>
<circle cx="662.85" cy="595.55" r="1.4" fill="none" stroke="#000" stroke-width="1.15"/>
<circle cx="667.85" cy="595.55" r="1.4" fill="none" stroke="#000" stroke-width="1.15"/>
<circle cx="672.85" cy="595.55" r="1.4" fill="none" stroke="#000" stroke-width="1.15"/>
<line x1="632.5" y1="550.27" x2="632.5" y2="670.52" stroke="#000" stroke-width="1.45"/>
<line x1="631.77" y1="669.8" x2="679" y2="669.8" stroke="#000" stroke-width="1.45"/>
<line x1="626.9" y1="669.8" x2="632.5" y2="669.8" stroke="#000" stroke-width="1.45"/>
<text x="624.9" y="673.04" font-size="9" text-anchor="end">0.0</text>
<line x1="626.9" y1="640.1" x2="632.5" y2="640.1" stroke="#000" stroke-width="1.45"/>
<text x="624.9" y="643.34" font-size="9" text-anchor="end">0.2</text>
<line x1="626.9" y1="610.4" x2="632.5" y2="610.4" stroke="#000" stroke-width="1.45"/>
<text x="624.9" y="613.64" font-size="9" text-anchor="end">0.4</text>
<line x1="626.9" y1="580.7" x2="632.5" y2="580.7" stroke="#000" stroke-width="1.45"/>
<text x="624.9" y="583.94" font-size="9" text-anchor="end">0.6</text>
<line x1="626.9" y1="551" x2="632.5" y2="551" stroke="#000" stroke-width="1.45"/>
<text x="624.9" y="554.24" font-size="9" text-anchor="end">0.8</text>
<line x1="645.2" y1="669.8" x2="645.2" y2="675.4" stroke="#000" stroke-width="1.45"/>
<line x1="667.6" y1="669.8" x2="667.6" y2="675.4" stroke="#000" stroke-width="1.45"/>
<text x="646.2" y="685.1" font-size="9" text-anchor="end" transform="rotate(-45 646.2 685.1)">WT</text>
<text x="668.6" y="685.1" font-size="9" text-anchor="end" transform="rotate(-45 668.6 685.1)">P301S</text>
<text x="607.8" y="611.2" font-size="9.2" text-anchor="middle" transform="rotate(-90 607.8 611.2)">Wake Beta Coherence</text>
<path d="M645.2 574 L645.2 557.3 L667.6 557.3 L667.6 584" stroke="#999" stroke-width="1.1" fill="none"/>
<path d="M656.4 550.65 L656.4 554.95 M654.54 551.72 L658.26 553.88 M658.26 551.72 L654.54 553.88" stroke="#222" stroke-width="1.1" fill="none" stroke-linecap="round"/>
<line x1="70" y1="97" x2="40" y2="92" stroke="#bbbbbb" stroke-width="0.5"/>
<line x1="70" y1="99" x2="38" y2="99" stroke="#bbbbbb" stroke-width="0.5"/>
<line x1="70" y1="101" x2="40" y2="106" stroke="#bbbbbb" stroke-width="0.5"/>
<line x1="72" y1="103" x2="46" y2="111" stroke="#bbbbbb" stroke-width="0.5"/>
<line x1="87" y1="97" x2="117" y2="92" stroke="#bbbbbb" stroke-width="0.5"/>
<line x1="87" y1="99" x2="119" y2="99" stroke="#bbbbbb" stroke-width="0.5"/>
<line x1="87" y1="101" x2="117" y2="106" stroke="#bbbbbb" stroke-width="0.5"/>
<line x1="85" y1="103" x2="111" y2="111" stroke="#bbbbbb" stroke-width="0.5"/>
<ellipse cx="55" cy="65.8" rx="10.2" ry="12.6" fill="#4d4745" transform="rotate(-20 55 65.8)"/>
<ellipse cx="55.6" cy="65.6" rx="9.2" ry="11.6" fill="#bd8a86" transform="rotate(-20 55.6 65.6)"/>
<path d="M52 66 C 53 62.5 57 61.5 59.5 63" stroke="#d2a4a0" stroke-width="0.9" fill="none"/>
<ellipse cx="103.7" cy="65" rx="10.2" ry="12.6" fill="#4d4745" transform="rotate(20 103.7 65)"/>
<ellipse cx="103.1" cy="64.8" rx="9.2" ry="11.6" fill="#bd8a86" transform="rotate(20 103.1 64.8)"/>
<path d="M99.5 62.5 C 102 61 106 62 107 65.5" stroke="#d2a4a0" stroke-width="0.9" fill="none"/>
<path d="M79 62.5 C 70 62.5 62 64 58.5 69 C 55 74 54 82 55.5 89 C 57 95 61 99 67 102.5 C 72 105.5 75.5 109.5 79 109.8 C 82.5 109.5 86 105.5 91 102.5 C 97 99 101 95 102.5 89 C 104 82 103 74 99.5 69 C 96 64 88 62.5 79 62.5 Z" stroke="none" stroke-width="0" fill="#4a4644"/>
<path d="M65.8 71 C 65.8 66.8 69.5 65.6 74 65.6 L 86 65.6 C 90.5 65.6 94.2 66.8 94.2 71 L 94.2 77.5 C 94.2 80.3 91.5 81 88.5 80.3 C 85.5 79.6 83 80.8 80 79 C 77 80.8 74.5 79.6 71.5 80.3 C 68.5 81 65.8 80.3 65.8 77.5 Z" stroke="none" stroke-width="0" fill="#dfb7b2"/>
<ellipse cx="80" cy="72.5" rx="9.5" ry="5.3" fill="none" stroke="#efd2cf" stroke-width="0.7"/>
<ellipse cx="67.8" cy="86" rx="2.2" ry="2.5" fill="#111"/>
<ellipse cx="89.5" cy="86" rx="2.2" ry="2.5" fill="#111"/>
<ellipse cx="78.4" cy="103.6" rx="3.2" ry="2.3" fill="#d79b96"/>
<path d="M47.5 43.5 C 50 49 56 50 62 49.5 C 66 49 66 53 68 55 C 70 57.5 73 58.5 75.5 59.8" stroke="#f0d428" stroke-width="1.3" fill="none"/>
<path d="M53 41 C 52 46 55 49.5 60 50.5 C 66 51.5 69 55 76.5 59.8" stroke="#f08a2a" stroke-width="1.3" fill="none"/>
<path d="M70 19 C 70 24 80 26 81 33 C 82 40 76 43 79 48 C 82 53 85 54 84.5 60" stroke="#2b8a5a" stroke-width="1.2" fill="none"/>
<path d="M83.5 18 L 81 38 L 79.7 60" stroke="#4aa0e8" stroke-width="1.2" fill="none"/>
<path d="M94 18 C 93 26 80 28 78 35 C 76 41 85 42 83 47 C 81 52 75 53 75 60" stroke="#b03c9a" stroke-width="1.2" fill="none"/>
<rect x="73.6" y="59.5" width="2.6" height="6" fill="#9aa3b0"/>
<rect x="78.7" y="59.5" width="2.6" height="6" fill="#9aa3b0"/>
<rect x="83.2" y="59.5" width="2.6" height="6" fill="#9aa3b0"/>
<text x="71.2" y="15.6" font-size="8.3">EEGs</text>
<text x="39.6" y="38" font-size="8.8">EMGs</text>
<text x="133.5" y="17" font-size="8.6" fill="#222">EEG1</text>
<text x="133.5" y="34.5" font-size="8.6" fill="#222">EEG2</text>
<path d="M164.8 9.7 L164.8 14.2 L164.8 13.88 L165.25 14.73 L165.7 13.95 L166.15 11.87 L166.6 10.59 L167.05 10.57 L167.5 10.56 L167.95 11.42 L168.4 13.33 L168.85 15.24 L169.3 13.99 L169.75 12.76 L170.2 11.12 L170.65 9.21 L171.1 11.39 L171.55 13.31 L172 13.79 L172.45 13.14 L172.9 10.64 L173.35 10.21 L173.8 10.74 L174.25 12.88 L174.7 13.88 L175.15 13.46 L175.6 12.75 L176.05 12.6 L176.5 10.53 L176.95 11.35 L177.4 12.03 L177.85 12.9 L178.3 13.63 L178.75 12.69 L179.2 12.36 L179.65 11.44 L180.1 10.44 L180.55 10.72 L181 12.75 L181.45 13.24 L181.9 14.48 L182.35 13.92 L182.8 12.53 L183.25 11.13 L183.7 9.92 L184.15 11.06 L184.6 11.66 L185.05 14.15 L185.5 14.44 L185.95 14.04 L186.4 13.22 L186.85 11.47 L187.3 10.77 L187.75 9.82 L188.2 11.01 L188.65 12.38 L189.1 13.43 L189.55 13.94 L190 14.34 L190.45 13.83 L190.9 12.93 L191.35 11.81 L191.8 10.4 L192.25 10.34 L192.7 10.82 L193.15 11.26 L193.6 13.79 L194.05 14.25 L194.5 11.94 L194.95 10.1 L195.4 10.46 L195.85 12.29 L196.3 13.77 L196.75 13.74 L197.2 12.92 L197.65 10.61 L198.1 10.1 L198.55 9.94 L199 10.49 L199.45 12.98 L199.9 13.94 L200.35 14.03 L200.8 12.89 L201.25 10.81 L201.7 9.75 L202.15 10.96 L202.6 12.19 L203.05 13.98 L203.5 14.81 L203.95 13.64 L204.4 11.15 L204.85 10.26 L205.3 11.24 L205.75 12.34 L206.2 14.59 L206.65 14.21 L207.1 13.47 L207.55 10.64 L208 9.83 L208.45 10.13 L208.9 10.79 L209.35 13.58 L209.8 13.71 L210.25 14.51 L210.7 14.04 L211.15 13.1 L211.6 11.85 L212.05 10.78 L212.5 9.78 L212.95 9.66 L213.4 10.7 L213.85 13.91 L214.3 15.03 L214.75 13.6 L215.2 12.96 L215.65 10.76 L216.1 9.97 L216.55 10.43 L217 12.71 L217.45 14.44 L217.9 13.45 L218.35 10.73 L218.8 9.64 L219.25 9.84 L219.7 10.42 L220.15 12.44 L220.6 14.12 L221.05 14.9 L221.5 14.07 L221.95 11.1 L222.4 10.15 L222.85 9.64 L223.3 11.43 L223.75 13.84 L224.2 14.51 L224.65 13.7 L225.1 12.41 L225.55 12.33 L226 10.82 L226.45 11.22 L226.9 11.81 L227.35 13.06 L227.8 13.49 L228.25 13.66 L228.7 12.37 L229.15 10.58 L229.6 10.69 L230.05 10.28 L230.5 11.74 L230.95 13.82 L231.4 13.92 L231.85 12.38 L232.3 10.63 L232.75 9.88 L233.2 9.11 L233.65 10.43 L234.1 11.55 L234.55 14.56 L235 14.63 L235.45 12.61 L235.9 10.87 L236.35 9.76 L236.8 9.98 L237.25 12.85 L237.7 15.16 L238.15 13.75 L238.6 11.07 L239.05 10.59 L239.5 10.61 L239.95 12.06 L240.4 12.75 L240.85 13.13 L241.3 13.22 L241.75 11.96 L242.2 11.08 L242.65 11.32 L243.1 11.54 L243.55 12.31 L244 12.99 L244.45 13.05" stroke="#111" stroke-width="1.35" fill="none" stroke-linejoin="round"/>
<path d="M164.8 27.1 L164.8 31.6 L164.8 32.31 L165.25 32.31 L165.7 28.22 L166.15 28.02 L166.6 27.66 L167.05 28.35 L167.5 29.13 L167.95 30.09 L168.4 31.57 L168.85 30.43 L169.3 28.58 L169.75 28.04 L170.2 28.61 L170.65 30 L171.1 30.77 L171.55 31.48 L172 30.54 L172.45 29.36 L172.9 27.67 L173.35 26.21 L173.8 26.65 L174.25 28.69 L174.7 30.38 L175.15 32.68 L175.6 32.8 L176.05 31.66 L176.5 28.75 L176.95 26.68 L177.4 27.16 L177.85 29.03 L178.3 31.75 L178.75 32.66 L179.2 32.08 L179.65 29.84 L180.1 26.04 L180.55 26.5 L181 28.25 L181.45 32.57 L181.9 33.03 L182.35 32.57 L182.8 28.61 L183.25 27.94 L183.7 28.26 L184.15 29.05 L184.6 30.52 L185.05 31.37 L185.5 29.91 L185.95 28.4 L186.4 27.8 L186.85 27.89 L187.3 28.23 L187.75 29.07 L188.2 31.74 L188.65 32.34 L189.1 31.9 L189.55 30.37 L190 28.47 L190.45 27.95 L190.9 28.72 L191.35 29.73 L191.8 29.88 L192.25 30.86 L192.7 31.3 L193.15 30.48 L193.6 28.81 L194.05 28.07 L194.5 28.47 L194.95 29.3 L195.4 30.01 L195.85 29.68 L196.3 29.6 L196.75 29.85 L197.2 29.12 L197.65 29.38 L198.1 29.37 L198.55 29.38 L199 29.7 L199.45 29.9 L199.9 29.61 L200.35 29.77 L200.8 29.26 L201.25 28.87 L201.7 29.04 L202.15 29.61 L202.6 29.69 L203.05 30.19 L203.5 29.59 L203.95 29.47 L204.4 29.61 L204.85 29.25 L205.3 29.36 L205.75 30 L206.2 30.2 L206.65 30.32 L207.1 29.59 L207.55 29.34 L208 29.69 L208.45 29.22 L208.9 29.76 L209.35 29.79 L209.8 30.35 L210.25 29.96 L210.7 29.4 L211.15 29.09 L211.6 29.09 L212.05 29.52 L212.5 29.59 L212.95 30.41 L213.4 30.38 L213.85 29.24 L214.3 29.21 L214.75 28.77 L215.2 29.66 L215.65 30.27 L216.1 30.34 L216.55 30.32 L217 29.28 L217.45 28.54 L217.9 29.14 L218.35 29.82 L218.8 30.23 L219.25 29.6 L219.7 29.29 L220.15 28.7 L220.6 28.81 L221.05 28.85 L221.5 29.01 L221.95 29.65 L222.4 31.15 L222.85 32.26 L223.3 30.38 L223.75 28.37 L224.2 26.66 L224.65 27.48 L225.1 29.02 L225.55 31.53 L226 31.73 L226.45 31.16 L226.9 28 L227.35 28.14 L227.8 28.76 L228.25 29.59 L228.7 29.96 L229.15 30.79 L229.6 33.12 L230.05 32.53 L230.5 29.13 L230.95 27.81 L231.4 26.6 L231.85 26.26 L232.3 29.19 L232.75 31.28 L233.2 32.53 L233.65 31.46 L234.1 29.16 L234.55 26.21 L235 28.47 L235.45 32.33 L235.9 33.58 L236.35 33.51 L236.8 30.49 L237.25 29.6 L237.7 27.34 L238.15 27.29 L238.6 28.68 L239.05 31.08 L239.5 31.53 L239.95 32.13 L240.4 30.17 L240.85 29.27 L241.3 27.64 L241.75 28.05 L242.2 28.95 L242.65 30.02 L243.1 31.92 L243.55 30.55 L244 28.2 L244.45 27.25" stroke="#111" stroke-width="1.35" fill="none" stroke-linejoin="round"/>
<line x1="167.44" y1="51" x2="167.44" y2="96.4" stroke="#333" stroke-width="0.6" stroke-dasharray="1.5 1.2"/>
<line x1="175.68" y1="51" x2="175.68" y2="96.4" stroke="#333" stroke-width="0.6" stroke-dasharray="1.5 1.2"/>
<line x1="185.98" y1="51" x2="185.98" y2="96.4" stroke="#333" stroke-width="0.6" stroke-dasharray="1.5 1.2"/>
<line x1="221" y1="51" x2="221" y2="96.4" stroke="#333" stroke-width="0.6" stroke-dasharray="1.5 1.2"/>
<path d="M159.2 95.79 C159.3 94.63 159.58 90.64 159.82 88.82 C160.06 87 160.33 85.88 160.64 84.87 C160.95 83.86 161.23 83.2 161.67 82.75 C162.12 82.3 162.77 82.4 163.32 82.14 C163.87 81.89 164.52 81.74 164.97 81.23 C165.41 80.73 165.65 79.51 166 79.11 C166.34 78.71 166.68 78.66 167.03 78.81 C167.37 78.96 167.71 79.67 168.06 80.02 C168.4 80.37 168.71 81.13 169.09 80.93 C169.47 80.73 169.91 80.17 170.32 78.81 C170.74 77.44 171.08 74.66 171.56 72.74 C172.04 70.82 172.69 68.59 173.21 67.28 C173.72 65.97 174.24 64.85 174.65 64.85 C175.06 64.85 175.3 65.06 175.68 67.28 C176.06 69.5 176.47 75.12 176.92 78.2 C177.36 81.28 177.81 83.86 178.36 85.78 C178.91 87.7 179.46 88.77 180.21 89.73 C180.97 90.69 181.93 91.04 182.89 91.55 C183.85 92.05 184.78 92.46 185.98 92.76 C187.18 93.06 188.38 93.11 190.1 93.37 C191.82 93.62 193.88 94.02 196.28 94.28 C198.68 94.53 201.77 94.73 204.52 94.88 C207.27 95.04 210.01 95.09 212.76 95.19 C215.51 95.29 217.91 95.41 221 95.49 C224.09 95.57 227.87 95.59 231.3 95.64 C234.73 95.69 239.88 95.77 241.6 95.79" stroke="#8e1d56" stroke-width="1.8" fill="none"/>
<line x1="159.2" y1="50.4" x2="159.2" y2="96.9" stroke="#000" stroke-width="1"/>
<line x1="158.7" y1="96.4" x2="241.7" y2="96.4" stroke="#000" stroke-width="1"/>
<line x1="156.4" y1="96.4" x2="159.2" y2="96.4" stroke="#000" stroke-width="0.9"/>
<text x="155.3" y="99.1" font-size="7.5" text-anchor="end" fill="#222">0</text>
<line x1="156.4" y1="81.23" x2="159.2" y2="81.23" stroke="#000" stroke-width="0.9"/>
<text x="155.3" y="83.93" font-size="7.5" text-anchor="end" fill="#222">50</text>
<line x1="156.4" y1="66.07" x2="159.2" y2="66.07" stroke="#000" stroke-width="0.9"/>
<text x="155.3" y="68.77" font-size="7.5" text-anchor="end" fill="#222">100</text>
<line x1="156.4" y1="50.9" x2="159.2" y2="50.9" stroke="#000" stroke-width="0.9"/>
<text x="155.3" y="53.6" font-size="7.5" text-anchor="end" fill="#222">150</text>
<line x1="159.2" y1="96.4" x2="159.2" y2="99" stroke="#000" stroke-width="0.9"/>
<text x="159.2" y="106.2" font-size="7.5" text-anchor="middle" fill="#222">0</text>
<line x1="179.8" y1="96.4" x2="179.8" y2="99" stroke="#000" stroke-width="0.9"/>
<text x="179.8" y="106.2" font-size="7.5" text-anchor="middle" fill="#222">10</text>
<line x1="200.4" y1="96.4" x2="200.4" y2="99" stroke="#000" stroke-width="0.9"/>
<text x="200.4" y="106.2" font-size="7.5" text-anchor="middle" fill="#222">20</text>
<line x1="221" y1="96.4" x2="221" y2="99" stroke="#000" stroke-width="0.9"/>
<text x="221" y="106.2" font-size="7.5" text-anchor="middle" fill="#222">30</text>
<line x1="241.6" y1="96.4" x2="241.6" y2="99" stroke="#000" stroke-width="0.9"/>
<text x="241.6" y="106.2" font-size="7.5" text-anchor="middle" fill="#222">40</text>
<text x="199.2" y="116.3" font-size="6.8" text-anchor="middle" fill="#222">Frequency</text>
<text x="135.8" y="74.5" font-size="7.2" text-anchor="middle" fill="#222" transform="rotate(-90 135.8 74.5)">Power (µV<tspan dy="-2" font-size="5">2</tspan><tspan dy="2">)</tspan></text>
<text x="335.4" y="20.3" font-size="8.9" text-anchor="middle" font-weight="bold" fill="#111">FOOOF analysis</text>
<text x="299.6" y="43.3" font-size="7.3" text-anchor="middle" font-weight="bold" fill="#222">Aperiodic</text>
<text x="299.4" y="50.6" font-size="7.3" text-anchor="middle" font-weight="bold" fill="#222">component</text>
<text x="383.3" y="42.3" font-size="7.3" text-anchor="middle" font-weight="bold" fill="#222">Periodic</text>
<text x="384.2" y="50.7" font-size="7.3" text-anchor="middle" font-weight="bold" fill="#222">component</text>
<line x1="269" y1="57" x2="269" y2="96.4" stroke="#444" stroke-width="0.6"/>
<line x1="269" y1="96.4" x2="331" y2="96.4" stroke="#444" stroke-width="0.6"/>
<path d="M269 64.5 C269.58 64 271.23 62.15 272.5 61.5 C273.77 60.85 275.27 60.43 276.6 60.6 C277.93 60.77 279.1 61.18 280.5 62.5 C281.9 63.82 283.17 66.12 285 68.5 C286.83 70.88 289.33 74.95 291.5 76.8 C293.67 78.65 295.75 78.97 298 79.6 C300.25 80.23 302.83 80.1 305 80.6 C307.17 81.1 309.17 81.67 311 82.6 C312.83 83.53 314.33 85.17 316 86.2 C317.67 87.23 318.58 87.98 321 88.8 C323.42 89.62 328.92 90.72 330.5 91.1" stroke="#d1378f" stroke-width="1.8" fill="none"/>
<path d="M269 64.5 C270.5 65.58 274.5 68.78 278 71 C281.5 73.22 285.5 75.63 290 77.8 C294.5 79.97 300.33 82.25 305 84 C309.67 85.75 313.75 87.08 318 88.3 C322.25 89.52 328.42 90.8 330.5 91.3" stroke="#222" stroke-width="1.9" fill="none"/>
<line x1="267.8" y1="60" x2="269" y2="60" stroke="#666" stroke-width="0.4"/>
<text x="266.6" y="61" font-size="2.8" text-anchor="end" fill="#555">2.5</text>
<line x1="267.8" y1="67" x2="269" y2="67" stroke="#666" stroke-width="0.4"/>
<text x="266.6" y="68" font-size="2.8" text-anchor="end" fill="#555">2.0</text>
<line x1="267.8" y1="74" x2="269" y2="74" stroke="#666" stroke-width="0.4"/>
<text x="266.6" y="75" font-size="2.8" text-anchor="end" fill="#555">1.5</text>
<line x1="267.8" y1="81" x2="269" y2="81" stroke="#666" stroke-width="0.4"/>
<text x="266.6" y="82" font-size="2.8" text-anchor="end" fill="#555">1.0</text>
<line x1="267.8" y1="88" x2="269" y2="88" stroke="#666" stroke-width="0.4"/>
<text x="266.6" y="89" font-size="2.8" text-anchor="end" fill="#555">0.5</text>
<line x1="267.8" y1="95" x2="269" y2="95" stroke="#666" stroke-width="0.4"/>
<text x="266.6" y="96" font-size="2.8" text-anchor="end" fill="#555">0.0</text>
<text x="278" y="100.2" font-size="2.8" text-anchor="middle" fill="#555">10</text>
<text x="292" y="100.2" font-size="2.8" text-anchor="middle" fill="#555">20</text>
<text x="307" y="100.2" font-size="2.8" text-anchor="middle" fill="#555">30</text>
<text x="321" y="100.2" font-size="2.8" text-anchor="middle" fill="#555">40</text>
<line x1="278" y1="96.4" x2="278" y2="97.6" stroke="#666" stroke-width="0.4"/>
<line x1="292" y1="96.4" x2="292" y2="97.6" stroke="#666" stroke-width="0.4"/>
<line x1="307" y1="96.4" x2="307" y2="97.6" stroke="#666" stroke-width="0.4"/>
<line x1="321" y1="96.4" x2="321" y2="97.6" stroke="#666" stroke-width="0.4"/>
<text x="300" y="102.7" font-size="2.8" text-anchor="middle" fill="#333">Frequency (Hz)</text>
<text x="260.5" y="77" font-size="2.8" text-anchor="middle" fill="#333" transform="rotate(-90 260.5 77)">log(Power)</text>
<line x1="353.3" y1="57" x2="353.3" y2="96.4" stroke="#444" stroke-width="0.6"/>
<line x1="353.3" y1="96.4" x2="416" y2="96.4" stroke="#444" stroke-width="0.6"/>
<path d="M356.1 96.4 C356.5 93.67 357.68 84.57 358.5 80 C359.32 75.43 360.13 71.48 361 69 C361.87 66.52 362.78 65.52 363.7 65.1 C364.62 64.68 365.62 65.43 366.5 66.5 C367.38 67.57 367.92 69.08 369 71.5 C370.08 73.92 371.67 77.92 373 81 C374.33 84.08 375.83 87.9 377 90 C378.17 92.1 378.92 92.73 380 93.6 C381.08 94.47 382.17 94.87 383.5 95.2 C384.83 95.53 386.25 95.58 388 95.6 C389.75 95.62 392.25 95.57 394 95.3 C395.75 95.03 396.9 94.45 398.5 94 C400.1 93.55 402.1 92.68 403.6 92.6 C405.1 92.52 406.27 93.1 407.5 93.5 C408.73 93.9 409.67 94.58 411 95 C412.33 95.42 414.75 95.83 415.5 96" stroke="#4a90f0" stroke-width="1.8" fill="none"/>
<line x1="352.1" y1="60" x2="353.3" y2="60" stroke="#666" stroke-width="0.4"/>
<text x="350.8" y="61" font-size="2.8" text-anchor="end" fill="#555">1.5</text>
<line x1="352.1" y1="67" x2="353.3" y2="67" stroke="#666" stroke-width="0.4"/>
<text x="350.8" y="68" font-size="2.8" text-anchor="end" fill="#555">1.0</text>
<line x1="352.1" y1="74" x2="353.3" y2="74" stroke="#666" stroke-width="0.4"/>
<text x="350.8" y="75" font-size="2.8" text-anchor="end" fill="#555">0.5</text>
<line x1="352.1" y1="81" x2="353.3" y2="81" stroke="#666" stroke-width="0.4"/>
<text x="350.8" y="82" font-size="2.8" text-anchor="end" fill="#555">0</text>
<line x1="352.1" y1="88" x2="353.3" y2="88" stroke="#666" stroke-width="0.4"/>
<text x="350.8" y="89" font-size="2.8" text-anchor="end" fill="#555">-0.5</text>
<line x1="352.1" y1="95" x2="353.3" y2="95" stroke="#666" stroke-width="0.4"/>
<text x="350.8" y="96" font-size="2.8" text-anchor="end" fill="#555">-1.0</text>
<text x="363.7" y="100.2" font-size="2.8" text-anchor="middle" fill="#555">10</text>
<text x="378" y="100.2" font-size="2.8" text-anchor="middle" fill="#555">20</text>
<text x="393" y="100.2" font-size="2.8" text-anchor="middle" fill="#555">30</text>
<text x="408" y="100.2" font-size="2.8" text-anchor="middle" fill="#555">40</text>
<line x1="363.7" y1="96.4" x2="363.7" y2="97.6" stroke="#666" stroke-width="0.4"/>
<line x1="378" y1="96.4" x2="378" y2="97.6" stroke="#666" stroke-width="0.4"/>
<line x1="393" y1="96.4" x2="393" y2="97.6" stroke="#666" stroke-width="0.4"/>
<line x1="408" y1="96.4" x2="408" y2="97.6" stroke="#666" stroke-width="0.4"/>
<text x="384.5" y="102.7" font-size="2.8" text-anchor="middle" fill="#333">Frequency (Hz)</text>
<text x="344.5" y="77" font-size="2.8" text-anchor="middle" fill="#333" transform="rotate(-90 344.5 77)">log(Power)</text>
<text x="454.8" y="13.8" font-size="8.4" text-anchor="middle" font-weight="bold" fill="#111">Wide field</text>
<text x="456" y="24.8" font-size="8.4" text-anchor="middle" font-weight="bold" fill="#111">optical imaging</text>
<line x1="454.4" y1="28.9" x2="454.4" y2="33" stroke="#555" stroke-width="0.8"/>
<path d="M451.1 38.8 L451.1 34 C451.1 32.5 452.5 32 454.4 32 C456.3 32 457.7 32.5 457.7 34 L457.7 38.8 Z" stroke="none" stroke-width="0" fill="#545856"/>
<rect x="442.6" y="38.5" width="24.3" height="8.8" fill="#7d7f7d"/>
<line x1="442.6" y1="43.3" x2="466.9" y2="43.3" stroke="#5f615f" stroke-width="0.7"/>
<rect x="447.2" y="47.3" width="15.1" height="4.6" fill="#858785"/>
<line x1="447.2" y1="49.5" x2="462.3" y2="49.5" stroke="#6a6c6a" stroke-width="0.6"/>
<rect x="443.2" y="51.9" width="19.8" height="15.2" fill="#8c8c8c"/>
<path d="M434.7 58.5 L 445.9 58.5 L 445.9 65.7 L 438 65.7 Z" stroke="none" stroke-width="0" fill="#9a9a9a"/>
<rect x="431" y="55.8" width="3.2" height="13.2" fill="#a6a6a6"/>
<path d="M442.8 45 C 437 46 434 51 435.2 58" stroke="#333" stroke-width="0.6" fill="none"/>
<path d="M453.1 70.3 L 456.4 70.3 L 457.3 92 L 452.4 92 Z" stroke="none" stroke-width="0" fill="#e2f25c"/>
<line x1="447" y1="69.8" x2="449.6" y2="91" stroke="#1a1a1a" stroke-width="6.4"/>
<line x1="449.41" y1="89.41" x2="449.6" y2="91" stroke="#38d23a" stroke-width="6.4"/>
<line x1="449.41" y1="89.41" x2="449.31" y2="88.62" stroke="#333" stroke-width="6.4"/>
<line x1="470.6" y1="72.2" x2="460.3" y2="91" stroke="#1a1a1a" stroke-width="6.6"/>
<line x1="461.07" y1="89.6" x2="460.3" y2="91" stroke="#3a7bea" stroke-width="6.6"/>
<line x1="461.07" y1="89.6" x2="461.45" y2="88.9" stroke="#333" stroke-width="6.6"/>
<line x1="429.5" y1="84.8" x2="448.6" y2="95.2" stroke="#1a1a1a" stroke-width="7"/>
<line x1="447.19" y1="94.43" x2="448.6" y2="95.2" stroke="#ea2a2a" stroke-width="7"/>
<line x1="447.19" y1="94.43" x2="446.49" y2="94.05" stroke="#333" stroke-width="7"/>
<path d="M452 102 C 454 99.5 458 98.5 463 98.8 C 470 98.5 477 101 479 107 L 479.5 110 L 455 110 C 454 107 452.5 104.5 452 102 Z" stroke="none" stroke-width="0" fill="#4a4644"/>
<ellipse cx="455.8" cy="100.5" rx="2.6" ry="1.6" fill="#ddd"/>
<path d="M479 106 C 483 104 484 108 481 110" stroke="#a06a6a" stroke-width="0.6" fill="none"/>
<rect x="509.4" y="20.8" width="16" height="11.9" fill="#616161" stroke="#111" stroke-width="1.1"/>
<text x="527.9" y="30" font-size="9.4" fill="#111">3 mo WT</text>
<rect x="509.4" y="47.7" width="16" height="11.9" fill="#ecb032" stroke="#111" stroke-width="1.1"/>
<text x="527.9" y="56.9" font-size="9.4" fill="#111">6 mo WT</text>
<rect x="509.4" y="73.5" width="16" height="11.9" fill="#c978b4" stroke="#111" stroke-width="1.1"/>
<text x="527.9" y="82.7" font-size="9.4" fill="#111">9 mo WT</text>
<rect x="597.1" y="20.8" width="16" height="11.9" fill="#3ea86b" stroke="#111" stroke-width="1.1"/>
<text x="615.6" y="30" font-size="9.4" fill="#111">3 mo P301S</text>
<rect x="597.1" y="46.6" width="16" height="11.9" fill="#4a86f6" stroke="#111" stroke-width="1.1"/>
<text x="615.6" y="55.8" font-size="9.4" fill="#111">6 mo P301S</text>
<rect x="597.1" y="73.5" width="16" height="11.9" fill="#f42a14" stroke="#111" stroke-width="1.1"/>
<text x="615.6" y="82.7" font-size="9.4" fill="#111">9 mo P301S</text>
</svg>
</body></html>
